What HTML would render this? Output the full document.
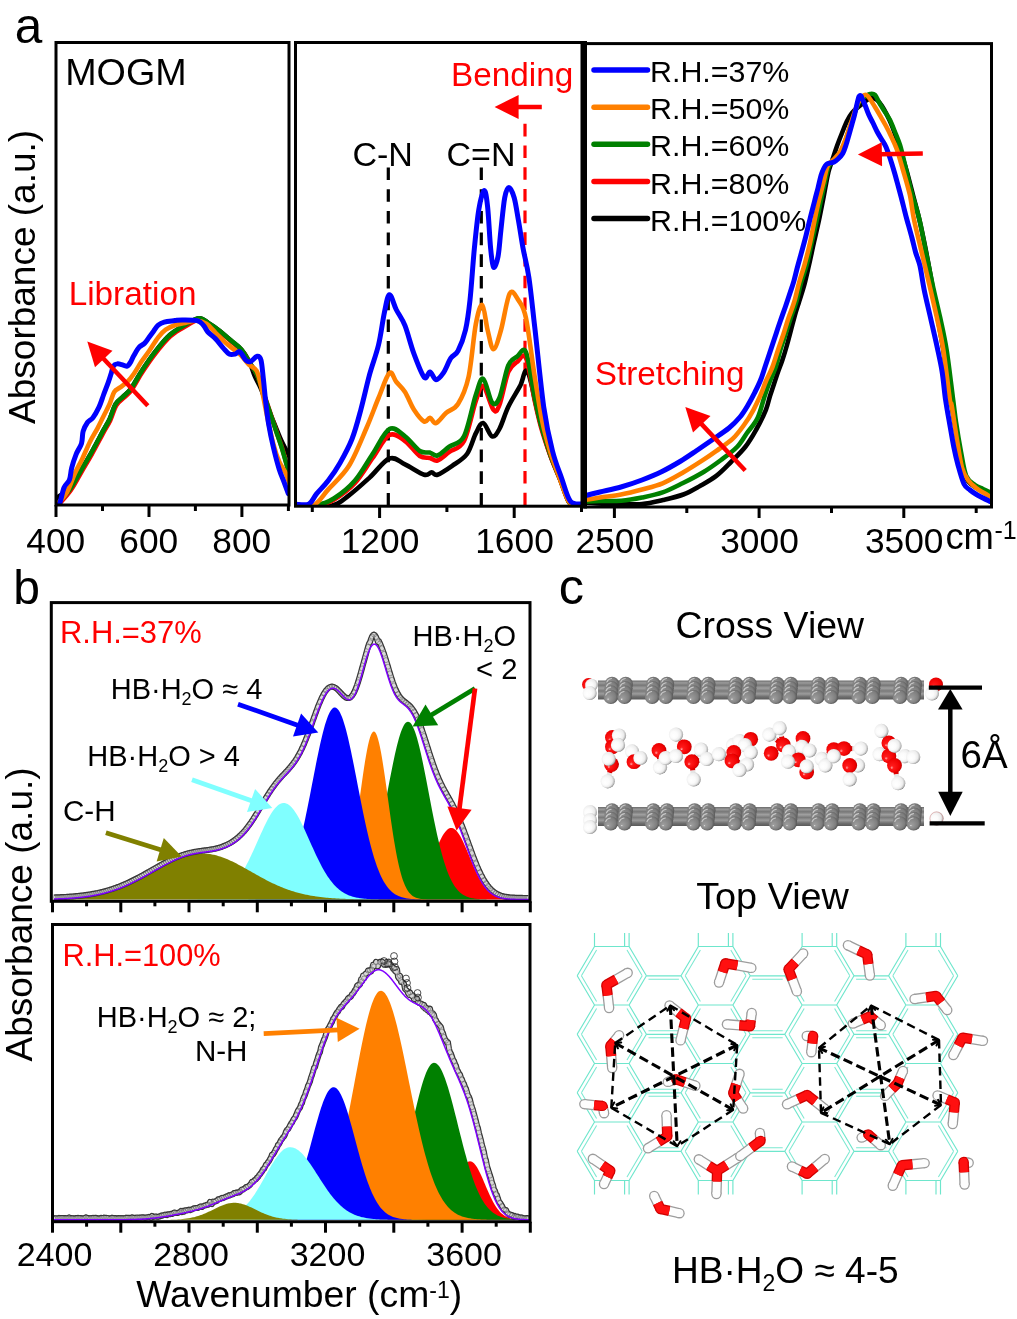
<!DOCTYPE html>
<html><head><meta charset="utf-8"><style>
html,body{margin:0;padding:0;background:#fff;width:1017px;height:1319px;overflow:hidden}
svg{display:block;will-change:transform}
</style></head><body>
<svg width="1017" height="1319" viewBox="0 0 1017 1319">
<rect width="1017" height="1319" fill="#fff"/>
<defs><clipPath id="c1"><rect x="56" y="43" width="233" height="462"/></clipPath><clipPath id="c2"><rect x="295" y="43" width="287" height="462"/></clipPath><clipPath id="c3"><rect x="585" y="44" width="406" height="463"/></clipPath></defs>
<g stroke-width="3.2" fill="none" stroke-dasharray="12.6,9.1"><line x1="388.3" y1="167.5" x2="388.3" y2="505" stroke="#000"/><line x1="481.3" y1="167.5" x2="481.3" y2="505" stroke="#000"/><line x1="525" y1="123.8" x2="525" y2="505" stroke="#ff0000"/></g>
<g clip-path="url(#c1)" fill="none" stroke-width="4.6" stroke-linejoin="round" stroke-linecap="round">
<path d="M56.0,500.0 C56.3,499.5 55.6,499.0 58.0,497.0 C60.4,495.0 66.4,492.4 70.2,488.0 C74.0,483.6 77.3,476.7 80.8,470.8 C84.3,464.9 87.9,458.9 91.4,452.6 C94.9,446.3 99.0,438.5 102.0,432.9 C105.0,427.3 107.3,424.0 109.6,419.2 C111.9,414.4 113.4,407.8 115.7,404.0 C118.0,400.2 120.8,399.0 123.3,396.5 C125.8,394.0 128.1,392.7 130.9,388.9 C133.7,385.1 137.0,378.5 140.0,373.7 C143.0,368.9 146.1,364.3 149.1,360.0 C152.1,355.7 155.2,351.7 158.2,347.9 C161.2,344.1 164.5,340.1 167.3,337.3 C170.1,334.5 172.3,333.0 174.8,331.2 C177.3,329.4 178.1,328.8 182.1,326.7 C186.1,324.6 194.2,318.8 198.8,318.3 C203.4,317.8 205.9,321.6 209.4,323.7 C212.9,325.8 216.6,328.4 220.1,331.2 C223.6,334.0 227.2,337.3 230.7,340.3 C234.2,343.3 238.2,345.9 241.3,349.4 C244.4,352.8 246.7,356.4 249.0,361.0 C251.3,365.6 253.0,372.1 255.0,376.7 C257.0,381.3 258.8,383.7 261.0,388.9 C263.2,394.1 265.5,401.4 268.0,408.0 C270.5,414.6 273.9,422.6 276.2,428.3 C278.5,434.0 280.0,437.7 282.0,442.0 C284.0,446.3 287.0,451.4 288.3,454.1 C289.6,456.8 289.7,457.4 290.0,458.0" stroke="#000000"/>
<path d="M56.6,506.2 C56.9,505.9 56.2,507.3 58.6,504.6 C61.0,501.9 67.0,495.6 70.8,490.2 C74.6,484.8 77.9,478.1 81.4,472.0 C84.9,465.9 88.5,460.1 92.0,453.8 C95.5,447.5 99.6,439.7 102.6,434.1 C105.6,428.5 107.9,425.2 110.2,420.4 C112.5,415.6 114.0,409.0 116.3,405.2 C118.6,401.4 121.4,400.2 123.9,397.7 C126.4,395.2 128.7,393.9 131.5,390.1 C134.3,386.3 137.6,379.7 140.6,374.9 C143.6,370.1 146.7,365.5 149.7,361.2 C152.7,356.9 155.8,352.9 158.8,349.1 C161.8,345.3 165.1,341.3 167.9,338.5 C170.7,335.7 172.9,334.2 175.4,332.4 C177.9,330.6 178.7,330.0 182.7,327.9 C186.7,325.8 194.8,320.0 199.4,319.5 C204.0,319.0 206.4,322.8 210.0,324.9 C213.6,327.0 217.1,329.6 220.7,332.4 C224.2,335.2 227.8,338.5 231.3,341.5 C234.8,344.5 238.9,347.0 241.9,350.6 C244.9,354.1 247.0,358.8 249.5,362.8 C252.0,366.9 254.8,370.1 257.1,374.9 C259.4,379.7 261.1,385.8 263.1,391.6 C265.1,397.4 266.9,403.0 269.2,409.8 C271.5,416.6 274.5,425.8 276.8,432.6 C279.1,439.4 280.9,444.2 282.9,450.8 C284.9,457.4 287.6,467.6 288.9,472.0 C290.2,476.4 290.3,476.3 290.6,477.2" stroke="#ff0000"/>
<path d="M56.0,505.0 C56.3,504.7 55.6,506.1 58.0,503.4 C60.4,500.7 66.4,494.4 70.2,489.0 C74.0,483.6 77.3,476.9 80.8,470.8 C84.3,464.7 87.9,458.9 91.4,452.6 C94.9,446.3 99.0,438.5 102.0,432.9 C105.0,427.3 107.3,424.0 109.6,419.2 C111.9,414.4 113.4,407.8 115.7,404.0 C118.0,400.2 120.8,399.0 123.3,396.5 C125.8,394.0 128.1,392.7 130.9,388.9 C133.7,385.1 137.0,378.5 140.0,373.7 C143.0,368.9 146.1,364.3 149.1,360.0 C152.1,355.7 155.2,351.7 158.2,347.9 C161.2,344.1 164.5,340.1 167.3,337.3 C170.1,334.5 172.3,333.0 174.8,331.2 C177.3,329.4 178.1,328.8 182.1,326.7 C186.1,324.6 194.2,318.8 198.8,318.3 C203.4,317.8 205.9,321.6 209.4,323.7 C212.9,325.8 216.6,328.4 220.1,331.2 C223.6,334.0 227.2,337.3 230.7,340.3 C234.2,343.3 238.3,345.8 241.3,349.4 C244.3,352.9 246.4,357.6 248.9,361.6 C251.4,365.7 254.2,368.9 256.5,373.7 C258.8,378.5 260.5,384.6 262.5,390.4 C264.5,396.2 266.3,401.8 268.6,408.6 C270.9,415.4 273.9,424.6 276.2,431.4 C278.5,438.2 280.3,443.0 282.3,449.6 C284.3,456.2 287.0,466.4 288.3,470.8 C289.6,475.2 289.7,475.1 290.0,476.0" stroke="#008000"/>
<path d="M56.5,505.0 C56.8,504.7 56.2,505.6 58.0,503.4 C59.8,501.2 64.3,496.9 67.1,492.0 C69.9,487.1 72.2,479.4 74.7,473.8 C77.2,468.2 79.8,464.0 82.3,458.7 C84.8,453.4 87.4,447.1 89.9,442.0 C92.4,436.9 95.2,432.6 97.5,428.3 C99.8,424.0 101.5,420.2 103.5,416.2 C105.5,412.1 107.8,408.1 109.6,404.0 C111.4,399.9 112.4,394.7 114.2,391.9 C116.0,389.1 117.9,389.2 120.2,387.4 C122.5,385.6 125.5,383.6 127.8,381.3 C130.1,379.0 131.6,377.0 133.9,373.7 C136.2,370.4 139.0,365.4 141.5,361.6 C144.0,357.8 146.3,355.1 149.1,351.0 C151.9,346.9 155.4,340.9 158.2,337.3 C161.0,333.8 162.9,331.7 165.7,329.7 C168.5,327.7 171.6,326.3 174.8,325.2 C178.0,324.1 181.5,323.8 185.0,323.0 C188.5,322.2 192.2,320.5 195.8,320.6 C199.4,320.7 203.1,321.7 206.4,323.7 C209.7,325.7 212.5,329.8 215.5,332.8 C218.5,335.8 221.6,339.1 224.6,341.9 C227.6,344.7 230.9,347.1 233.7,349.4 C236.5,351.7 238.8,353.0 241.3,355.5 C243.8,358.0 246.4,362.1 248.9,364.6 C251.4,367.1 254.5,367.2 256.5,370.7 C258.5,374.2 259.2,378.2 261.0,385.8 C262.8,393.4 265.1,406.6 267.1,416.2 C269.1,425.8 271.2,435.9 273.2,443.5 C275.2,451.1 277.2,456.9 279.2,461.7 C281.2,466.5 283.5,468.5 285.3,472.3 C287.1,476.1 289.1,482.5 289.8,484.5" stroke="#ff8000"/>
<path d="M56.5,505.0 C57.0,504.7 58.3,506.3 59.6,503.4 C60.9,500.5 62.5,491.4 64.1,487.5 C65.7,483.6 68.1,483.2 69.4,479.9 C70.7,476.6 70.6,472.1 71.7,467.8 C72.8,463.5 74.6,458.2 76.2,454.1 C77.8,450.1 80.3,447.3 81.5,443.5 C82.7,439.7 82.1,434.9 83.1,431.4 C84.1,427.9 86.0,424.6 87.6,422.3 C89.2,420.0 91.0,420.2 92.9,417.7 C94.8,415.2 97.2,410.9 99.0,407.1 C100.8,403.3 102.0,399.1 103.5,395.0 C105.0,390.9 106.8,386.4 108.1,382.8 C109.4,379.2 110.2,376.5 111.1,373.7 C112.0,370.9 112.4,367.7 113.4,366.1 C114.4,364.5 115.8,364.1 117.2,363.9 C118.6,363.6 120.1,364.2 121.7,364.6 C123.3,365.0 125.6,366.6 127.1,366.1 C128.6,365.6 129.8,363.4 130.9,361.6 C132.0,359.8 132.5,357.9 133.9,355.5 C135.3,353.1 137.4,349.2 139.2,347.2 C141.0,345.2 142.8,345.0 144.5,343.4 C146.2,341.8 147.6,339.3 149.1,337.3 C150.6,335.3 152.1,333.2 153.6,331.2 C155.1,329.2 156.4,326.7 158.2,325.2 C160.0,323.7 161.4,322.9 164.2,322.1 C167.0,321.3 171.8,321.0 174.8,320.6 C177.8,320.2 178.3,319.9 182.1,319.9 C185.8,319.9 193.8,319.7 197.3,320.6 C200.9,321.5 201.6,323.3 203.4,325.2 C205.2,327.1 205.9,329.7 207.9,332.0 C209.9,334.3 213.0,336.2 215.5,338.8 C218.0,341.4 220.8,345.4 223.1,347.9 C225.4,350.4 227.2,353.0 229.2,354.0 C231.2,355.0 233.4,354.4 235.2,354.0 C237.0,353.6 238.0,350.7 239.8,351.7 C241.6,352.7 244.0,358.5 245.8,360.1 C247.6,361.8 248.5,362.2 250.4,361.6 C252.3,361.0 255.4,356.6 257.2,356.3 C259.0,356.1 260.0,356.4 261.0,360.1 C262.0,363.8 262.5,371.5 263.3,378.3 C264.1,385.1 264.7,393.4 265.6,401.0 C266.5,408.6 267.3,416.2 268.6,423.8 C269.9,431.4 271.4,438.9 273.2,446.5 C275.0,454.1 277.4,463.5 279.2,469.3 C281.0,475.1 282.3,477.3 283.8,481.4 C285.3,485.4 287.6,491.6 288.3,493.6" stroke="#0000ff" stroke-width="5.0"/>
</g>
<g clip-path="url(#c2)" fill="none" stroke-width="4.6" stroke-linejoin="round" stroke-linecap="round">
<path d="M295.9,505.0 C301.8,505.1 322.4,507.3 331.3,505.7 C340.2,504.1 342.6,500.0 349.0,495.3 C355.4,490.6 362.9,483.7 369.6,477.6 C376.3,471.5 383.5,460.7 389.4,458.5 C395.3,456.3 399.2,461.7 405.0,464.4 C410.8,467.1 419.8,473.4 424.2,474.7 C428.6,476.0 429.4,472.3 431.6,472.3 C433.8,472.3 434.1,475.8 437.5,474.7 C440.9,473.6 447.3,469.2 452.2,465.8 C457.1,462.4 463.1,459.4 467.0,454.0 C470.9,448.6 473.1,438.6 475.8,433.4 C478.5,428.2 480.5,422.5 483.2,423.0 C485.9,423.5 489.3,435.3 492.0,436.3 C494.7,437.3 496.7,433.9 499.4,429.0 C502.1,424.1 504.9,413.9 508.3,406.8 C511.7,399.7 516.8,392.1 520.0,386.2 C523.2,380.3 524.5,367.0 527.5,371.4 C530.5,375.8 535.0,402.1 537.8,412.7 C540.5,423.3 541.8,427.6 544.0,435.0 C546.2,442.4 548.3,449.7 551.0,457.0 C553.7,464.3 557.0,471.6 560.0,479.0 C563.0,486.4 566.3,497.2 568.8,501.5 C571.3,505.8 572.8,503.9 575.0,504.5 C577.2,505.1 580.8,504.9 582.0,505.0" stroke="#000000"/>
<path d="M295.9,505.0 C299.6,505.0 311.6,506.1 318.0,505.2 C324.4,504.3 328.0,503.2 334.2,499.5 C340.4,495.8 348.6,489.9 355.0,483.0 C361.4,476.1 366.9,466.0 372.6,458.0 C378.3,450.0 384.0,437.8 389.4,435.0 C394.8,432.2 399.9,437.5 405.0,441.0 C410.1,444.5 415.6,453.2 419.8,456.0 C424.0,458.8 427.1,457.2 430.0,458.0 C432.9,458.8 434.3,461.5 437.5,460.5 C440.7,459.5 444.9,455.2 449.3,452.0 C453.7,448.8 459.6,449.5 464.0,441.0 C468.4,432.5 472.6,410.2 475.8,401.0 C479.0,391.8 480.2,384.5 483.2,386.0 C486.1,387.5 490.8,406.6 493.5,409.8 C496.2,413.0 496.9,411.3 499.4,405.0 C501.9,398.7 505.4,379.2 508.3,372.0 C511.2,364.8 514.0,364.3 517.0,362.0 C520.0,359.7 523.0,351.5 526.0,358.0 C529.0,364.5 532.3,389.5 534.8,401.0 C537.3,412.5 538.4,417.8 541.0,427.0 C543.6,436.2 547.4,447.3 550.5,456.0 C553.6,464.7 556.8,471.4 559.8,479.0 C562.8,486.6 566.1,497.2 568.6,501.5 C571.1,505.8 572.8,503.9 575.0,504.5 C577.2,505.1 580.8,504.9 582.0,505.0" stroke="#ff0000"/>
<path d="M295.9,505.0 C299.3,505.0 310.1,506.3 316.5,505.2 C322.9,504.1 327.8,502.4 334.2,498.3 C340.6,494.2 348.6,488.0 355.0,480.6 C361.4,473.2 366.9,462.6 372.6,454.0 C378.3,445.4 384.0,431.9 389.4,429.0 C394.8,426.1 399.9,432.6 405.0,436.3 C410.1,440.0 415.6,448.3 419.8,451.0 C424.0,453.7 427.1,451.9 430.0,452.6 C432.9,453.4 434.3,456.5 437.5,455.5 C440.7,454.5 444.9,449.9 449.3,446.7 C453.7,443.5 459.6,444.9 464.0,436.3 C468.4,427.7 472.6,404.6 475.8,395.0 C479.0,385.4 480.5,377.6 483.2,378.8 C485.9,380.0 489.3,399.2 492.0,402.4 C494.7,405.6 496.7,404.1 499.4,398.0 C502.1,391.9 505.4,372.4 508.3,365.5 C511.2,358.6 514.0,358.9 517.0,356.7 C520.0,354.5 523.0,345.4 526.0,352.3 C529.0,359.2 532.3,385.9 534.8,398.0 C537.3,410.1 538.4,415.5 541.0,425.0 C543.6,434.5 547.4,446.1 550.5,455.0 C553.6,463.9 556.8,470.8 559.8,478.5 C562.8,486.2 566.1,497.2 568.6,501.5 C571.1,505.8 572.8,503.9 575.0,504.5 C577.2,505.1 580.8,504.9 582.0,505.0" stroke="#008000"/>
<path d="M295.9,505.0 C298.8,505.0 308.2,507.8 313.6,505.2 C319.0,502.6 322.4,496.0 328.3,489.4 C334.2,482.8 342.6,476.1 349.0,465.8 C355.4,455.5 361.8,438.8 366.7,427.5 C371.6,416.2 374.7,407.1 378.5,398.0 C382.3,388.9 386.4,375.7 389.4,373.0 C392.3,370.3 393.6,378.6 396.2,381.8 C398.8,385.0 402.0,387.3 405.0,392.0 C408.0,396.7 410.8,404.9 414.0,409.8 C417.2,414.7 421.5,420.3 424.2,421.6 C426.9,422.9 428.0,417.6 430.0,417.8 C432.0,418.0 433.3,423.9 436.0,423.0 C438.7,422.1 442.6,415.9 446.3,412.7 C450.0,409.5 454.3,409.9 458.0,404.0 C461.7,398.1 465.5,390.6 468.5,377.3 C471.5,364.0 473.5,336.2 475.8,324.2 C478.1,312.1 480.3,304.0 482.3,305.0 C484.3,306.0 485.7,322.6 487.6,330.0 C489.5,337.4 491.3,349.3 493.5,349.3 C495.7,349.3 498.3,339.3 501.0,330.0 C503.7,320.7 506.9,298.2 509.8,293.3 C512.7,288.4 515.9,296.4 518.6,300.6 C521.3,304.8 523.3,305.5 526.0,318.3 C528.7,331.1 532.1,360.4 534.8,377.3 C537.5,394.2 539.5,407.7 542.0,420.0 C544.5,432.3 547.1,441.4 550.0,451.0 C552.9,460.6 556.4,469.3 559.5,477.6 C562.6,485.9 565.9,496.5 568.5,501.0 C571.1,505.5 572.8,503.8 575.0,504.5 C577.2,505.2 580.8,504.9 582.0,505.0" stroke="#ff8000"/>
<path d="M295.9,504.2 C298.1,504.2 305.6,505.7 309.0,504.0 C312.4,502.3 313.3,497.8 316.5,493.9 C319.7,490.0 324.4,485.8 328.3,480.6 C332.2,475.5 336.1,469.9 340.0,463.0 C343.9,456.1 348.5,447.9 352.0,439.0 C355.5,430.1 357.9,420.6 360.8,409.8 C363.7,399.0 366.7,385.2 369.6,374.4 C372.6,363.6 376.0,355.3 378.5,345.0 C381.0,334.7 382.6,320.8 384.4,312.4 C386.2,304.0 387.4,295.2 389.4,294.7 C391.4,294.2 393.6,304.3 396.2,309.5 C398.8,314.7 402.1,318.3 405.0,325.7 C407.9,333.1 410.7,345.1 413.9,353.7 C417.1,362.3 421.5,374.2 424.2,377.3 C426.9,380.4 428.0,371.6 430.0,372.0 C432.0,372.4 433.8,379.6 436.0,379.7 C438.2,379.8 440.9,376.5 443.4,372.9 C445.9,369.3 448.4,361.9 450.8,358.2 C453.2,354.5 455.6,355.5 458.0,350.8 C460.4,346.1 463.5,338.5 465.5,330.0 C467.5,321.5 468.5,313.7 470.0,300.0 C471.5,286.3 472.9,263.1 474.4,248.0 C475.9,232.9 477.2,219.2 478.8,209.6 C480.4,200.0 482.6,191.0 484.1,190.5 C485.6,190.0 486.5,197.1 487.6,206.7 C488.7,216.3 489.6,237.9 490.6,248.0 C491.6,258.1 492.3,265.7 493.5,267.2 C494.7,268.7 496.8,262.9 498.0,256.8 C499.2,250.7 499.8,240.1 500.9,230.3 C502.0,220.5 503.4,204.9 504.7,197.8 C506.0,190.7 507.3,187.5 508.9,187.5 C510.5,187.5 512.6,192.2 514.2,197.8 C515.8,203.5 517.1,213.0 518.6,221.4 C520.1,229.8 521.3,238.7 523.0,248.0 C524.7,257.4 526.9,264.2 528.9,277.5 C530.9,290.8 532.3,306.1 534.8,327.6 C537.3,349.2 540.8,386.2 543.7,406.8 C546.7,427.4 549.5,439.2 552.5,451.0 C555.5,462.8 558.4,469.3 561.4,477.6 C564.4,485.9 566.8,496.6 570.2,501.0 C573.6,505.4 580.0,503.5 582.0,504.0" stroke="#0000ff" stroke-width="5.0"/>
</g>
<g clip-path="url(#c3)" fill="none" stroke-width="4.6" stroke-linejoin="round" stroke-linecap="round">
<path d="M586.0,502.7 C590.0,502.9 600.7,503.8 610.0,504.0 C619.3,504.2 633.2,504.7 642.0,504.0 C650.8,503.3 656.1,501.6 663.0,500.0 C669.9,498.4 677.1,496.8 683.3,494.5 C689.5,492.2 694.5,489.1 700.0,486.0 C705.5,482.9 711.1,479.9 716.3,475.9 C721.5,471.9 726.2,466.8 731.0,462.0 C735.8,457.2 741.0,452.3 745.2,447.0 C749.4,441.7 752.5,436.2 756.0,430.0 C759.5,423.8 763.6,415.5 765.9,409.8 C768.2,404.1 768.6,400.3 770.0,396.0 C771.4,391.7 772.7,388.0 774.0,384.0 C775.3,380.0 776.6,376.0 778.0,372.0 C779.4,368.0 780.9,364.5 782.4,360.0 C783.9,355.5 785.6,350.0 787.0,345.0 C788.4,340.0 789.7,335.0 791.0,330.0 C792.3,325.0 793.7,319.7 795.0,315.0 C796.3,310.3 797.5,306.8 799.0,302.0 C800.5,297.2 802.3,292.2 804.0,286.0 C805.7,279.8 807.3,272.3 809.0,265.0 C810.7,257.7 812.3,249.5 814.0,242.0 C815.7,234.5 817.5,227.0 819.0,220.0 C820.5,213.0 821.8,206.0 823.0,200.0 C824.2,194.0 825.0,189.0 826.0,184.0 C827.0,179.0 827.8,174.3 829.0,170.0 C830.2,165.7 831.7,162.0 833.0,158.0 C834.3,154.0 835.5,150.2 837.0,146.0 C838.5,141.8 840.3,137.2 842.0,133.0 C843.7,128.8 845.3,124.3 847.0,121.0 C848.7,117.7 850.3,115.2 852.0,113.0 C853.7,110.8 855.3,109.5 857.0,108.0 C858.7,106.5 860.3,105.3 862.0,104.0 C863.7,102.7 865.3,101.0 867.0,100.0 C868.7,99.0 870.3,98.0 872.0,98.0 C873.7,98.0 875.3,98.7 877.0,100.0 C878.7,101.3 880.3,103.5 882.0,106.0 C883.7,108.5 885.3,111.7 887.0,115.0 C888.7,118.3 890.3,121.8 892.0,126.0 C893.7,130.2 895.3,135.0 897.0,140.0 C898.7,145.0 900.3,150.7 902.0,156.0 C903.7,161.3 905.2,165.5 907.0,172.0 C908.8,178.5 911.0,187.3 913.0,195.0 C915.0,202.7 917.0,209.5 919.0,218.0 C921.0,226.5 923.0,236.0 925.0,246.0 C927.0,256.0 929.0,266.7 931.0,278.0 C933.0,289.3 935.0,302.3 937.0,314.0 C939.0,325.7 940.8,334.5 943.0,348.0 C945.2,361.5 948.0,382.2 950.0,395.0 C952.0,407.8 953.3,415.0 955.0,425.0 C956.7,435.0 958.2,446.2 960.0,455.0 C961.8,463.8 963.5,472.7 966.0,478.0 C968.5,483.3 972.2,484.8 975.0,487.0 C977.8,489.2 980.5,489.8 983.0,491.0 C985.5,492.2 988.8,493.5 990.0,494.0" stroke="#000000"/>
<path d="M586.0,501.5 C588.3,501.4 594.1,501.1 600.0,501.0 C605.9,500.9 614.3,501.3 621.3,500.7 C628.3,500.1 635.1,498.9 642.0,497.5 C648.9,496.1 655.8,494.8 662.6,492.4 C669.4,490.0 676.1,486.4 683.0,483.0 C689.9,479.6 697.7,475.5 704.0,471.7 C710.3,467.9 715.5,464.1 721.0,460.0 C726.5,455.9 732.7,451.5 737.0,447.0 C741.3,442.5 743.6,437.8 747.0,433.0 C750.4,428.2 754.6,424.3 757.6,418.0 C760.6,411.7 762.8,401.4 764.9,395.2 C767.0,389.0 768.2,385.7 770.0,381.0 C771.8,376.3 774.0,372.1 775.7,367.1 C777.4,362.1 778.4,356.4 780.0,351.0 C781.6,345.6 783.6,340.1 785.4,334.6 C787.2,329.1 788.9,323.4 790.7,318.0 C792.5,312.6 794.5,308.0 796.2,302.2 C797.9,296.4 799.2,289.5 801.0,283.0 C802.8,276.5 805.3,270.3 807.1,263.3 C808.9,256.3 810.4,248.2 812.0,241.0 C813.6,233.8 815.3,226.8 816.8,220.0 C818.3,213.2 819.6,206.3 821.0,200.0 C822.4,193.7 823.7,187.7 825.0,182.0 C826.3,176.3 827.3,169.7 829.0,166.0 C830.7,162.3 832.8,162.7 835.0,160.0 C837.2,157.3 839.8,154.5 842.0,150.0 C844.2,145.5 846.0,138.8 848.0,133.0 C850.0,127.2 852.0,120.5 854.0,115.0 C856.0,109.5 858.0,103.2 860.0,100.0 C862.0,96.8 864.3,97.0 866.0,96.0 C867.7,95.0 868.5,94.2 870.0,94.0 C871.5,93.8 873.3,93.3 875.0,95.0 C876.7,96.7 878.3,101.2 880.0,104.0 C881.7,106.8 883.3,109.3 885.0,112.0 C886.7,114.7 888.3,116.7 890.0,120.0 C891.7,123.3 893.3,127.8 895.0,132.0 C896.7,136.2 898.3,139.5 900.0,145.0 C901.7,150.5 903.2,157.5 905.0,165.0 C906.8,172.5 908.6,180.8 911.0,190.0 C913.4,199.2 917.0,209.6 919.5,220.0 C922.0,230.4 923.6,240.9 926.0,252.4 C928.4,263.9 931.2,278.4 933.6,289.2 C936.0,300.0 937.9,307.2 940.1,317.3 C942.3,327.4 944.4,336.1 946.6,349.8 C948.8,363.5 951.5,387.4 953.1,399.5 C954.7,411.6 954.7,413.4 956.0,422.2 C957.3,430.9 959.3,443.1 961.0,452.0 C962.7,460.9 963.9,470.4 966.2,475.9 C968.5,481.4 972.2,482.8 975.0,485.0 C977.8,487.2 980.5,487.8 983.0,489.0 C985.5,490.2 988.8,491.8 990.0,492.4" stroke="#008000"/>
<path d="M586.0,499.8 C588.3,499.4 594.2,498.4 600.0,497.5 C605.8,496.6 614.0,495.8 621.0,494.5 C628.0,493.2 635.1,491.4 642.0,489.5 C648.9,487.6 655.8,486.1 662.6,483.3 C669.4,480.5 676.1,476.5 683.0,472.5 C689.9,468.5 698.0,463.3 704.0,459.4 C710.0,455.5 714.2,452.4 719.0,449.0 C723.8,445.6 728.6,442.7 732.8,438.7 C737.0,434.7 740.5,429.8 744.0,425.0 C747.5,420.2 750.8,414.8 753.5,409.8 C756.2,404.8 758.4,400.0 760.5,395.2 C762.6,390.4 764.0,385.7 766.0,381.0 C768.0,376.3 770.4,372.3 772.4,367.1 C774.4,361.9 776.2,355.4 778.0,350.0 C779.8,344.6 781.5,339.9 783.3,334.6 C785.0,329.3 786.7,323.4 788.5,318.0 C790.3,312.6 792.4,308.0 794.1,302.2 C795.9,296.4 797.2,289.5 799.0,283.0 C800.8,276.5 803.1,270.0 804.9,263.3 C806.7,256.6 808.4,250.2 810.0,243.0 C811.6,235.8 813.1,227.2 814.6,220.0 C816.1,212.8 817.5,206.3 819.0,200.0 C820.5,193.7 822.1,187.7 823.5,182.0 C824.9,176.3 826.0,169.7 827.6,166.0 C829.2,162.3 830.9,162.3 833.0,160.0 C835.1,157.7 837.8,155.7 840.0,152.0 C842.2,148.3 844.0,143.3 846.0,138.0 C848.0,132.7 850.0,125.8 852.0,120.0 C854.0,114.2 856.2,107.0 858.0,103.0 C859.8,99.0 861.6,97.3 863.0,96.0 C864.4,94.7 865.3,94.5 866.5,95.0 C867.7,95.5 868.6,97.0 870.0,99.0 C871.4,101.0 873.4,104.4 875.0,107.0 C876.6,109.6 877.7,111.4 879.5,114.6 C881.3,117.8 884.1,122.4 886.0,126.0 C887.9,129.6 889.2,132.1 891.0,136.0 C892.8,139.9 894.8,143.5 896.8,149.2 C898.8,154.9 900.8,162.4 903.0,170.0 C905.2,177.6 907.9,186.3 909.8,194.6 C911.6,202.9 912.1,210.4 914.1,220.0 C916.1,229.6 919.0,240.9 921.7,252.4 C924.4,263.9 927.9,278.4 930.4,289.2 C932.9,300.0 934.6,307.2 936.8,317.3 C938.9,327.4 941.1,336.1 943.3,349.8 C945.5,363.5 948.4,390.2 949.8,399.5 C951.2,408.8 950.5,398.9 951.7,405.7 C952.9,412.4 955.3,429.7 957.0,440.0 C958.7,450.3 960.2,460.9 962.0,467.6 C963.8,474.3 965.6,476.6 968.0,480.0 C970.4,483.4 973.8,486.1 976.5,488.3 C979.2,490.5 981.8,491.6 984.0,493.0 C986.2,494.4 989.0,495.9 990.0,496.5" stroke="#ff8000"/>
<path d="M586.0,495.5 C588.3,494.9 594.2,493.4 600.0,492.0 C605.8,490.6 614.0,489.0 621.0,487.0 C628.0,485.0 635.2,482.6 642.0,480.0 C648.8,477.4 655.7,474.6 662.0,471.5 C668.3,468.4 674.3,464.9 680.0,461.5 C685.7,458.1 690.7,454.6 696.0,451.0 C701.3,447.4 706.5,443.8 712.0,440.0 C717.5,436.2 724.3,431.8 729.0,428.0 C733.7,424.2 736.8,420.8 740.0,417.0 C743.2,413.2 745.5,409.2 748.0,405.0 C750.5,400.8 752.8,396.3 755.0,392.0 C757.2,387.7 759.2,383.7 761.0,379.0 C762.8,374.3 764.3,369.0 766.0,364.0 C767.7,359.0 769.5,353.5 771.0,349.0 C772.5,344.5 773.5,341.5 775.0,337.0 C776.5,332.5 778.2,327.1 780.0,322.0 C781.8,316.9 783.8,311.3 785.5,306.5 C787.2,301.7 788.6,297.3 790.0,293.0 C791.4,288.7 792.7,285.3 794.0,280.6 C795.3,275.9 796.5,270.4 798.0,265.0 C799.5,259.6 801.4,252.9 802.7,248.0 C804.0,243.1 804.8,240.5 806.0,235.7 C807.2,230.9 808.6,224.8 810.0,219.0 C811.4,213.2 813.3,206.2 814.6,201.0 C815.9,195.8 816.9,192.3 818.0,188.0 C819.1,183.7 820.1,178.5 821.1,175.2 C822.1,171.9 823.1,169.8 824.0,168.0 C824.9,166.2 825.5,165.2 826.5,164.4 C827.5,163.6 828.8,163.4 830.0,163.0 C831.2,162.6 832.7,162.7 834.0,162.0 C835.3,161.3 836.5,160.4 838.0,159.0 C839.5,157.6 841.4,155.8 842.7,153.5 C844.0,151.2 844.9,148.2 846.0,145.0 C847.1,141.8 848.2,137.5 849.2,134.0 C850.2,130.5 851.1,127.2 852.0,124.0 C852.9,120.8 853.8,117.9 854.6,114.6 C855.4,111.3 856.3,107.0 857.0,104.0 C857.7,101.0 858.3,97.8 859.0,96.5 C859.7,95.2 860.4,95.5 861.0,96.0 C861.6,96.5 861.8,98.0 862.5,99.5 C863.2,101.0 864.0,102.5 865.0,105.0 C866.0,107.5 867.4,111.6 868.7,114.6 C870.0,117.6 871.6,120.1 873.0,123.0 C874.4,125.9 875.8,129.2 877.3,132.0 C878.8,134.8 880.5,137.5 882.0,140.0 C883.5,142.5 884.7,144.0 886.0,147.0 C887.3,150.0 888.6,153.7 890.0,158.0 C891.4,162.3 893.1,167.8 894.6,173.0 C896.1,178.2 897.5,183.6 899.0,189.0 C900.5,194.4 902.0,200.3 903.3,205.5 C904.6,210.7 905.5,214.6 907.0,220.0 C908.5,225.4 910.6,232.7 912.0,238.0 C913.4,243.3 914.2,247.3 915.5,252.0 C916.8,256.7 918.6,259.8 920.0,266.0 C921.4,272.2 922.3,280.4 924.0,289.0 C925.7,297.6 928.3,307.9 930.4,317.3 C932.5,326.7 934.9,336.6 936.8,345.5 C938.7,354.4 940.5,362.0 942.0,371.0 C943.5,380.0 944.3,391.3 945.5,399.5 C946.7,407.7 947.6,412.1 949.0,420.0 C950.4,427.9 952.3,439.5 953.8,447.0 C955.3,454.5 956.3,458.8 958.0,465.0 C959.7,471.2 962.0,479.8 964.0,484.0 C966.0,488.2 967.9,488.2 970.0,490.0 C972.1,491.8 974.3,493.2 976.5,494.5 C978.7,495.8 980.8,496.8 983.0,498.0 C985.2,499.2 988.8,500.9 990.0,501.5" stroke="#0000ff" stroke-width="5.0"/>
</g>
<g fill="none" stroke="#000" stroke-width="3"><rect x="56" y="42.5" width="233" height="462.5"/><rect x="295.5" y="42.5" width="286.5" height="463.7"/><rect x="585" y="43.6" width="406.5" height="463.4"/></g><rect x="581" y="41" width="6" height="467.5" fill="#000"/>
<g stroke="#000" stroke-width="3">
<line x1="56.0" y1="505" x2="56.0" y2="517"/>
<line x1="102.5" y1="505" x2="102.5" y2="511"/>
<line x1="149.0" y1="505" x2="149.0" y2="517"/>
<line x1="195.4" y1="505" x2="195.4" y2="511"/>
<line x1="241.9" y1="505" x2="241.9" y2="517"/>
<line x1="288.4" y1="505" x2="288.4" y2="511"/>
<line x1="312.3" y1="506" x2="312.3" y2="512"/>
<line x1="379.6" y1="506" x2="379.6" y2="518"/>
<line x1="446.9" y1="506" x2="446.9" y2="512"/>
<line x1="514.2" y1="506" x2="514.2" y2="518"/>
<line x1="581.5" y1="506" x2="581.5" y2="512"/>
<line x1="614.4" y1="507" x2="614.4" y2="518"/>
<line x1="686.8" y1="507" x2="686.8" y2="513"/>
<line x1="759.1" y1="507" x2="759.1" y2="518"/>
<line x1="831.5" y1="507" x2="831.5" y2="513"/>
<line x1="903.8" y1="507" x2="903.8" y2="518"/>
<line x1="976.2" y1="507" x2="976.2" y2="513"/>
</g>
<g font-family='"Liberation Sans", sans-serif' font-size="35.3" text-anchor="middle" fill="#000">
<text x="55.8" y="553.3">400</text>
<text x="148.8" y="553.3">600</text>
<text x="241.8" y="553.3">800</text>
<text x="380" y="553.3">1200</text>
<text x="514.5" y="553.3">1600</text>
<text x="614.8" y="553.3">2500</text>
<text x="759.5" y="553.3">3000</text>
<text x="904.2" y="553.3">3500</text>
</g>
<text x="945.4" y="549" font-family='"Liberation Sans", sans-serif' font-size="36.4">cm<tspan font-size="25" dx="0.5" dy="-9.8">-1</tspan></text>
<text transform="translate(35.1,276.9) rotate(-90)" text-anchor="middle" font-family='"Liberation Sans", sans-serif' font-size="37">Absorbance (a.u.)</text>
<text x="14.8" y="43" font-family='"Liberation Sans", sans-serif' font-size="49.5">a</text>
<text x="65.2" y="84.8" font-family='"Liberation Sans", sans-serif' font-size="37.7">MOGM</text>
<text x="352.4" y="165.6" font-family='"Liberation Sans", sans-serif' font-size="34">C-N</text>
<text x="446.5" y="165.6" font-family='"Liberation Sans", sans-serif' font-size="34">C=N</text>
<text x="451" y="85.8" font-family='"Liberation Sans", sans-serif' font-size="33.3" fill="#ff0000">Bending</text>
<text x="68.7" y="304.9" font-family='"Liberation Sans", sans-serif' font-size="33.3" fill="#ff0000">Libration</text>
<text x="594.7" y="384.6" font-family='"Liberation Sans", sans-serif' font-size="33.3" fill="#ff0000">Stretching</text>
<line x1="541.8" y1="107.0" x2="516.6" y2="107.0" stroke="#ff0000" stroke-width="4.5"/><polygon points="494.6,107.0 518.6,95.0 518.6,119.0" fill="#ff0000"/>
<line x1="147.8" y1="405.7" x2="102.4" y2="357.5" stroke="#ff0000" stroke-width="4.5"/><polygon points="87.3,341.5 112.5,350.7 95.0,367.2" fill="#ff0000"/>
<line x1="922.8" y1="153.5" x2="879.9" y2="154.2" stroke="#ff0000" stroke-width="4.5"/><polygon points="857.9,154.6 881.7,142.2 882.1,166.2" fill="#ff0000"/>
<line x1="745.2" y1="470.5" x2="700.4" y2="422.9" stroke="#ff0000" stroke-width="4.5"/><polygon points="685.3,406.9 710.5,416.1 693.0,432.6" fill="#ff0000"/>
<line x1="594" y1="70.1" x2="647.5" y2="70.1" stroke="#0000ff" stroke-width="5.5" stroke-linecap="round"/>
<text x="650" y="82.2" font-family='"Liberation Sans", sans-serif' font-size="30.4">R.H.=37%</text>
<line x1="594" y1="107.2" x2="647.5" y2="107.2" stroke="#ff8000" stroke-width="5.5" stroke-linecap="round"/>
<text x="650" y="119.3" font-family='"Liberation Sans", sans-serif' font-size="30.4">R.H.=50%</text>
<line x1="594" y1="144.3" x2="647.5" y2="144.3" stroke="#008000" stroke-width="5.5" stroke-linecap="round"/>
<text x="650" y="156.4" font-family='"Liberation Sans", sans-serif' font-size="30.4">R.H.=60%</text>
<line x1="594" y1="181.4" x2="647.5" y2="181.4" stroke="#ff0000" stroke-width="5.5" stroke-linecap="round"/>
<text x="650" y="193.5" font-family='"Liberation Sans", sans-serif' font-size="30.4">R.H.=80%</text>
<line x1="594" y1="218.5" x2="647.5" y2="218.5" stroke="#000000" stroke-width="5.5" stroke-linecap="round"/>
<text x="650" y="230.6" font-family='"Liberation Sans", sans-serif' font-size="30.4">R.H.=100%</text>
<defs><clipPath id="cb1"><rect x="53" y="604" width="476" height="297"/></clipPath><clipPath id="cb2"><rect x="53" y="925" width="476" height="296.5"/></clipPath></defs>
<g clip-path="url(#cb1)">
<path d="M54,899.5 L54.0,899.50 L55.0,899.50 L56.0,899.50 L57.0,899.50 L58.0,899.50 L59.0,899.50 L60.0,899.50 L61.0,899.50 L62.0,899.50 L63.0,899.50 L64.0,899.50 L65.0,899.50 L66.0,899.50 L67.0,899.50 L68.0,899.50 L69.0,899.50 L70.0,899.50 L71.0,899.50 L72.0,899.50 L73.0,899.50 L74.0,899.50 L75.0,899.50 L76.0,899.50 L77.0,899.50 L78.0,899.50 L79.0,899.50 L80.0,899.50 L81.0,899.50 L82.0,899.50 L83.0,899.50 L84.0,899.50 L85.0,899.50 L86.0,899.50 L87.0,899.50 L88.0,899.50 L89.0,899.50 L90.0,899.50 L91.0,899.50 L92.0,899.50 L93.0,899.50 L94.0,899.50 L95.0,899.50 L96.0,899.50 L97.0,899.50 L98.0,899.50 L99.0,899.50 L100.0,899.50 L101.0,899.50 L102.0,899.50 L103.0,899.50 L104.0,899.50 L105.0,899.50 L106.0,899.50 L107.0,899.50 L108.0,899.50 L109.0,899.50 L110.0,899.50 L111.0,899.50 L112.0,899.50 L113.0,899.50 L114.0,899.50 L115.0,899.50 L116.0,899.50 L117.0,899.50 L118.0,899.50 L119.0,899.50 L120.0,899.50 L121.0,899.50 L122.0,899.50 L123.0,899.50 L124.0,899.50 L125.0,899.50 L126.0,899.50 L127.0,899.50 L128.0,899.50 L129.0,899.50 L130.0,899.50 L131.0,899.50 L132.0,899.50 L133.0,899.50 L134.0,899.50 L135.0,899.50 L136.0,899.50 L137.0,899.50 L138.0,899.50 L139.0,899.50 L140.0,899.50 L141.0,899.50 L142.0,899.50 L143.0,899.50 L144.0,899.50 L145.0,899.50 L146.0,899.50 L147.0,899.50 L148.0,899.50 L149.0,899.50 L150.0,899.50 L151.0,899.50 L152.0,899.50 L153.0,899.50 L154.0,899.50 L155.0,899.50 L156.0,899.50 L157.0,899.50 L158.0,899.50 L159.0,899.50 L160.0,899.50 L161.0,899.50 L162.0,899.50 L163.0,899.50 L164.0,899.50 L165.0,899.50 L166.0,899.50 L167.0,899.50 L168.0,899.50 L169.0,899.50 L170.0,899.50 L171.0,899.50 L172.0,899.50 L173.0,899.50 L174.0,899.50 L175.0,899.50 L176.0,899.50 L177.0,899.50 L178.0,899.50 L179.0,899.50 L180.0,899.50 L181.0,899.50 L182.0,899.50 L183.0,899.50 L184.0,899.50 L185.0,899.50 L186.0,899.50 L187.0,899.50 L188.0,899.50 L189.0,899.50 L190.0,899.50 L191.0,899.50 L192.0,899.50 L193.0,899.50 L194.0,899.50 L195.0,899.50 L196.0,899.50 L197.0,899.50 L198.0,899.50 L199.0,899.50 L200.0,899.50 L201.0,899.50 L202.0,899.50 L203.0,899.50 L204.0,899.50 L205.0,899.50 L206.0,899.50 L207.0,899.50 L208.0,899.50 L209.0,899.50 L210.0,899.50 L211.0,899.50 L212.0,899.50 L213.0,899.50 L214.0,899.50 L215.0,899.50 L216.0,899.50 L217.0,899.50 L218.0,899.50 L219.0,899.50 L220.0,899.50 L221.0,899.50 L222.0,899.50 L223.0,899.50 L224.0,899.50 L225.0,899.50 L226.0,899.50 L227.0,899.50 L228.0,899.50 L229.0,899.50 L230.0,899.50 L231.0,899.50 L232.0,899.50 L233.0,899.50 L234.0,899.50 L235.0,899.50 L236.0,899.50 L237.0,899.50 L238.0,899.50 L239.0,899.50 L240.0,899.50 L241.0,899.50 L242.0,899.50 L243.0,899.50 L244.0,899.50 L245.0,899.50 L246.0,899.50 L247.0,899.50 L248.0,899.50 L249.0,899.50 L250.0,899.50 L251.0,899.50 L252.0,899.50 L253.0,899.50 L254.0,899.50 L255.0,899.50 L256.0,899.50 L257.0,899.50 L258.0,899.50 L259.0,899.50 L260.0,899.50 L261.0,899.50 L262.0,899.50 L263.0,899.50 L264.0,899.50 L265.0,899.50 L266.0,899.50 L267.0,899.50 L268.0,899.50 L269.0,899.50 L270.0,899.50 L271.0,899.50 L272.0,899.50 L273.0,899.50 L274.0,899.50 L275.0,899.50 L276.0,899.50 L277.0,899.50 L278.0,899.50 L279.0,899.50 L280.0,899.50 L281.0,899.50 L282.0,899.50 L283.0,899.50 L284.0,899.50 L285.0,899.50 L286.0,899.50 L287.0,899.50 L288.0,899.50 L289.0,899.50 L290.0,899.50 L291.0,899.50 L292.0,899.50 L293.0,899.50 L294.0,899.50 L295.0,899.50 L296.0,899.50 L297.0,899.50 L298.0,899.50 L299.0,899.50 L300.0,899.50 L301.0,899.50 L302.0,899.50 L303.0,899.50 L304.0,899.50 L305.0,899.50 L306.0,899.50 L307.0,899.50 L308.0,899.50 L309.0,899.50 L310.0,899.50 L311.0,899.50 L312.0,899.50 L313.0,899.50 L314.0,899.50 L315.0,899.50 L316.0,899.50 L317.0,899.50 L318.0,899.50 L319.0,899.50 L320.0,899.50 L321.0,899.50 L322.0,899.50 L323.0,899.50 L324.0,899.50 L325.0,899.50 L326.0,899.50 L327.0,899.50 L328.0,899.50 L329.0,899.50 L330.0,899.50 L331.0,899.50 L332.0,899.50 L333.0,899.50 L334.0,899.50 L335.0,899.50 L336.0,899.50 L337.0,899.50 L338.0,899.50 L339.0,899.50 L340.0,899.50 L341.0,899.50 L342.0,899.50 L343.0,899.50 L344.0,899.50 L345.0,899.50 L346.0,899.50 L347.0,899.50 L348.0,899.50 L349.0,899.50 L350.0,899.50 L351.0,899.50 L352.0,899.50 L353.0,899.50 L354.0,899.50 L355.0,899.50 L356.0,899.50 L357.0,899.50 L358.0,899.50 L359.0,899.50 L360.0,899.50 L361.0,899.50 L362.0,899.50 L363.0,899.50 L364.0,899.50 L365.0,899.50 L366.0,899.50 L367.0,899.50 L368.0,899.50 L369.0,899.50 L370.0,899.50 L371.0,899.50 L372.0,899.50 L373.0,899.49 L374.0,899.49 L375.0,899.49 L376.0,899.49 L377.0,899.49 L378.0,899.48 L379.0,899.48 L380.0,899.47 L381.0,899.47 L382.0,899.46 L383.0,899.45 L384.0,899.43 L385.0,899.42 L386.0,899.40 L387.0,899.38 L388.0,899.35 L389.0,899.32 L390.0,899.28 L391.0,899.24 L392.0,899.19 L393.0,899.12 L394.0,899.05 L395.0,898.96 L396.0,898.86 L397.0,898.74 L398.0,898.61 L399.0,898.45 L400.0,898.27 L401.0,898.06 L402.0,897.82 L403.0,897.54 L404.0,897.23 L405.0,896.88 L406.0,896.48 L407.0,896.04 L408.0,895.53 L409.0,894.97 L410.0,894.35 L411.0,893.66 L412.0,892.90 L413.0,892.06 L414.0,891.14 L415.0,890.13 L416.0,889.03 L417.0,887.85 L418.0,886.57 L419.0,885.19 L420.0,883.71 L421.0,882.14 L422.0,880.47 L423.0,878.70 L424.0,876.83 L425.0,874.88 L426.0,872.84 L427.0,870.72 L428.0,868.52 L429.0,866.26 L430.0,863.95 L431.0,861.59 L432.0,859.20 L433.0,856.80 L434.0,854.38 L435.0,851.98 L436.0,849.61 L437.0,847.28 L438.0,845.00 L439.0,842.81 L440.0,840.71 L441.0,838.71 L442.0,836.85 L443.0,835.12 L444.0,833.55 L445.0,832.15 L446.0,830.94 L447.0,829.91 L448.0,829.09 L449.0,828.48 L450.0,828.09 L451.0,827.91 L452.0,827.95 L453.0,828.22 L454.0,828.70 L455.0,829.40 L456.0,830.30 L457.0,831.40 L458.0,832.69 L459.0,834.16 L460.0,835.79 L461.0,837.58 L462.0,839.50 L463.0,841.53 L464.0,843.68 L465.0,845.91 L466.0,848.20 L467.0,850.55 L468.0,852.94 L469.0,855.35 L470.0,857.76 L471.0,860.16 L472.0,862.54 L473.0,864.88 L474.0,867.17 L475.0,869.41 L476.0,871.57 L477.0,873.66 L478.0,875.67 L479.0,877.59 L480.0,879.42 L481.0,881.15 L482.0,882.78 L483.0,884.31 L484.0,885.75 L485.0,887.09 L486.0,888.33 L487.0,889.48 L488.0,890.54 L489.0,891.51 L490.0,892.40 L491.0,893.21 L492.0,893.94 L493.0,894.61 L494.0,895.21 L495.0,895.74 L496.0,896.22 L497.0,896.65 L498.0,897.03 L499.0,897.36 L500.0,897.66 L501.0,897.92 L502.0,898.14 L503.0,898.34 L504.0,898.51 L505.0,898.66 L506.0,898.79 L507.0,898.90 L508.0,899.00 L509.0,899.08 L510.0,899.15 L511.0,899.21 L512.0,899.26 L513.0,899.30 L514.0,899.33 L515.0,899.36 L516.0,899.39 L517.0,899.41 L518.0,899.43 L519.0,899.44 L520.0,899.45 L521.0,899.46 L522.0,899.47 L523.0,899.47 L524.0,899.48 L525.0,899.48 L526.0,899.49 L527.0,899.49 L528.0,899.49 L529.0,899.49 L529,899.5 Z" fill="#ff0000"/>
<path d="M54,899.5 L54.0,899.50 L55.0,899.50 L56.0,899.50 L57.0,899.50 L58.0,899.50 L59.0,899.50 L60.0,899.50 L61.0,899.50 L62.0,899.50 L63.0,899.50 L64.0,899.50 L65.0,899.50 L66.0,899.50 L67.0,899.50 L68.0,899.50 L69.0,899.50 L70.0,899.50 L71.0,899.50 L72.0,899.50 L73.0,899.50 L74.0,899.50 L75.0,899.50 L76.0,899.50 L77.0,899.50 L78.0,899.50 L79.0,899.50 L80.0,899.50 L81.0,899.50 L82.0,899.50 L83.0,899.50 L84.0,899.50 L85.0,899.50 L86.0,899.50 L87.0,899.50 L88.0,899.50 L89.0,899.50 L90.0,899.50 L91.0,899.50 L92.0,899.50 L93.0,899.50 L94.0,899.50 L95.0,899.50 L96.0,899.50 L97.0,899.50 L98.0,899.50 L99.0,899.50 L100.0,899.50 L101.0,899.50 L102.0,899.50 L103.0,899.50 L104.0,899.50 L105.0,899.50 L106.0,899.50 L107.0,899.50 L108.0,899.50 L109.0,899.50 L110.0,899.50 L111.0,899.50 L112.0,899.50 L113.0,899.50 L114.0,899.50 L115.0,899.50 L116.0,899.50 L117.0,899.50 L118.0,899.50 L119.0,899.50 L120.0,899.50 L121.0,899.50 L122.0,899.50 L123.0,899.50 L124.0,899.50 L125.0,899.50 L126.0,899.50 L127.0,899.50 L128.0,899.50 L129.0,899.50 L130.0,899.50 L131.0,899.50 L132.0,899.50 L133.0,899.50 L134.0,899.50 L135.0,899.50 L136.0,899.50 L137.0,899.50 L138.0,899.50 L139.0,899.50 L140.0,899.50 L141.0,899.50 L142.0,899.50 L143.0,899.50 L144.0,899.50 L145.0,899.50 L146.0,899.50 L147.0,899.50 L148.0,899.50 L149.0,899.50 L150.0,899.50 L151.0,899.50 L152.0,899.50 L153.0,899.50 L154.0,899.50 L155.0,899.50 L156.0,899.50 L157.0,899.50 L158.0,899.50 L159.0,899.50 L160.0,899.50 L161.0,899.50 L162.0,899.50 L163.0,899.50 L164.0,899.50 L165.0,899.50 L166.0,899.50 L167.0,899.50 L168.0,899.50 L169.0,899.50 L170.0,899.50 L171.0,899.50 L172.0,899.50 L173.0,899.50 L174.0,899.50 L175.0,899.50 L176.0,899.50 L177.0,899.50 L178.0,899.50 L179.0,899.50 L180.0,899.50 L181.0,899.50 L182.0,899.50 L183.0,899.50 L184.0,899.50 L185.0,899.50 L186.0,899.50 L187.0,899.50 L188.0,899.50 L189.0,899.50 L190.0,899.50 L191.0,899.50 L192.0,899.50 L193.0,899.50 L194.0,899.50 L195.0,899.50 L196.0,899.50 L197.0,899.50 L198.0,899.50 L199.0,899.50 L200.0,899.50 L201.0,899.50 L202.0,899.50 L203.0,899.50 L204.0,899.50 L205.0,899.50 L206.0,899.50 L207.0,899.50 L208.0,899.50 L209.0,899.50 L210.0,899.50 L211.0,899.50 L212.0,899.50 L213.0,899.50 L214.0,899.50 L215.0,899.50 L216.0,899.50 L217.0,899.50 L218.0,899.50 L219.0,899.50 L220.0,899.50 L221.0,899.50 L222.0,899.50 L223.0,899.50 L224.0,899.50 L225.0,899.50 L226.0,899.50 L227.0,899.50 L228.0,899.50 L229.0,899.50 L230.0,899.50 L231.0,899.50 L232.0,899.50 L233.0,899.50 L234.0,899.50 L235.0,899.50 L236.0,899.50 L237.0,899.50 L238.0,899.50 L239.0,899.50 L240.0,899.50 L241.0,899.50 L242.0,899.50 L243.0,899.50 L244.0,899.50 L245.0,899.50 L246.0,899.50 L247.0,899.50 L248.0,899.50 L249.0,899.50 L250.0,899.50 L251.0,899.50 L252.0,899.50 L253.0,899.50 L254.0,899.50 L255.0,899.50 L256.0,899.50 L257.0,899.50 L258.0,899.50 L259.0,899.50 L260.0,899.50 L261.0,899.50 L262.0,899.50 L263.0,899.50 L264.0,899.50 L265.0,899.50 L266.0,899.50 L267.0,899.50 L268.0,899.50 L269.0,899.50 L270.0,899.50 L271.0,899.50 L272.0,899.50 L273.0,899.50 L274.0,899.50 L275.0,899.50 L276.0,899.50 L277.0,899.50 L278.0,899.50 L279.0,899.50 L280.0,899.50 L281.0,899.50 L282.0,899.50 L283.0,899.50 L284.0,899.50 L285.0,899.50 L286.0,899.50 L287.0,899.50 L288.0,899.50 L289.0,899.50 L290.0,899.50 L291.0,899.50 L292.0,899.50 L293.0,899.50 L294.0,899.50 L295.0,899.50 L296.0,899.50 L297.0,899.50 L298.0,899.50 L299.0,899.50 L300.0,899.50 L301.0,899.50 L302.0,899.50 L303.0,899.50 L304.0,899.50 L305.0,899.50 L306.0,899.50 L307.0,899.50 L308.0,899.50 L309.0,899.50 L310.0,899.50 L311.0,899.50 L312.0,899.50 L313.0,899.50 L314.0,899.50 L315.0,899.49 L316.0,899.49 L317.0,899.49 L318.0,899.49 L319.0,899.49 L320.0,899.48 L321.0,899.48 L322.0,899.47 L323.0,899.47 L324.0,899.46 L325.0,899.45 L326.0,899.44 L327.0,899.43 L328.0,899.41 L329.0,899.39 L330.0,899.37 L331.0,899.35 L332.0,899.32 L333.0,899.28 L334.0,899.24 L335.0,899.19 L336.0,899.13 L337.0,899.06 L338.0,898.98 L339.0,898.88 L340.0,898.77 L341.0,898.65 L342.0,898.50 L343.0,898.33 L344.0,898.14 L345.0,897.92 L346.0,897.66 L347.0,897.38 L348.0,897.05 L349.0,896.67 L350.0,896.25 L351.0,895.77 L352.0,895.24 L353.0,894.64 L354.0,893.96 L355.0,893.21 L356.0,892.38 L357.0,891.45 L358.0,890.42 L359.0,889.28 L360.0,888.03 L361.0,886.66 L362.0,885.16 L363.0,883.52 L364.0,881.73 L365.0,879.80 L366.0,877.70 L367.0,875.44 L368.0,873.00 L369.0,870.39 L370.0,867.60 L371.0,864.62 L372.0,861.46 L373.0,858.10 L374.0,854.56 L375.0,850.83 L376.0,846.92 L377.0,842.83 L378.0,838.56 L379.0,834.13 L380.0,829.54 L381.0,824.81 L382.0,819.95 L383.0,814.97 L384.0,809.90 L385.0,804.75 L386.0,799.54 L387.0,794.29 L388.0,789.03 L389.0,783.78 L390.0,778.57 L391.0,773.43 L392.0,768.38 L393.0,763.46 L394.0,758.68 L395.0,754.09 L396.0,749.70 L397.0,745.54 L398.0,741.64 L399.0,738.04 L400.0,734.74 L401.0,731.77 L402.0,729.15 L403.0,726.91 L404.0,725.05 L405.0,723.59 L406.0,722.54 L407.0,721.91 L408.0,721.70 L409.0,721.91 L410.0,722.54 L411.0,723.59 L412.0,725.05 L413.0,726.91 L414.0,729.15 L415.0,731.77 L416.0,734.74 L417.0,738.04 L418.0,741.64 L419.0,745.54 L420.0,749.70 L421.0,754.09 L422.0,758.68 L423.0,763.46 L424.0,768.38 L425.0,773.43 L426.0,778.57 L427.0,783.78 L428.0,789.03 L429.0,794.29 L430.0,799.54 L431.0,804.75 L432.0,809.90 L433.0,814.97 L434.0,819.95 L435.0,824.81 L436.0,829.54 L437.0,834.13 L438.0,838.56 L439.0,842.83 L440.0,846.92 L441.0,850.83 L442.0,854.56 L443.0,858.10 L444.0,861.46 L445.0,864.62 L446.0,867.60 L447.0,870.39 L448.0,873.00 L449.0,875.44 L450.0,877.70 L451.0,879.80 L452.0,881.73 L453.0,883.52 L454.0,885.16 L455.0,886.66 L456.0,888.03 L457.0,889.28 L458.0,890.42 L459.0,891.45 L460.0,892.38 L461.0,893.21 L462.0,893.96 L463.0,894.64 L464.0,895.24 L465.0,895.77 L466.0,896.25 L467.0,896.67 L468.0,897.05 L469.0,897.38 L470.0,897.66 L471.0,897.92 L472.0,898.14 L473.0,898.33 L474.0,898.50 L475.0,898.65 L476.0,898.77 L477.0,898.88 L478.0,898.98 L479.0,899.06 L480.0,899.13 L481.0,899.19 L482.0,899.24 L483.0,899.28 L484.0,899.32 L485.0,899.35 L486.0,899.37 L487.0,899.39 L488.0,899.41 L489.0,899.43 L490.0,899.44 L491.0,899.45 L492.0,899.46 L493.0,899.47 L494.0,899.47 L495.0,899.48 L496.0,899.48 L497.0,899.49 L498.0,899.49 L499.0,899.49 L500.0,899.49 L501.0,899.49 L502.0,899.50 L503.0,899.50 L504.0,899.50 L505.0,899.50 L506.0,899.50 L507.0,899.50 L508.0,899.50 L509.0,899.50 L510.0,899.50 L511.0,899.50 L512.0,899.50 L513.0,899.50 L514.0,899.50 L515.0,899.50 L516.0,899.50 L517.0,899.50 L518.0,899.50 L519.0,899.50 L520.0,899.50 L521.0,899.50 L522.0,899.50 L523.0,899.50 L524.0,899.50 L525.0,899.50 L526.0,899.50 L527.0,899.50 L528.0,899.50 L529.0,899.50 L529,899.5 Z" fill="#008000"/>
<path d="M54,899.5 L54.0,899.50 L55.0,899.50 L56.0,899.50 L57.0,899.50 L58.0,899.50 L59.0,899.50 L60.0,899.50 L61.0,899.50 L62.0,899.50 L63.0,899.50 L64.0,899.50 L65.0,899.50 L66.0,899.50 L67.0,899.50 L68.0,899.50 L69.0,899.50 L70.0,899.50 L71.0,899.50 L72.0,899.50 L73.0,899.50 L74.0,899.50 L75.0,899.50 L76.0,899.50 L77.0,899.50 L78.0,899.50 L79.0,899.50 L80.0,899.50 L81.0,899.50 L82.0,899.50 L83.0,899.50 L84.0,899.50 L85.0,899.50 L86.0,899.50 L87.0,899.50 L88.0,899.50 L89.0,899.50 L90.0,899.50 L91.0,899.50 L92.0,899.50 L93.0,899.50 L94.0,899.50 L95.0,899.50 L96.0,899.50 L97.0,899.50 L98.0,899.50 L99.0,899.50 L100.0,899.50 L101.0,899.50 L102.0,899.50 L103.0,899.50 L104.0,899.50 L105.0,899.50 L106.0,899.50 L107.0,899.50 L108.0,899.50 L109.0,899.50 L110.0,899.50 L111.0,899.50 L112.0,899.50 L113.0,899.50 L114.0,899.50 L115.0,899.50 L116.0,899.50 L117.0,899.50 L118.0,899.50 L119.0,899.50 L120.0,899.50 L121.0,899.50 L122.0,899.50 L123.0,899.50 L124.0,899.50 L125.0,899.50 L126.0,899.50 L127.0,899.50 L128.0,899.50 L129.0,899.50 L130.0,899.50 L131.0,899.50 L132.0,899.50 L133.0,899.50 L134.0,899.50 L135.0,899.50 L136.0,899.50 L137.0,899.50 L138.0,899.50 L139.0,899.50 L140.0,899.50 L141.0,899.50 L142.0,899.50 L143.0,899.50 L144.0,899.50 L145.0,899.50 L146.0,899.50 L147.0,899.50 L148.0,899.50 L149.0,899.50 L150.0,899.50 L151.0,899.50 L152.0,899.50 L153.0,899.50 L154.0,899.50 L155.0,899.50 L156.0,899.50 L157.0,899.50 L158.0,899.50 L159.0,899.50 L160.0,899.50 L161.0,899.50 L162.0,899.50 L163.0,899.50 L164.0,899.50 L165.0,899.50 L166.0,899.50 L167.0,899.50 L168.0,899.50 L169.0,899.50 L170.0,899.50 L171.0,899.50 L172.0,899.50 L173.0,899.50 L174.0,899.50 L175.0,899.50 L176.0,899.50 L177.0,899.50 L178.0,899.50 L179.0,899.50 L180.0,899.50 L181.0,899.50 L182.0,899.50 L183.0,899.50 L184.0,899.50 L185.0,899.50 L186.0,899.50 L187.0,899.50 L188.0,899.50 L189.0,899.50 L190.0,899.50 L191.0,899.50 L192.0,899.50 L193.0,899.50 L194.0,899.50 L195.0,899.50 L196.0,899.50 L197.0,899.50 L198.0,899.50 L199.0,899.50 L200.0,899.50 L201.0,899.50 L202.0,899.50 L203.0,899.50 L204.0,899.50 L205.0,899.50 L206.0,899.50 L207.0,899.50 L208.0,899.50 L209.0,899.50 L210.0,899.50 L211.0,899.50 L212.0,899.50 L213.0,899.50 L214.0,899.50 L215.0,899.50 L216.0,899.50 L217.0,899.50 L218.0,899.50 L219.0,899.50 L220.0,899.50 L221.0,899.50 L222.0,899.50 L223.0,899.50 L224.0,899.50 L225.0,899.50 L226.0,899.50 L227.0,899.50 L228.0,899.50 L229.0,899.50 L230.0,899.50 L231.0,899.50 L232.0,899.50 L233.0,899.50 L234.0,899.50 L235.0,899.50 L236.0,899.50 L237.0,899.50 L238.0,899.50 L239.0,899.50 L240.0,899.50 L241.0,899.50 L242.0,899.50 L243.0,899.50 L244.0,899.50 L245.0,899.50 L246.0,899.50 L247.0,899.50 L248.0,899.50 L249.0,899.50 L250.0,899.50 L251.0,899.50 L252.0,899.50 L253.0,899.50 L254.0,899.50 L255.0,899.50 L256.0,899.50 L257.0,899.50 L258.0,899.50 L259.0,899.50 L260.0,899.50 L261.0,899.50 L262.0,899.50 L263.0,899.50 L264.0,899.50 L265.0,899.50 L266.0,899.50 L267.0,899.50 L268.0,899.50 L269.0,899.50 L270.0,899.50 L271.0,899.50 L272.0,899.50 L273.0,899.50 L274.0,899.50 L275.0,899.50 L276.0,899.50 L277.0,899.50 L278.0,899.50 L279.0,899.50 L280.0,899.50 L281.0,899.50 L282.0,899.50 L283.0,899.50 L284.0,899.50 L285.0,899.50 L286.0,899.50 L287.0,899.50 L288.0,899.50 L289.0,899.50 L290.0,899.50 L291.0,899.50 L292.0,899.50 L293.0,899.50 L294.0,899.50 L295.0,899.50 L296.0,899.50 L297.0,899.50 L298.0,899.50 L299.0,899.50 L300.0,899.50 L301.0,899.50 L302.0,899.50 L303.0,899.50 L304.0,899.50 L305.0,899.50 L306.0,899.50 L307.0,899.50 L308.0,899.50 L309.0,899.50 L310.0,899.49 L311.0,899.49 L312.0,899.49 L313.0,899.49 L314.0,899.48 L315.0,899.48 L316.0,899.47 L317.0,899.46 L318.0,899.44 L319.0,899.42 L320.0,899.40 L321.0,899.36 L322.0,899.32 L323.0,899.27 L324.0,899.20 L325.0,899.11 L326.0,899.01 L327.0,898.87 L328.0,898.70 L329.0,898.50 L330.0,898.24 L331.0,897.93 L332.0,897.55 L333.0,897.10 L334.0,896.55 L335.0,895.89 L336.0,895.11 L337.0,894.19 L338.0,893.11 L339.0,891.85 L340.0,890.39 L341.0,888.70 L342.0,886.77 L343.0,884.56 L344.0,882.06 L345.0,879.25 L346.0,876.11 L347.0,872.61 L348.0,868.75 L349.0,864.51 L350.0,859.89 L351.0,854.90 L352.0,849.52 L353.0,843.78 L354.0,837.70 L355.0,831.31 L356.0,824.63 L357.0,817.73 L358.0,810.63 L359.0,803.42 L360.0,796.15 L361.0,788.89 L362.0,781.73 L363.0,774.74 L364.0,768.01 L365.0,761.62 L366.0,755.65 L367.0,750.19 L368.0,745.32 L369.0,741.09 L370.0,737.58 L371.0,734.83 L372.0,732.88 L373.0,731.77 L374.0,731.52 L375.0,732.12 L376.0,733.56 L377.0,735.83 L378.0,738.89 L379.0,742.70 L380.0,747.19 L381.0,752.31 L382.0,757.98 L383.0,764.13 L384.0,770.66 L385.0,777.51 L386.0,784.58 L387.0,791.79 L388.0,799.06 L389.0,806.32 L390.0,813.49 L391.0,820.51 L392.0,827.33 L393.0,833.90 L394.0,840.17 L395.0,846.12 L396.0,851.71 L397.0,856.94 L398.0,861.79 L399.0,866.25 L400.0,870.34 L401.0,874.05 L402.0,877.41 L403.0,880.42 L404.0,883.10 L405.0,885.48 L406.0,887.57 L407.0,889.40 L408.0,891.00 L409.0,892.38 L410.0,893.56 L411.0,894.58 L412.0,895.44 L413.0,896.17 L414.0,896.78 L415.0,897.29 L416.0,897.71 L417.0,898.06 L418.0,898.35 L419.0,898.58 L420.0,898.77 L421.0,898.93 L422.0,899.05 L423.0,899.15 L424.0,899.23 L425.0,899.29 L426.0,899.34 L427.0,899.38 L428.0,899.41 L429.0,899.43 L430.0,899.45 L431.0,899.46 L432.0,899.47 L433.0,899.48 L434.0,899.48 L435.0,899.49 L436.0,899.49 L437.0,899.49 L438.0,899.50 L439.0,899.50 L440.0,899.50 L441.0,899.50 L442.0,899.50 L443.0,899.50 L444.0,899.50 L445.0,899.50 L446.0,899.50 L447.0,899.50 L448.0,899.50 L449.0,899.50 L450.0,899.50 L451.0,899.50 L452.0,899.50 L453.0,899.50 L454.0,899.50 L455.0,899.50 L456.0,899.50 L457.0,899.50 L458.0,899.50 L459.0,899.50 L460.0,899.50 L461.0,899.50 L462.0,899.50 L463.0,899.50 L464.0,899.50 L465.0,899.50 L466.0,899.50 L467.0,899.50 L468.0,899.50 L469.0,899.50 L470.0,899.50 L471.0,899.50 L472.0,899.50 L473.0,899.50 L474.0,899.50 L475.0,899.50 L476.0,899.50 L477.0,899.50 L478.0,899.50 L479.0,899.50 L480.0,899.50 L481.0,899.50 L482.0,899.50 L483.0,899.50 L484.0,899.50 L485.0,899.50 L486.0,899.50 L487.0,899.50 L488.0,899.50 L489.0,899.50 L490.0,899.50 L491.0,899.50 L492.0,899.50 L493.0,899.50 L494.0,899.50 L495.0,899.50 L496.0,899.50 L497.0,899.50 L498.0,899.50 L499.0,899.50 L500.0,899.50 L501.0,899.50 L502.0,899.50 L503.0,899.50 L504.0,899.50 L505.0,899.50 L506.0,899.50 L507.0,899.50 L508.0,899.50 L509.0,899.50 L510.0,899.50 L511.0,899.50 L512.0,899.50 L513.0,899.50 L514.0,899.50 L515.0,899.50 L516.0,899.50 L517.0,899.50 L518.0,899.50 L519.0,899.50 L520.0,899.50 L521.0,899.50 L522.0,899.50 L523.0,899.50 L524.0,899.50 L525.0,899.50 L526.0,899.50 L527.0,899.50 L528.0,899.50 L529.0,899.50 L529,899.5 Z" fill="#ff8000"/>
<path d="M54,899.5 L54.0,899.50 L55.0,899.50 L56.0,899.50 L57.0,899.50 L58.0,899.50 L59.0,899.50 L60.0,899.50 L61.0,899.50 L62.0,899.50 L63.0,899.50 L64.0,899.50 L65.0,899.50 L66.0,899.50 L67.0,899.50 L68.0,899.50 L69.0,899.50 L70.0,899.50 L71.0,899.50 L72.0,899.50 L73.0,899.50 L74.0,899.50 L75.0,899.50 L76.0,899.50 L77.0,899.50 L78.0,899.50 L79.0,899.50 L80.0,899.50 L81.0,899.50 L82.0,899.50 L83.0,899.50 L84.0,899.50 L85.0,899.50 L86.0,899.50 L87.0,899.50 L88.0,899.50 L89.0,899.50 L90.0,899.50 L91.0,899.50 L92.0,899.50 L93.0,899.50 L94.0,899.50 L95.0,899.50 L96.0,899.50 L97.0,899.50 L98.0,899.50 L99.0,899.50 L100.0,899.50 L101.0,899.50 L102.0,899.50 L103.0,899.50 L104.0,899.50 L105.0,899.50 L106.0,899.50 L107.0,899.50 L108.0,899.50 L109.0,899.50 L110.0,899.50 L111.0,899.50 L112.0,899.50 L113.0,899.50 L114.0,899.50 L115.0,899.50 L116.0,899.50 L117.0,899.50 L118.0,899.50 L119.0,899.50 L120.0,899.50 L121.0,899.50 L122.0,899.50 L123.0,899.50 L124.0,899.50 L125.0,899.50 L126.0,899.50 L127.0,899.50 L128.0,899.50 L129.0,899.50 L130.0,899.50 L131.0,899.50 L132.0,899.50 L133.0,899.50 L134.0,899.50 L135.0,899.50 L136.0,899.50 L137.0,899.50 L138.0,899.50 L139.0,899.50 L140.0,899.50 L141.0,899.50 L142.0,899.50 L143.0,899.50 L144.0,899.50 L145.0,899.50 L146.0,899.50 L147.0,899.50 L148.0,899.50 L149.0,899.50 L150.0,899.50 L151.0,899.50 L152.0,899.50 L153.0,899.50 L154.0,899.50 L155.0,899.50 L156.0,899.50 L157.0,899.50 L158.0,899.50 L159.0,899.50 L160.0,899.50 L161.0,899.50 L162.0,899.50 L163.0,899.50 L164.0,899.50 L165.0,899.50 L166.0,899.50 L167.0,899.50 L168.0,899.50 L169.0,899.50 L170.0,899.50 L171.0,899.50 L172.0,899.50 L173.0,899.50 L174.0,899.50 L175.0,899.50 L176.0,899.50 L177.0,899.50 L178.0,899.50 L179.0,899.50 L180.0,899.50 L181.0,899.50 L182.0,899.50 L183.0,899.50 L184.0,899.50 L185.0,899.50 L186.0,899.50 L187.0,899.50 L188.0,899.50 L189.0,899.50 L190.0,899.50 L191.0,899.50 L192.0,899.50 L193.0,899.50 L194.0,899.50 L195.0,899.50 L196.0,899.50 L197.0,899.50 L198.0,899.50 L199.0,899.50 L200.0,899.50 L201.0,899.50 L202.0,899.50 L203.0,899.50 L204.0,899.50 L205.0,899.50 L206.0,899.50 L207.0,899.50 L208.0,899.50 L209.0,899.50 L210.0,899.50 L211.0,899.50 L212.0,899.50 L213.0,899.50 L214.0,899.50 L215.0,899.50 L216.0,899.50 L217.0,899.50 L218.0,899.50 L219.0,899.50 L220.0,899.50 L221.0,899.50 L222.0,899.50 L223.0,899.50 L224.0,899.50 L225.0,899.50 L226.0,899.50 L227.0,899.50 L228.0,899.50 L229.0,899.50 L230.0,899.50 L231.0,899.50 L232.0,899.49 L233.0,899.49 L234.0,899.49 L235.0,899.49 L236.0,899.49 L237.0,899.48 L238.0,899.48 L239.0,899.48 L240.0,899.47 L241.0,899.47 L242.0,899.46 L243.0,899.45 L244.0,899.44 L245.0,899.43 L246.0,899.42 L247.0,899.41 L248.0,899.39 L249.0,899.37 L250.0,899.34 L251.0,899.31 L252.0,899.28 L253.0,899.24 L254.0,899.20 L255.0,899.14 L256.0,899.08 L257.0,899.01 L258.0,898.93 L259.0,898.84 L260.0,898.74 L261.0,898.61 L262.0,898.48 L263.0,898.32 L264.0,898.14 L265.0,897.94 L266.0,897.71 L267.0,897.45 L268.0,897.16 L269.0,896.83 L270.0,896.46 L271.0,896.05 L272.0,895.59 L273.0,895.08 L274.0,894.51 L275.0,893.88 L276.0,893.19 L277.0,892.42 L278.0,891.57 L279.0,890.63 L280.0,889.61 L281.0,888.49 L282.0,887.27 L283.0,885.94 L284.0,884.49 L285.0,882.92 L286.0,881.23 L287.0,879.40 L288.0,877.43 L289.0,875.31 L290.0,873.05 L291.0,870.63 L292.0,868.05 L293.0,865.31 L294.0,862.41 L295.0,859.33 L296.0,856.09 L297.0,852.68 L298.0,849.10 L299.0,845.35 L300.0,841.44 L301.0,837.37 L302.0,833.15 L303.0,828.78 L304.0,824.27 L305.0,819.63 L306.0,814.87 L307.0,810.00 L308.0,805.05 L309.0,800.01 L310.0,794.91 L311.0,789.77 L312.0,784.60 L313.0,779.42 L314.0,774.26 L315.0,769.14 L316.0,764.07 L317.0,759.09 L318.0,754.21 L319.0,749.45 L320.0,744.85 L321.0,740.42 L322.0,736.19 L323.0,732.17 L324.0,728.39 L325.0,724.87 L326.0,721.64 L327.0,718.70 L328.0,716.07 L329.0,713.77 L330.0,711.82 L331.0,710.22 L332.0,708.98 L333.0,708.11 L334.0,707.62 L335.0,707.51 L336.0,707.77 L337.0,708.42 L338.0,709.43 L339.0,710.82 L340.0,712.56 L341.0,714.65 L342.0,717.08 L343.0,719.84 L344.0,722.90 L345.0,726.25 L346.0,729.87 L347.0,733.75 L348.0,737.85 L349.0,742.17 L350.0,746.67 L351.0,751.34 L352.0,756.15 L353.0,761.07 L354.0,766.09 L355.0,771.18 L356.0,776.33 L357.0,781.49 L358.0,786.67 L359.0,791.83 L360.0,796.96 L361.0,802.03 L362.0,807.04 L363.0,811.96 L364.0,816.79 L365.0,821.50 L366.0,826.09 L367.0,830.54 L368.0,834.86 L369.0,839.02 L370.0,843.03 L371.0,846.87 L372.0,850.55 L373.0,854.07 L374.0,857.41 L375.0,860.58 L376.0,863.59 L377.0,866.43 L378.0,869.10 L379.0,871.62 L380.0,873.97 L381.0,876.18 L382.0,878.23 L383.0,880.15 L384.0,881.92 L385.0,883.56 L386.0,885.08 L387.0,886.48 L388.0,887.77 L389.0,888.95 L390.0,890.03 L391.0,891.02 L392.0,891.92 L393.0,892.73 L394.0,893.47 L395.0,894.14 L396.0,894.75 L397.0,895.29 L398.0,895.78 L399.0,896.22 L400.0,896.62 L401.0,896.97 L402.0,897.28 L403.0,897.56 L404.0,897.80 L405.0,898.02 L406.0,898.22 L407.0,898.38 L408.0,898.53 L409.0,898.66 L410.0,898.78 L411.0,898.88 L412.0,898.97 L413.0,899.04 L414.0,899.11 L415.0,899.17 L416.0,899.21 L417.0,899.26 L418.0,899.29 L419.0,899.33 L420.0,899.35 L421.0,899.38 L422.0,899.39 L423.0,899.41 L424.0,899.43 L425.0,899.44 L426.0,899.45 L427.0,899.46 L428.0,899.46 L429.0,899.47 L430.0,899.48 L431.0,899.48 L432.0,899.48 L433.0,899.49 L434.0,899.49 L435.0,899.49 L436.0,899.49 L437.0,899.49 L438.0,899.49 L439.0,899.50 L440.0,899.50 L441.0,899.50 L442.0,899.50 L443.0,899.50 L444.0,899.50 L445.0,899.50 L446.0,899.50 L447.0,899.50 L448.0,899.50 L449.0,899.50 L450.0,899.50 L451.0,899.50 L452.0,899.50 L453.0,899.50 L454.0,899.50 L455.0,899.50 L456.0,899.50 L457.0,899.50 L458.0,899.50 L459.0,899.50 L460.0,899.50 L461.0,899.50 L462.0,899.50 L463.0,899.50 L464.0,899.50 L465.0,899.50 L466.0,899.50 L467.0,899.50 L468.0,899.50 L469.0,899.50 L470.0,899.50 L471.0,899.50 L472.0,899.50 L473.0,899.50 L474.0,899.50 L475.0,899.50 L476.0,899.50 L477.0,899.50 L478.0,899.50 L479.0,899.50 L480.0,899.50 L481.0,899.50 L482.0,899.50 L483.0,899.50 L484.0,899.50 L485.0,899.50 L486.0,899.50 L487.0,899.50 L488.0,899.50 L489.0,899.50 L490.0,899.50 L491.0,899.50 L492.0,899.50 L493.0,899.50 L494.0,899.50 L495.0,899.50 L496.0,899.50 L497.0,899.50 L498.0,899.50 L499.0,899.50 L500.0,899.50 L501.0,899.50 L502.0,899.50 L503.0,899.50 L504.0,899.50 L505.0,899.50 L506.0,899.50 L507.0,899.50 L508.0,899.50 L509.0,899.50 L510.0,899.50 L511.0,899.50 L512.0,899.50 L513.0,899.50 L514.0,899.50 L515.0,899.50 L516.0,899.50 L517.0,899.50 L518.0,899.50 L519.0,899.50 L520.0,899.50 L521.0,899.50 L522.0,899.50 L523.0,899.50 L524.0,899.50 L525.0,899.50 L526.0,899.50 L527.0,899.50 L528.0,899.50 L529.0,899.50 L529,899.5 Z" fill="#0000ff"/>
<path d="M54,899.5 L54.0,899.50 L55.0,899.50 L56.0,899.50 L57.0,899.50 L58.0,899.50 L59.0,899.50 L60.0,899.50 L61.0,899.50 L62.0,899.50 L63.0,899.50 L64.0,899.50 L65.0,899.50 L66.0,899.50 L67.0,899.50 L68.0,899.50 L69.0,899.50 L70.0,899.50 L71.0,899.50 L72.0,899.50 L73.0,899.50 L74.0,899.50 L75.0,899.50 L76.0,899.50 L77.0,899.50 L78.0,899.50 L79.0,899.50 L80.0,899.50 L81.0,899.50 L82.0,899.50 L83.0,899.50 L84.0,899.50 L85.0,899.50 L86.0,899.50 L87.0,899.50 L88.0,899.50 L89.0,899.50 L90.0,899.50 L91.0,899.50 L92.0,899.50 L93.0,899.50 L94.0,899.50 L95.0,899.50 L96.0,899.50 L97.0,899.50 L98.0,899.50 L99.0,899.50 L100.0,899.50 L101.0,899.50 L102.0,899.50 L103.0,899.50 L104.0,899.50 L105.0,899.50 L106.0,899.50 L107.0,899.50 L108.0,899.50 L109.0,899.50 L110.0,899.50 L111.0,899.50 L112.0,899.50 L113.0,899.50 L114.0,899.50 L115.0,899.50 L116.0,899.50 L117.0,899.50 L118.0,899.50 L119.0,899.50 L120.0,899.50 L121.0,899.50 L122.0,899.50 L123.0,899.50 L124.0,899.50 L125.0,899.50 L126.0,899.50 L127.0,899.50 L128.0,899.50 L129.0,899.50 L130.0,899.50 L131.0,899.50 L132.0,899.50 L133.0,899.50 L134.0,899.50 L135.0,899.50 L136.0,899.50 L137.0,899.50 L138.0,899.50 L139.0,899.50 L140.0,899.50 L141.0,899.50 L142.0,899.50 L143.0,899.50 L144.0,899.50 L145.0,899.50 L146.0,899.50 L147.0,899.50 L148.0,899.50 L149.0,899.50 L150.0,899.50 L151.0,899.50 L152.0,899.50 L153.0,899.50 L154.0,899.50 L155.0,899.50 L156.0,899.50 L157.0,899.50 L158.0,899.50 L159.0,899.50 L160.0,899.50 L161.0,899.50 L162.0,899.50 L163.0,899.50 L164.0,899.50 L165.0,899.50 L166.0,899.50 L167.0,899.50 L168.0,899.50 L169.0,899.49 L170.0,899.49 L171.0,899.49 L172.0,899.49 L173.0,899.49 L174.0,899.49 L175.0,899.48 L176.0,899.48 L177.0,899.48 L178.0,899.48 L179.0,899.47 L180.0,899.47 L181.0,899.46 L182.0,899.45 L183.0,899.45 L184.0,899.44 L185.0,899.43 L186.0,899.42 L187.0,899.40 L188.0,899.39 L189.0,899.37 L190.0,899.35 L191.0,899.33 L192.0,899.31 L193.0,899.28 L194.0,899.25 L195.0,899.21 L196.0,899.17 L197.0,899.13 L198.0,899.08 L199.0,899.02 L200.0,898.96 L201.0,898.89 L202.0,898.81 L203.0,898.72 L204.0,898.62 L205.0,898.51 L206.0,898.39 L207.0,898.26 L208.0,898.11 L209.0,897.94 L210.0,897.76 L211.0,897.56 L212.0,897.35 L213.0,897.11 L214.0,896.85 L215.0,896.56 L216.0,896.25 L217.0,895.91 L218.0,895.54 L219.0,895.14 L220.0,894.70 L221.0,894.23 L222.0,893.72 L223.0,893.18 L224.0,892.59 L225.0,891.95 L226.0,891.28 L227.0,890.55 L228.0,889.77 L229.0,888.95 L230.0,888.07 L231.0,887.13 L232.0,886.14 L233.0,885.08 L234.0,883.97 L235.0,882.80 L236.0,881.57 L237.0,880.27 L238.0,878.91 L239.0,877.49 L240.0,876.00 L241.0,874.45 L242.0,872.83 L243.0,871.16 L244.0,869.42 L245.0,867.63 L246.0,865.77 L247.0,863.87 L248.0,861.90 L249.0,859.90 L250.0,857.84 L251.0,855.74 L252.0,853.61 L253.0,851.44 L254.0,849.25 L255.0,847.03 L256.0,844.79 L257.0,842.55 L258.0,840.29 L259.0,838.05 L260.0,835.81 L261.0,833.58 L262.0,831.38 L263.0,829.21 L264.0,827.08 L265.0,824.99 L266.0,822.96 L267.0,820.99 L268.0,819.08 L269.0,817.25 L270.0,815.51 L271.0,813.85 L272.0,812.29 L273.0,810.84 L274.0,809.49 L275.0,808.25 L276.0,807.14 L277.0,806.15 L278.0,805.29 L279.0,804.56 L280.0,803.97 L281.0,803.52 L282.0,803.21 L283.0,803.03 L284.0,803.01 L285.0,803.12 L286.0,803.38 L287.0,803.77 L288.0,804.31 L289.0,804.98 L290.0,805.79 L291.0,806.73 L292.0,807.79 L293.0,808.98 L294.0,810.28 L295.0,811.70 L296.0,813.22 L297.0,814.83 L298.0,816.55 L299.0,818.34 L300.0,820.22 L301.0,822.16 L302.0,824.17 L303.0,826.24 L304.0,828.35 L305.0,830.51 L306.0,832.70 L307.0,834.91 L308.0,837.15 L309.0,839.39 L310.0,841.65 L311.0,843.89 L312.0,846.13 L313.0,848.36 L314.0,850.57 L315.0,852.75 L316.0,854.89 L317.0,857.01 L318.0,859.08 L319.0,861.11 L320.0,863.09 L321.0,865.02 L322.0,866.89 L323.0,868.71 L324.0,870.47 L325.0,872.17 L326.0,873.81 L327.0,875.39 L328.0,876.90 L329.0,878.35 L330.0,879.73 L331.0,881.06 L332.0,882.32 L333.0,883.51 L334.0,884.65 L335.0,885.72 L336.0,886.74 L337.0,887.70 L338.0,888.60 L339.0,889.45 L340.0,890.25 L341.0,890.99 L342.0,891.69 L343.0,892.34 L344.0,892.95 L345.0,893.51 L346.0,894.03 L347.0,894.52 L348.0,894.97 L349.0,895.38 L350.0,895.76 L351.0,896.11 L352.0,896.44 L353.0,896.73 L354.0,897.01 L355.0,897.25 L356.0,897.48 L357.0,897.69 L358.0,897.87 L359.0,898.04 L360.0,898.20 L361.0,898.34 L362.0,898.46 L363.0,898.58 L364.0,898.68 L365.0,898.77 L366.0,898.86 L367.0,898.93 L368.0,899.00 L369.0,899.06 L370.0,899.11 L371.0,899.16 L372.0,899.20 L373.0,899.24 L374.0,899.27 L375.0,899.30 L376.0,899.32 L377.0,899.35 L378.0,899.37 L379.0,899.38 L380.0,899.40 L381.0,899.41 L382.0,899.42 L383.0,899.43 L384.0,899.44 L385.0,899.45 L386.0,899.46 L387.0,899.46 L388.0,899.47 L389.0,899.47 L390.0,899.48 L391.0,899.48 L392.0,899.48 L393.0,899.49 L394.0,899.49 L395.0,899.49 L396.0,899.49 L397.0,899.49 L398.0,899.49 L399.0,899.49 L400.0,899.50 L401.0,899.50 L402.0,899.50 L403.0,899.50 L404.0,899.50 L405.0,899.50 L406.0,899.50 L407.0,899.50 L408.0,899.50 L409.0,899.50 L410.0,899.50 L411.0,899.50 L412.0,899.50 L413.0,899.50 L414.0,899.50 L415.0,899.50 L416.0,899.50 L417.0,899.50 L418.0,899.50 L419.0,899.50 L420.0,899.50 L421.0,899.50 L422.0,899.50 L423.0,899.50 L424.0,899.50 L425.0,899.50 L426.0,899.50 L427.0,899.50 L428.0,899.50 L429.0,899.50 L430.0,899.50 L431.0,899.50 L432.0,899.50 L433.0,899.50 L434.0,899.50 L435.0,899.50 L436.0,899.50 L437.0,899.50 L438.0,899.50 L439.0,899.50 L440.0,899.50 L441.0,899.50 L442.0,899.50 L443.0,899.50 L444.0,899.50 L445.0,899.50 L446.0,899.50 L447.0,899.50 L448.0,899.50 L449.0,899.50 L450.0,899.50 L451.0,899.50 L452.0,899.50 L453.0,899.50 L454.0,899.50 L455.0,899.50 L456.0,899.50 L457.0,899.50 L458.0,899.50 L459.0,899.50 L460.0,899.50 L461.0,899.50 L462.0,899.50 L463.0,899.50 L464.0,899.50 L465.0,899.50 L466.0,899.50 L467.0,899.50 L468.0,899.50 L469.0,899.50 L470.0,899.50 L471.0,899.50 L472.0,899.50 L473.0,899.50 L474.0,899.50 L475.0,899.50 L476.0,899.50 L477.0,899.50 L478.0,899.50 L479.0,899.50 L480.0,899.50 L481.0,899.50 L482.0,899.50 L483.0,899.50 L484.0,899.50 L485.0,899.50 L486.0,899.50 L487.0,899.50 L488.0,899.50 L489.0,899.50 L490.0,899.50 L491.0,899.50 L492.0,899.50 L493.0,899.50 L494.0,899.50 L495.0,899.50 L496.0,899.50 L497.0,899.50 L498.0,899.50 L499.0,899.50 L500.0,899.50 L501.0,899.50 L502.0,899.50 L503.0,899.50 L504.0,899.50 L505.0,899.50 L506.0,899.50 L507.0,899.50 L508.0,899.50 L509.0,899.50 L510.0,899.50 L511.0,899.50 L512.0,899.50 L513.0,899.50 L514.0,899.50 L515.0,899.50 L516.0,899.50 L517.0,899.50 L518.0,899.50 L519.0,899.50 L520.0,899.50 L521.0,899.50 L522.0,899.50 L523.0,899.50 L524.0,899.50 L525.0,899.50 L526.0,899.50 L527.0,899.50 L528.0,899.50 L529.0,899.50 L529,899.5 Z" fill="#80ffff"/>
<path d="M54,899.5 L54.0,899.02 L55.0,898.99 L56.0,898.96 L57.0,898.92 L58.0,898.89 L59.0,898.85 L60.0,898.81 L61.0,898.77 L62.0,898.72 L63.0,898.68 L64.0,898.63 L65.0,898.58 L66.0,898.52 L67.0,898.47 L68.0,898.41 L69.0,898.34 L70.0,898.28 L71.0,898.21 L72.0,898.14 L73.0,898.06 L74.0,897.98 L75.0,897.90 L76.0,897.81 L77.0,897.72 L78.0,897.63 L79.0,897.53 L80.0,897.43 L81.0,897.32 L82.0,897.21 L83.0,897.09 L84.0,896.97 L85.0,896.84 L86.0,896.71 L87.0,896.57 L88.0,896.43 L89.0,896.28 L90.0,896.12 L91.0,895.96 L92.0,895.80 L93.0,895.63 L94.0,895.45 L95.0,895.26 L96.0,895.07 L97.0,894.87 L98.0,894.66 L99.0,894.45 L100.0,894.23 L101.0,894.00 L102.0,893.77 L103.0,893.52 L104.0,893.27 L105.0,893.02 L106.0,892.75 L107.0,892.48 L108.0,892.19 L109.0,891.90 L110.0,891.61 L111.0,891.30 L112.0,890.98 L113.0,890.66 L114.0,890.33 L115.0,889.99 L116.0,889.64 L117.0,889.28 L118.0,888.92 L119.0,888.54 L120.0,888.16 L121.0,887.77 L122.0,887.37 L123.0,886.96 L124.0,886.54 L125.0,886.12 L126.0,885.68 L127.0,885.24 L128.0,884.79 L129.0,884.34 L130.0,883.87 L131.0,883.40 L132.0,882.92 L133.0,882.43 L134.0,881.94 L135.0,881.44 L136.0,880.93 L137.0,880.42 L138.0,879.90 L139.0,879.37 L140.0,878.84 L141.0,878.31 L142.0,877.76 L143.0,877.22 L144.0,876.67 L145.0,876.12 L146.0,875.56 L147.0,875.00 L148.0,874.44 L149.0,873.87 L150.0,873.31 L151.0,872.74 L152.0,872.17 L153.0,871.60 L154.0,871.03 L155.0,870.46 L156.0,869.89 L157.0,869.33 L158.0,868.76 L159.0,868.20 L160.0,867.64 L161.0,867.09 L162.0,866.53 L163.0,865.99 L164.0,865.45 L165.0,864.91 L166.0,864.38 L167.0,863.86 L168.0,863.34 L169.0,862.83 L170.0,862.33 L171.0,861.84 L172.0,861.36 L173.0,860.89 L174.0,860.43 L175.0,859.98 L176.0,859.54 L177.0,859.11 L178.0,858.70 L179.0,858.30 L180.0,857.91 L181.0,857.54 L182.0,857.18 L183.0,856.83 L184.0,856.50 L185.0,856.19 L186.0,855.89 L187.0,855.61 L188.0,855.34 L189.0,855.09 L190.0,854.86 L191.0,854.64 L192.0,854.45 L193.0,854.27 L194.0,854.11 L195.0,853.97 L196.0,853.84 L197.0,853.74 L198.0,853.65 L199.0,853.59 L200.0,853.54 L201.0,853.51 L202.0,853.50 L203.0,853.51 L204.0,853.54 L205.0,853.59 L206.0,853.65 L207.0,853.74 L208.0,853.84 L209.0,853.97 L210.0,854.11 L211.0,854.27 L212.0,854.45 L213.0,854.64 L214.0,854.86 L215.0,855.09 L216.0,855.34 L217.0,855.61 L218.0,855.89 L219.0,856.19 L220.0,856.50 L221.0,856.83 L222.0,857.18 L223.0,857.54 L224.0,857.91 L225.0,858.30 L226.0,858.70 L227.0,859.11 L228.0,859.54 L229.0,859.98 L230.0,860.43 L231.0,860.89 L232.0,861.36 L233.0,861.84 L234.0,862.33 L235.0,862.83 L236.0,863.34 L237.0,863.86 L238.0,864.38 L239.0,864.91 L240.0,865.45 L241.0,865.99 L242.0,866.53 L243.0,867.09 L244.0,867.64 L245.0,868.20 L246.0,868.76 L247.0,869.33 L248.0,869.89 L249.0,870.46 L250.0,871.03 L251.0,871.60 L252.0,872.17 L253.0,872.74 L254.0,873.31 L255.0,873.87 L256.0,874.44 L257.0,875.00 L258.0,875.56 L259.0,876.12 L260.0,876.67 L261.0,877.22 L262.0,877.76 L263.0,878.31 L264.0,878.84 L265.0,879.37 L266.0,879.90 L267.0,880.42 L268.0,880.93 L269.0,881.44 L270.0,881.94 L271.0,882.43 L272.0,882.92 L273.0,883.40 L274.0,883.87 L275.0,884.34 L276.0,884.79 L277.0,885.24 L278.0,885.68 L279.0,886.12 L280.0,886.54 L281.0,886.96 L282.0,887.37 L283.0,887.77 L284.0,888.16 L285.0,888.54 L286.0,888.92 L287.0,889.28 L288.0,889.64 L289.0,889.99 L290.0,890.33 L291.0,890.66 L292.0,890.98 L293.0,891.30 L294.0,891.61 L295.0,891.90 L296.0,892.19 L297.0,892.48 L298.0,892.75 L299.0,893.02 L300.0,893.27 L301.0,893.52 L302.0,893.77 L303.0,894.00 L304.0,894.23 L305.0,894.45 L306.0,894.66 L307.0,894.87 L308.0,895.07 L309.0,895.26 L310.0,895.45 L311.0,895.63 L312.0,895.80 L313.0,895.96 L314.0,896.12 L315.0,896.28 L316.0,896.43 L317.0,896.57 L318.0,896.71 L319.0,896.84 L320.0,896.97 L321.0,897.09 L322.0,897.21 L323.0,897.32 L324.0,897.43 L325.0,897.53 L326.0,897.63 L327.0,897.72 L328.0,897.81 L329.0,897.90 L330.0,897.98 L331.0,898.06 L332.0,898.14 L333.0,898.21 L334.0,898.28 L335.0,898.34 L336.0,898.41 L337.0,898.47 L338.0,898.52 L339.0,898.58 L340.0,898.63 L341.0,898.68 L342.0,898.72 L343.0,898.77 L344.0,898.81 L345.0,898.85 L346.0,898.89 L347.0,898.92 L348.0,898.96 L349.0,898.99 L350.0,899.02 L351.0,899.05 L352.0,899.08 L353.0,899.10 L354.0,899.13 L355.0,899.15 L356.0,899.17 L357.0,899.19 L358.0,899.21 L359.0,899.23 L360.0,899.25 L361.0,899.26 L362.0,899.28 L363.0,899.29 L364.0,899.31 L365.0,899.32 L366.0,899.33 L367.0,899.34 L368.0,899.35 L369.0,899.36 L370.0,899.37 L371.0,899.38 L372.0,899.39 L373.0,899.40 L374.0,899.40 L375.0,899.41 L376.0,899.42 L377.0,899.42 L378.0,899.43 L379.0,899.43 L380.0,899.44 L381.0,899.44 L382.0,899.45 L383.0,899.45 L384.0,899.45 L385.0,899.46 L386.0,899.46 L387.0,899.46 L388.0,899.47 L389.0,899.47 L390.0,899.47 L391.0,899.47 L392.0,899.48 L393.0,899.48 L394.0,899.48 L395.0,899.48 L396.0,899.48 L397.0,899.48 L398.0,899.48 L399.0,899.49 L400.0,899.49 L401.0,899.49 L402.0,899.49 L403.0,899.49 L404.0,899.49 L405.0,899.49 L406.0,899.49 L407.0,899.49 L408.0,899.49 L409.0,899.49 L410.0,899.49 L411.0,899.49 L412.0,899.50 L413.0,899.50 L414.0,899.50 L415.0,899.50 L416.0,899.50 L417.0,899.50 L418.0,899.50 L419.0,899.50 L420.0,899.50 L421.0,899.50 L422.0,899.50 L423.0,899.50 L424.0,899.50 L425.0,899.50 L426.0,899.50 L427.0,899.50 L428.0,899.50 L429.0,899.50 L430.0,899.50 L431.0,899.50 L432.0,899.50 L433.0,899.50 L434.0,899.50 L435.0,899.50 L436.0,899.50 L437.0,899.50 L438.0,899.50 L439.0,899.50 L440.0,899.50 L441.0,899.50 L442.0,899.50 L443.0,899.50 L444.0,899.50 L445.0,899.50 L446.0,899.50 L447.0,899.50 L448.0,899.50 L449.0,899.50 L450.0,899.50 L451.0,899.50 L452.0,899.50 L453.0,899.50 L454.0,899.50 L455.0,899.50 L456.0,899.50 L457.0,899.50 L458.0,899.50 L459.0,899.50 L460.0,899.50 L461.0,899.50 L462.0,899.50 L463.0,899.50 L464.0,899.50 L465.0,899.50 L466.0,899.50 L467.0,899.50 L468.0,899.50 L469.0,899.50 L470.0,899.50 L471.0,899.50 L472.0,899.50 L473.0,899.50 L474.0,899.50 L475.0,899.50 L476.0,899.50 L477.0,899.50 L478.0,899.50 L479.0,899.50 L480.0,899.50 L481.0,899.50 L482.0,899.50 L483.0,899.50 L484.0,899.50 L485.0,899.50 L486.0,899.50 L487.0,899.50 L488.0,899.50 L489.0,899.50 L490.0,899.50 L491.0,899.50 L492.0,899.50 L493.0,899.50 L494.0,899.50 L495.0,899.50 L496.0,899.50 L497.0,899.50 L498.0,899.50 L499.0,899.50 L500.0,899.50 L501.0,899.50 L502.0,899.50 L503.0,899.50 L504.0,899.50 L505.0,899.50 L506.0,899.50 L507.0,899.50 L508.0,899.50 L509.0,899.50 L510.0,899.50 L511.0,899.50 L512.0,899.50 L513.0,899.50 L514.0,899.50 L515.0,899.50 L516.0,899.50 L517.0,899.50 L518.0,899.50 L519.0,899.50 L520.0,899.50 L521.0,899.50 L522.0,899.50 L523.0,899.50 L524.0,899.50 L525.0,899.50 L526.0,899.50 L527.0,899.50 L528.0,899.50 L529.0,899.50 L529,899.5 Z" fill="#808000"/>
<polyline points="54.0,897.4 55.0,897.4 56.0,897.3 57.0,897.3 58.0,897.2 59.0,897.2 60.0,897.2 61.0,897.1 62.0,897.1 63.0,897.0 64.0,897.0 65.0,896.9 66.0,896.9 67.0,896.8 68.0,896.7 69.0,896.7 70.0,896.6 71.0,896.5 72.0,896.5 73.0,896.4 74.0,896.3 75.0,896.2 76.0,896.1 77.0,896.0 78.0,895.9 79.0,895.8 80.0,895.7 81.0,895.6 82.0,895.5 83.0,895.4 84.0,895.2 85.0,895.1 86.0,895.0 87.0,894.8 88.0,894.7 89.0,894.5 90.0,894.4 91.0,894.2 92.0,894.0 93.0,893.8 94.0,893.7 95.0,893.5 96.0,893.3 97.0,893.1 98.0,892.9 99.0,892.6 100.0,892.4 101.0,892.2 102.0,891.9 103.0,891.7 104.0,891.4 105.0,891.2 106.0,890.9 107.0,890.6 108.0,890.3 109.0,890.0 110.0,889.7 111.0,889.4 112.0,889.1 113.0,888.7 114.0,888.4 115.0,888.0 116.0,887.7 117.0,887.3 118.0,886.9 119.0,886.6 120.0,886.2 121.0,885.8 122.0,885.4 123.0,884.9 124.0,884.5 125.0,884.1 126.0,883.6 127.0,883.2 128.0,882.7 129.0,882.3 130.0,881.8 131.0,881.3 132.0,880.8 133.0,880.3 134.0,879.8 135.0,879.3 136.0,878.8 137.0,878.3 138.0,877.8 139.0,877.2 140.0,876.7 141.0,876.2 142.0,875.6 143.0,875.1 144.0,874.5 145.0,874.0 146.0,873.4 147.0,872.8 148.0,872.3 149.0,871.7 150.0,871.1 151.0,870.6 152.0,870.0 153.0,869.4 154.0,868.9 155.0,868.3 156.0,867.7 157.0,867.2 158.0,866.6 159.0,866.0 160.0,865.5 161.0,864.9 162.0,864.4 163.0,863.8 164.0,863.3 165.0,862.8 166.0,862.3 167.0,861.7 168.0,861.2 169.0,860.7 170.0,860.2 171.0,859.8 172.0,859.3 173.0,858.8 174.0,858.4 175.0,857.9 176.0,857.5 177.0,857.1 178.0,856.7 179.0,856.3 180.0,855.9 181.0,855.5 182.0,855.2 183.0,854.8 184.0,854.5 185.0,854.2 186.0,853.9 187.0,853.6 188.0,853.3 189.0,853.1 190.0,852.8 191.0,852.6 192.0,852.4 193.0,852.2 194.0,852.0 195.0,851.8 196.0,851.6 197.0,851.4 198.0,851.3 199.0,851.1 200.0,851.0 201.0,850.9 202.0,850.7 203.0,850.6 204.0,850.5 205.0,850.3 206.0,850.2 207.0,850.1 208.0,849.9 209.0,849.8 210.0,849.6 211.0,849.5 212.0,849.3 213.0,849.1 214.0,848.9 215.0,848.7 216.0,848.5 217.0,848.2 218.0,848.0 219.0,847.7 220.0,847.4 221.0,847.1 222.0,846.7 223.0,846.3 224.0,845.9 225.0,845.5 226.0,845.1 227.0,844.6 228.0,844.1 229.0,843.6 230.0,843.1 231.0,842.5 232.0,841.9 233.0,841.2 234.0,840.5 235.0,839.8 236.0,839.0 237.0,838.3 238.0,837.4 239.0,836.5 240.0,835.6 241.0,834.6 242.0,833.6 243.0,832.6 244.0,831.5 245.0,830.3 246.0,829.1 247.0,827.8 248.0,826.5 249.0,825.2 250.0,823.8 251.0,822.4 252.0,820.9 253.0,819.4 254.0,817.8 255.0,816.2 256.0,814.6 257.0,813.0 258.0,811.3 259.0,809.6 260.0,807.9 261.0,806.2 262.0,804.5 263.0,802.8 264.0,801.2 265.0,799.5 266.0,797.8 267.0,796.2 268.0,794.6 269.0,793.0 270.0,791.5 271.0,790.0 272.0,788.6 273.0,787.1 274.0,785.8 275.0,784.4 276.0,783.1 277.0,781.9 278.0,780.7 279.0,779.5 280.0,778.3 281.0,777.2 282.0,776.1 283.0,775.0 284.0,774.0 285.0,772.9 286.0,771.8 287.0,770.8 288.0,769.7 289.0,768.6 290.0,767.4 291.0,766.2 292.0,765.0 293.0,763.7 294.0,762.3 295.0,760.9 296.0,759.4 297.0,757.8 298.0,756.1 299.0,754.3 300.0,752.5 301.0,750.5 302.0,748.4 303.0,746.3 304.0,744.0 305.0,741.6 306.0,739.2 307.0,736.7 308.0,734.1 309.0,731.4 310.0,728.7 311.0,725.9 312.0,723.1 313.0,720.3 314.0,717.5 315.0,714.8 316.0,712.0 317.0,709.3 318.0,706.7 319.0,704.2 320.0,701.8 321.0,699.5 322.0,697.3 323.0,695.3 324.0,693.5 325.0,691.9 326.0,690.5 327.0,689.3 328.0,688.3 329.0,687.6 330.0,687.0 331.0,686.7 332.0,686.6 333.0,686.7 334.0,687.1 335.0,687.6 336.0,688.2 337.0,689.0 338.0,690.0 339.0,691.0 340.0,692.1 341.0,693.2 342.0,694.2 343.0,695.3 344.0,696.2 345.0,697.0 346.0,697.6 347.0,698.0 348.0,698.1 349.0,698.0 350.0,697.6 351.0,696.8 352.0,695.7 353.0,694.3 354.0,692.5 355.0,690.4 356.0,687.9 357.0,685.2 358.0,682.2 359.0,679.0 360.0,675.6 361.0,672.1 362.0,668.4 363.0,664.8 364.0,661.2 365.0,657.6 366.0,654.0 367.0,650.4 368.0,646.9 369.0,643.5 370.0,642.2 371.0,639.0 372.0,636.6 373.0,635.0 374.0,634.6 375.0,635.3 376.0,637.0 377.0,639.3 378.0,642.2 379.0,641.3 380.0,643.5 381.0,645.8 382.0,648.3 383.0,651.0 384.0,653.8 385.0,656.9 386.0,660.1 387.0,663.4 388.0,666.7 389.0,670.1 390.0,673.4 391.0,676.6 392.0,679.7 393.0,682.7 394.0,685.4 395.0,687.9 396.0,690.2 397.0,692.2 398.0,694.1 399.0,695.7 400.0,697.1 401.0,698.3 402.0,699.4 403.0,700.3 404.0,701.1 405.0,701.9 406.0,702.7 407.0,703.5 408.0,704.3 409.0,705.2 410.0,706.1 411.0,707.2 412.0,708.5 413.0,709.8 414.0,711.4 415.0,713.1 416.0,715.0 417.0,717.1 418.0,719.4 419.0,721.8 420.0,724.4 421.0,727.1 422.0,730.0 423.0,732.9 424.0,736.0 425.0,739.0 426.0,742.2 427.0,745.4 428.0,748.5 429.0,751.7 430.0,754.8 431.0,757.8 432.0,760.8 433.0,763.8 434.0,766.6 435.0,769.3 436.0,771.9 437.0,774.5 438.0,776.9 439.0,779.2 440.0,781.4 441.0,783.5 442.0,785.5 443.0,787.5 444.0,789.4 445.0,791.2 446.0,793.0 447.0,794.8 448.0,796.6 449.0,798.3 450.0,800.1 451.0,801.9 452.0,803.7 453.0,805.6 454.0,807.6 455.0,809.6 456.0,811.7 457.0,813.8 458.0,816.1 459.0,818.4 460.0,820.8 461.0,823.3 462.0,825.8 463.0,828.4 464.0,831.0 465.0,833.7 466.0,836.4 467.0,839.2 468.0,842.0 469.0,844.7 470.0,847.5 471.0,850.3 472.0,853.0 473.0,855.7 474.0,858.3 475.0,860.9 476.0,863.4 477.0,865.8 478.0,868.1 479.0,870.4 480.0,872.5 481.0,874.6 482.0,876.5 483.0,878.4 484.0,880.1 485.0,881.7 486.0,883.2 487.0,884.7 488.0,886.0 489.0,887.2 490.0,888.3 491.0,889.4 492.0,890.3 493.0,891.2 494.0,891.9 495.0,892.6 496.0,893.3 497.0,893.9 498.0,894.4 499.0,894.8 500.0,895.2 501.0,895.6 502.0,895.9 503.0,896.2 504.0,896.4 505.0,896.6 506.0,896.8 507.0,897.0 508.0,897.1 509.0,897.2 510.0,897.4 511.0,897.4 512.0,897.5 513.0,897.6 514.0,897.6 515.0,897.7 516.0,897.7 517.0,897.7 518.0,897.8 519.0,897.8 520.0,897.8 521.0,897.8 522.0,897.8 523.0,897.9 524.0,897.9 525.0,897.9 526.0,897.9 527.0,897.9 528.0,897.9" fill="none" stroke="#3c3c3c" stroke-width="6.0" stroke-linejoin="round"/>
<polyline points="54.0,897.4 55.0,897.4 56.0,897.3 57.0,897.3 58.0,897.2 59.0,897.2 60.0,897.2 61.0,897.1 62.0,897.1 63.0,897.0 64.0,897.0 65.0,896.9 66.0,896.9 67.0,896.8 68.0,896.7 69.0,896.7 70.0,896.6 71.0,896.5 72.0,896.5 73.0,896.4 74.0,896.3 75.0,896.2 76.0,896.1 77.0,896.0 78.0,895.9 79.0,895.8 80.0,895.7 81.0,895.6 82.0,895.5 83.0,895.4 84.0,895.2 85.0,895.1 86.0,895.0 87.0,894.8 88.0,894.7 89.0,894.5 90.0,894.4 91.0,894.2 92.0,894.0 93.0,893.8 94.0,893.7 95.0,893.5 96.0,893.3 97.0,893.1 98.0,892.9 99.0,892.6 100.0,892.4 101.0,892.2 102.0,891.9 103.0,891.7 104.0,891.4 105.0,891.2 106.0,890.9 107.0,890.6 108.0,890.3 109.0,890.0 110.0,889.7 111.0,889.4 112.0,889.1 113.0,888.7 114.0,888.4 115.0,888.0 116.0,887.7 117.0,887.3 118.0,886.9 119.0,886.6 120.0,886.2 121.0,885.8 122.0,885.4 123.0,884.9 124.0,884.5 125.0,884.1 126.0,883.6 127.0,883.2 128.0,882.7 129.0,882.3 130.0,881.8 131.0,881.3 132.0,880.8 133.0,880.3 134.0,879.8 135.0,879.3 136.0,878.8 137.0,878.3 138.0,877.8 139.0,877.2 140.0,876.7 141.0,876.2 142.0,875.6 143.0,875.1 144.0,874.5 145.0,874.0 146.0,873.4 147.0,872.8 148.0,872.3 149.0,871.7 150.0,871.1 151.0,870.6 152.0,870.0 153.0,869.4 154.0,868.9 155.0,868.3 156.0,867.7 157.0,867.2 158.0,866.6 159.0,866.0 160.0,865.5 161.0,864.9 162.0,864.4 163.0,863.8 164.0,863.3 165.0,862.8 166.0,862.3 167.0,861.7 168.0,861.2 169.0,860.7 170.0,860.2 171.0,859.8 172.0,859.3 173.0,858.8 174.0,858.4 175.0,857.9 176.0,857.5 177.0,857.1 178.0,856.7 179.0,856.3 180.0,855.9 181.0,855.5 182.0,855.2 183.0,854.8 184.0,854.5 185.0,854.2 186.0,853.9 187.0,853.6 188.0,853.3 189.0,853.1 190.0,852.8 191.0,852.6 192.0,852.4 193.0,852.2 194.0,852.0 195.0,851.8 196.0,851.6 197.0,851.4 198.0,851.3 199.0,851.1 200.0,851.0 201.0,850.9 202.0,850.7 203.0,850.6 204.0,850.5 205.0,850.3 206.0,850.2 207.0,850.1 208.0,849.9 209.0,849.8 210.0,849.6 211.0,849.5 212.0,849.3 213.0,849.1 214.0,848.9 215.0,848.7 216.0,848.5 217.0,848.2 218.0,848.0 219.0,847.7 220.0,847.4 221.0,847.1 222.0,846.7 223.0,846.3 224.0,845.9 225.0,845.5 226.0,845.1 227.0,844.6 228.0,844.1 229.0,843.6 230.0,843.1 231.0,842.5 232.0,841.9 233.0,841.2 234.0,840.5 235.0,839.8 236.0,839.0 237.0,838.3 238.0,837.4 239.0,836.5 240.0,835.6 241.0,834.6 242.0,833.6 243.0,832.6 244.0,831.5 245.0,830.3 246.0,829.1 247.0,827.8 248.0,826.5 249.0,825.2 250.0,823.8 251.0,822.4 252.0,820.9 253.0,819.4 254.0,817.8 255.0,816.2 256.0,814.6 257.0,813.0 258.0,811.3 259.0,809.6 260.0,807.9 261.0,806.2 262.0,804.5 263.0,802.8 264.0,801.2 265.0,799.5 266.0,797.8 267.0,796.2 268.0,794.6 269.0,793.0 270.0,791.5 271.0,790.0 272.0,788.6 273.0,787.1 274.0,785.8 275.0,784.4 276.0,783.1 277.0,781.9 278.0,780.7 279.0,779.5 280.0,778.3 281.0,777.2 282.0,776.1 283.0,775.0 284.0,774.0 285.0,772.9 286.0,771.8 287.0,770.8 288.0,769.7 289.0,768.6 290.0,767.4 291.0,766.2 292.0,765.0 293.0,763.7 294.0,762.3 295.0,760.9 296.0,759.4 297.0,757.8 298.0,756.1 299.0,754.3 300.0,752.5 301.0,750.5 302.0,748.4 303.0,746.3 304.0,744.0 305.0,741.6 306.0,739.2 307.0,736.7 308.0,734.1 309.0,731.4 310.0,728.7 311.0,725.9 312.0,723.1 313.0,720.3 314.0,717.5 315.0,714.8 316.0,712.0 317.0,709.3 318.0,706.7 319.0,704.2 320.0,701.8 321.0,699.5 322.0,697.3 323.0,695.3 324.0,693.5 325.0,691.9 326.0,690.5 327.0,689.3 328.0,688.3 329.0,687.6 330.0,687.0 331.0,686.7 332.0,686.6 333.0,686.7 334.0,687.1 335.0,687.6 336.0,688.2 337.0,689.0 338.0,690.0 339.0,691.0 340.0,692.1 341.0,693.2 342.0,694.2 343.0,695.3 344.0,696.2 345.0,697.0 346.0,697.6 347.0,698.0 348.0,698.1 349.0,698.0 350.0,697.6 351.0,696.8 352.0,695.7 353.0,694.3 354.0,692.5 355.0,690.4 356.0,687.9 357.0,685.2 358.0,682.2 359.0,679.0 360.0,675.6 361.0,672.1 362.0,668.4 363.0,664.8 364.0,661.2 365.0,657.6 366.0,654.0 367.0,650.4 368.0,646.9 369.0,643.5 370.0,642.2 371.0,639.0 372.0,636.6 373.0,635.0 374.0,634.6 375.0,635.3 376.0,637.0 377.0,639.3 378.0,642.2 379.0,641.3 380.0,643.5 381.0,645.8 382.0,648.3 383.0,651.0 384.0,653.8 385.0,656.9 386.0,660.1 387.0,663.4 388.0,666.7 389.0,670.1 390.0,673.4 391.0,676.6 392.0,679.7 393.0,682.7 394.0,685.4 395.0,687.9 396.0,690.2 397.0,692.2 398.0,694.1 399.0,695.7 400.0,697.1 401.0,698.3 402.0,699.4 403.0,700.3 404.0,701.1 405.0,701.9 406.0,702.7 407.0,703.5 408.0,704.3 409.0,705.2 410.0,706.1 411.0,707.2 412.0,708.5 413.0,709.8 414.0,711.4 415.0,713.1 416.0,715.0 417.0,717.1 418.0,719.4 419.0,721.8 420.0,724.4 421.0,727.1 422.0,730.0 423.0,732.9 424.0,736.0 425.0,739.0 426.0,742.2 427.0,745.4 428.0,748.5 429.0,751.7 430.0,754.8 431.0,757.8 432.0,760.8 433.0,763.8 434.0,766.6 435.0,769.3 436.0,771.9 437.0,774.5 438.0,776.9 439.0,779.2 440.0,781.4 441.0,783.5 442.0,785.5 443.0,787.5 444.0,789.4 445.0,791.2 446.0,793.0 447.0,794.8 448.0,796.6 449.0,798.3 450.0,800.1 451.0,801.9 452.0,803.7 453.0,805.6 454.0,807.6 455.0,809.6 456.0,811.7 457.0,813.8 458.0,816.1 459.0,818.4 460.0,820.8 461.0,823.3 462.0,825.8 463.0,828.4 464.0,831.0 465.0,833.7 466.0,836.4 467.0,839.2 468.0,842.0 469.0,844.7 470.0,847.5 471.0,850.3 472.0,853.0 473.0,855.7 474.0,858.3 475.0,860.9 476.0,863.4 477.0,865.8 478.0,868.1 479.0,870.4 480.0,872.5 481.0,874.6 482.0,876.5 483.0,878.4 484.0,880.1 485.0,881.7 486.0,883.2 487.0,884.7 488.0,886.0 489.0,887.2 490.0,888.3 491.0,889.4 492.0,890.3 493.0,891.2 494.0,891.9 495.0,892.6 496.0,893.3 497.0,893.9 498.0,894.4 499.0,894.8 500.0,895.2 501.0,895.6 502.0,895.9 503.0,896.2 504.0,896.4 505.0,896.6 506.0,896.8 507.0,897.0 508.0,897.1 509.0,897.2 510.0,897.4 511.0,897.4 512.0,897.5 513.0,897.6 514.0,897.6 515.0,897.7 516.0,897.7 517.0,897.7 518.0,897.8 519.0,897.8 520.0,897.8 521.0,897.8 522.0,897.8 523.0,897.9 524.0,897.9 525.0,897.9 526.0,897.9 527.0,897.9 528.0,897.9" fill="none" stroke="#d8d8d8" stroke-width="3.6" stroke-linejoin="round"/>
<g fill="none" stroke="#303030" stroke-width="0.55" opacity="0.75"><circle cx="54.0" cy="897.4" r="2.5"/><circle cx="56.0" cy="897.3" r="2.5"/><circle cx="58.0" cy="897.2" r="2.5"/><circle cx="60.0" cy="897.2" r="2.5"/><circle cx="62.0" cy="897.1" r="2.5"/><circle cx="64.0" cy="897.0" r="2.5"/><circle cx="66.0" cy="896.9" r="2.5"/><circle cx="68.0" cy="896.7" r="2.5"/><circle cx="70.0" cy="896.6" r="2.5"/><circle cx="72.0" cy="896.5" r="2.5"/><circle cx="74.0" cy="896.3" r="2.5"/><circle cx="76.0" cy="896.1" r="2.5"/><circle cx="78.0" cy="895.9" r="2.5"/><circle cx="80.0" cy="895.7" r="2.5"/><circle cx="82.0" cy="895.5" r="2.5"/><circle cx="84.0" cy="895.2" r="2.5"/><circle cx="86.0" cy="895.0" r="2.5"/><circle cx="88.0" cy="894.7" r="2.5"/><circle cx="90.0" cy="894.4" r="2.5"/><circle cx="92.0" cy="894.0" r="2.5"/><circle cx="94.0" cy="893.7" r="2.5"/><circle cx="96.0" cy="893.3" r="2.5"/><circle cx="98.0" cy="892.9" r="2.5"/><circle cx="100.0" cy="892.4" r="2.5"/><circle cx="102.0" cy="891.9" r="2.5"/><circle cx="104.0" cy="891.4" r="2.5"/><circle cx="106.0" cy="890.9" r="2.5"/><circle cx="108.0" cy="890.3" r="2.5"/><circle cx="110.0" cy="889.7" r="2.5"/><circle cx="112.0" cy="889.1" r="2.5"/><circle cx="114.0" cy="888.4" r="2.5"/><circle cx="116.0" cy="887.7" r="2.5"/><circle cx="118.0" cy="886.9" r="2.5"/><circle cx="120.0" cy="886.2" r="2.5"/><circle cx="122.0" cy="885.4" r="2.5"/><circle cx="124.0" cy="884.5" r="2.5"/><circle cx="126.0" cy="883.6" r="2.5"/><circle cx="128.0" cy="882.7" r="2.5"/><circle cx="130.0" cy="881.8" r="2.5"/><circle cx="132.0" cy="880.8" r="2.5"/><circle cx="134.0" cy="879.8" r="2.5"/><circle cx="136.0" cy="878.8" r="2.5"/><circle cx="138.0" cy="877.8" r="2.5"/><circle cx="140.0" cy="876.7" r="2.5"/><circle cx="142.0" cy="875.6" r="2.5"/><circle cx="144.0" cy="874.5" r="2.5"/><circle cx="146.0" cy="873.4" r="2.5"/><circle cx="148.0" cy="872.3" r="2.5"/><circle cx="150.0" cy="871.1" r="2.5"/><circle cx="152.0" cy="870.0" r="2.5"/><circle cx="154.0" cy="868.9" r="2.5"/><circle cx="156.0" cy="867.7" r="2.5"/><circle cx="158.0" cy="866.6" r="2.5"/><circle cx="160.0" cy="865.5" r="2.5"/><circle cx="162.0" cy="864.4" r="2.5"/><circle cx="164.0" cy="863.3" r="2.5"/><circle cx="166.0" cy="862.3" r="2.5"/><circle cx="168.0" cy="861.2" r="2.5"/><circle cx="170.0" cy="860.2" r="2.5"/><circle cx="172.0" cy="859.3" r="2.5"/><circle cx="174.0" cy="858.4" r="2.5"/><circle cx="176.0" cy="857.5" r="2.5"/><circle cx="178.0" cy="856.7" r="2.5"/><circle cx="180.0" cy="855.9" r="2.5"/><circle cx="182.0" cy="855.2" r="2.5"/><circle cx="184.0" cy="854.5" r="2.5"/><circle cx="186.0" cy="853.9" r="2.5"/><circle cx="188.0" cy="853.3" r="2.5"/><circle cx="190.0" cy="852.8" r="2.5"/><circle cx="192.0" cy="852.4" r="2.5"/><circle cx="194.0" cy="852.0" r="2.5"/><circle cx="196.0" cy="851.6" r="2.5"/><circle cx="198.0" cy="851.3" r="2.5"/><circle cx="200.0" cy="851.0" r="2.5"/><circle cx="202.0" cy="850.7" r="2.5"/><circle cx="204.0" cy="850.5" r="2.5"/><circle cx="206.0" cy="850.2" r="2.5"/><circle cx="208.0" cy="849.9" r="2.5"/><circle cx="210.0" cy="849.6" r="2.5"/><circle cx="212.0" cy="849.3" r="2.5"/><circle cx="214.0" cy="848.9" r="2.5"/><circle cx="216.0" cy="848.5" r="2.5"/><circle cx="218.0" cy="848.0" r="2.5"/><circle cx="220.0" cy="847.4" r="2.5"/><circle cx="222.0" cy="846.7" r="2.5"/><circle cx="224.0" cy="845.9" r="2.5"/><circle cx="226.0" cy="845.1" r="2.5"/><circle cx="228.0" cy="844.1" r="2.5"/><circle cx="230.0" cy="843.1" r="2.5"/><circle cx="232.0" cy="841.9" r="2.5"/><circle cx="234.0" cy="840.5" r="2.5"/><circle cx="236.0" cy="839.0" r="2.5"/><circle cx="238.0" cy="837.4" r="2.5"/><circle cx="240.0" cy="835.6" r="2.5"/><circle cx="242.0" cy="833.6" r="2.5"/><circle cx="244.0" cy="831.5" r="2.5"/><circle cx="246.0" cy="829.1" r="2.5"/><circle cx="248.0" cy="826.5" r="2.5"/><circle cx="250.0" cy="823.8" r="2.5"/><circle cx="252.0" cy="820.9" r="2.5"/><circle cx="254.0" cy="817.8" r="2.5"/><circle cx="256.0" cy="814.6" r="2.5"/><circle cx="258.0" cy="811.3" r="2.5"/><circle cx="260.0" cy="807.9" r="2.5"/><circle cx="262.0" cy="804.5" r="2.5"/><circle cx="264.0" cy="801.2" r="2.5"/><circle cx="266.0" cy="797.8" r="2.5"/><circle cx="268.0" cy="794.6" r="2.5"/><circle cx="270.0" cy="791.5" r="2.5"/><circle cx="272.0" cy="788.6" r="2.5"/><circle cx="274.0" cy="785.8" r="2.5"/><circle cx="276.0" cy="783.1" r="2.5"/><circle cx="278.0" cy="780.7" r="2.5"/><circle cx="280.0" cy="778.3" r="2.5"/><circle cx="282.0" cy="776.1" r="2.5"/><circle cx="284.0" cy="774.0" r="2.5"/><circle cx="286.0" cy="771.8" r="2.5"/><circle cx="288.0" cy="769.7" r="2.5"/><circle cx="290.0" cy="767.4" r="2.5"/><circle cx="292.0" cy="765.0" r="2.5"/><circle cx="294.0" cy="762.3" r="2.5"/><circle cx="296.0" cy="759.4" r="2.5"/><circle cx="298.0" cy="756.1" r="2.5"/><circle cx="300.0" cy="752.5" r="2.5"/><circle cx="302.0" cy="748.4" r="2.5"/><circle cx="304.0" cy="744.0" r="2.5"/><circle cx="306.0" cy="739.2" r="2.5"/><circle cx="308.0" cy="734.1" r="2.5"/><circle cx="310.0" cy="728.7" r="2.5"/><circle cx="312.0" cy="723.1" r="2.5"/><circle cx="314.0" cy="717.5" r="2.5"/><circle cx="316.0" cy="712.0" r="2.5"/><circle cx="318.0" cy="706.7" r="2.5"/><circle cx="320.0" cy="701.8" r="2.5"/><circle cx="322.0" cy="697.3" r="2.5"/><circle cx="324.0" cy="693.5" r="2.5"/><circle cx="326.0" cy="690.5" r="2.5"/><circle cx="328.0" cy="688.3" r="2.5"/><circle cx="330.0" cy="687.0" r="2.5"/><circle cx="332.0" cy="686.6" r="2.5"/><circle cx="334.0" cy="687.1" r="2.5"/><circle cx="336.0" cy="688.2" r="2.5"/><circle cx="338.0" cy="690.0" r="2.5"/><circle cx="340.0" cy="692.1" r="2.5"/><circle cx="342.0" cy="694.2" r="2.5"/><circle cx="344.0" cy="696.2" r="2.5"/><circle cx="346.0" cy="697.6" r="2.5"/><circle cx="348.0" cy="698.1" r="2.5"/><circle cx="350.0" cy="697.6" r="2.5"/><circle cx="352.0" cy="695.7" r="2.5"/><circle cx="354.0" cy="692.5" r="2.5"/><circle cx="356.0" cy="687.9" r="2.5"/><circle cx="358.0" cy="682.2" r="2.5"/><circle cx="360.0" cy="675.6" r="2.5"/><circle cx="362.0" cy="668.4" r="2.5"/><circle cx="364.0" cy="661.2" r="2.5"/><circle cx="366.0" cy="654.0" r="2.5"/><circle cx="368.0" cy="646.9" r="2.5"/><circle cx="370.0" cy="642.2" r="2.5"/><circle cx="372.0" cy="636.6" r="2.5"/><circle cx="374.0" cy="634.6" r="2.5"/><circle cx="376.0" cy="637.0" r="2.5"/><circle cx="378.0" cy="642.2" r="2.5"/><circle cx="380.0" cy="643.5" r="2.5"/><circle cx="382.0" cy="648.3" r="2.5"/><circle cx="384.0" cy="653.8" r="2.5"/><circle cx="386.0" cy="660.1" r="2.5"/><circle cx="388.0" cy="666.7" r="2.5"/><circle cx="390.0" cy="673.4" r="2.5"/><circle cx="392.0" cy="679.7" r="2.5"/><circle cx="394.0" cy="685.4" r="2.5"/><circle cx="396.0" cy="690.2" r="2.5"/><circle cx="398.0" cy="694.1" r="2.5"/><circle cx="400.0" cy="697.1" r="2.5"/><circle cx="402.0" cy="699.4" r="2.5"/><circle cx="404.0" cy="701.1" r="2.5"/><circle cx="406.0" cy="702.7" r="2.5"/><circle cx="408.0" cy="704.3" r="2.5"/><circle cx="410.0" cy="706.1" r="2.5"/><circle cx="412.0" cy="708.5" r="2.5"/><circle cx="414.0" cy="711.4" r="2.5"/><circle cx="416.0" cy="715.0" r="2.5"/><circle cx="418.0" cy="719.4" r="2.5"/><circle cx="420.0" cy="724.4" r="2.5"/><circle cx="422.0" cy="730.0" r="2.5"/><circle cx="424.0" cy="736.0" r="2.5"/><circle cx="426.0" cy="742.2" r="2.5"/><circle cx="428.0" cy="748.5" r="2.5"/><circle cx="430.0" cy="754.8" r="2.5"/><circle cx="432.0" cy="760.8" r="2.5"/><circle cx="434.0" cy="766.6" r="2.5"/><circle cx="436.0" cy="771.9" r="2.5"/><circle cx="438.0" cy="776.9" r="2.5"/><circle cx="440.0" cy="781.4" r="2.5"/><circle cx="442.0" cy="785.5" r="2.5"/><circle cx="444.0" cy="789.4" r="2.5"/><circle cx="446.0" cy="793.0" r="2.5"/><circle cx="448.0" cy="796.6" r="2.5"/><circle cx="450.0" cy="800.1" r="2.5"/><circle cx="452.0" cy="803.7" r="2.5"/><circle cx="454.0" cy="807.6" r="2.5"/><circle cx="456.0" cy="811.7" r="2.5"/><circle cx="458.0" cy="816.1" r="2.5"/><circle cx="460.0" cy="820.8" r="2.5"/><circle cx="462.0" cy="825.8" r="2.5"/><circle cx="464.0" cy="831.0" r="2.5"/><circle cx="466.0" cy="836.4" r="2.5"/><circle cx="468.0" cy="842.0" r="2.5"/><circle cx="470.0" cy="847.5" r="2.5"/><circle cx="472.0" cy="853.0" r="2.5"/><circle cx="474.0" cy="858.3" r="2.5"/><circle cx="476.0" cy="863.4" r="2.5"/><circle cx="478.0" cy="868.1" r="2.5"/><circle cx="480.0" cy="872.5" r="2.5"/><circle cx="482.0" cy="876.5" r="2.5"/><circle cx="484.0" cy="880.1" r="2.5"/><circle cx="486.0" cy="883.2" r="2.5"/><circle cx="488.0" cy="886.0" r="2.5"/><circle cx="490.0" cy="888.3" r="2.5"/><circle cx="492.0" cy="890.3" r="2.5"/><circle cx="494.0" cy="891.9" r="2.5"/><circle cx="496.0" cy="893.3" r="2.5"/><circle cx="498.0" cy="894.4" r="2.5"/><circle cx="500.0" cy="895.2" r="2.5"/><circle cx="502.0" cy="895.9" r="2.5"/><circle cx="504.0" cy="896.4" r="2.5"/><circle cx="506.0" cy="896.8" r="2.5"/><circle cx="508.0" cy="897.1" r="2.5"/><circle cx="510.0" cy="897.4" r="2.5"/><circle cx="512.0" cy="897.5" r="2.5"/><circle cx="514.0" cy="897.6" r="2.5"/><circle cx="516.0" cy="897.7" r="2.5"/><circle cx="518.0" cy="897.8" r="2.5"/><circle cx="520.0" cy="897.8" r="2.5"/><circle cx="522.0" cy="897.8" r="2.5"/><circle cx="524.0" cy="897.9" r="2.5"/><circle cx="526.0" cy="897.9" r="2.5"/><circle cx="528.0" cy="897.9" r="2.5"/></g>
<polyline points="54.0,899.02 54.5,899.00 55.0,898.99 55.5,898.97 56.0,898.96 56.5,898.94 57.0,898.92 57.5,898.91 58.0,898.89 58.5,898.87 59.0,898.85 59.5,898.83 60.0,898.81 60.5,898.79 61.0,898.77 61.5,898.75 62.0,898.72 62.5,898.70 63.0,898.68 63.5,898.65 64.0,898.63 64.5,898.60 65.0,898.58 65.5,898.55 66.0,898.52 66.5,898.49 67.0,898.47 67.5,898.44 68.0,898.41 68.5,898.38 69.0,898.34 69.5,898.31 70.0,898.28 70.5,898.24 71.0,898.21 71.5,898.17 72.0,898.14 72.5,898.10 73.0,898.06 73.5,898.02 74.0,897.98 74.5,897.94 75.0,897.90 75.5,897.86 76.0,897.81 76.5,897.77 77.0,897.72 77.5,897.68 78.0,897.63 78.5,897.58 79.0,897.53 79.5,897.48 80.0,897.43 80.5,897.37 81.0,897.32 81.5,897.26 82.0,897.21 82.5,897.15 83.0,897.09 83.5,897.03 84.0,896.97 84.5,896.91 85.0,896.84 85.5,896.78 86.0,896.71 86.5,896.64 87.0,896.57 87.5,896.50 88.0,896.43 88.5,896.35 89.0,896.28 89.5,896.20 90.0,896.12 90.5,896.05 91.0,895.96 91.5,895.88 92.0,895.80 92.5,895.71 93.0,895.63 93.5,895.54 94.0,895.45 94.5,895.35 95.0,895.26 95.5,895.17 96.0,895.07 96.5,894.97 97.0,894.87 97.5,894.77 98.0,894.66 98.5,894.56 99.0,894.45 99.5,894.34 100.0,894.23 100.5,894.12 101.0,894.00 101.5,893.89 102.0,893.77 102.5,893.65 103.0,893.52 103.5,893.40 104.0,893.27 104.5,893.15 105.0,893.02 105.5,892.88 106.0,892.75 106.5,892.61 107.0,892.48 107.5,892.34 108.0,892.19 108.5,892.05 109.0,891.90 109.5,891.76 110.0,891.61 110.5,891.45 111.0,891.30 111.5,891.14 112.0,890.98 112.5,890.82 113.0,890.66 113.5,890.50 114.0,890.33 114.5,890.16 115.0,889.99 115.5,889.82 116.0,889.64 116.5,889.46 117.0,889.28 117.5,889.10 118.0,888.92 118.5,888.73 119.0,888.54 119.5,888.35 120.0,888.16 120.5,887.96 121.0,887.77 121.5,887.57 122.0,887.37 122.5,887.16 123.0,886.96 123.5,886.75 124.0,886.54 124.5,886.33 125.0,886.12 125.5,885.90 126.0,885.68 126.5,885.46 127.0,885.24 127.5,885.02 128.0,884.79 128.5,884.57 129.0,884.34 129.5,884.10 130.0,883.87 130.5,883.64 131.0,883.40 131.5,883.16 132.0,882.92 132.5,882.68 133.0,882.43 133.5,882.19 134.0,881.94 134.5,881.69 135.0,881.44 135.5,881.18 136.0,880.93 136.5,880.67 137.0,880.42 137.5,880.16 138.0,879.90 138.5,879.64 139.0,879.37 139.5,879.11 140.0,878.84 140.5,878.57 141.0,878.31 141.5,878.04 142.0,877.76 142.5,877.49 143.0,877.22 143.5,876.94 144.0,876.67 144.5,876.39 145.0,876.12 145.5,875.84 146.0,875.56 146.5,875.28 147.0,875.00 147.5,874.72 148.0,874.44 148.5,874.15 149.0,873.87 149.5,873.59 150.0,873.31 150.5,873.02 151.0,872.74 151.5,872.45 152.0,872.17 152.5,871.88 153.0,871.60 153.5,871.31 154.0,871.03 154.5,870.75 155.0,870.46 155.5,870.18 156.0,869.89 156.5,869.61 157.0,869.33 157.5,869.04 158.0,868.76 158.5,868.48 159.0,868.20 159.5,867.92 160.0,867.64 160.5,867.36 161.0,867.08 161.5,866.81 162.0,866.53 162.5,866.26 163.0,865.99 163.5,865.71 164.0,865.44 164.5,865.18 165.0,864.91 165.5,864.64 166.0,864.38 166.5,864.11 167.0,863.85 167.5,863.59 168.0,863.34 168.5,863.08 169.0,862.83 169.5,862.58 170.0,862.33 170.5,862.08 171.0,861.83 171.5,861.59 172.0,861.35 172.5,861.11 173.0,860.88 173.5,860.65 174.0,860.41 174.5,860.19 175.0,859.96 175.5,859.74 176.0,859.52 176.5,859.30 177.0,859.09 177.5,858.88 178.0,858.67 178.5,858.47 179.0,858.27 179.5,858.07 180.0,857.87 180.5,857.68 181.0,857.49 181.5,857.31 182.0,857.12 182.5,856.94 183.0,856.77 183.5,856.60 184.0,856.43 184.5,856.26 185.0,856.10 185.5,855.94 186.0,855.79 186.5,855.63 187.0,855.49 187.5,855.34 188.0,855.20 188.5,855.06 189.0,854.93 189.5,854.80 190.0,854.67 190.5,854.54 191.0,854.42 191.5,854.30 192.0,854.19 192.5,854.08 193.0,853.97 193.5,853.86 194.0,853.76 194.5,853.66 195.0,853.57 195.5,853.47 196.0,853.38 196.5,853.29 197.0,853.21 197.5,853.12 198.0,853.04 198.5,852.96 199.0,852.88 199.5,852.81 200.0,852.73 200.5,852.66 201.0,852.59 201.5,852.52 202.0,852.45 202.5,852.38 203.0,852.32 203.5,852.25 204.0,852.19 204.5,852.12 205.0,852.06 205.5,851.99 206.0,851.93 206.5,851.86 207.0,851.79 207.5,851.73 208.0,851.66 208.5,851.59 209.0,851.52 209.5,851.45 210.0,851.37 210.5,851.30 211.0,851.22 211.5,851.14 212.0,851.06 212.5,850.98 213.0,850.89 213.5,850.80 214.0,850.70 214.5,850.61 215.0,850.51 215.5,850.40 216.0,850.29 216.5,850.18 217.0,850.07 217.5,849.95 218.0,849.82 218.5,849.69 219.0,849.56 219.5,849.42 220.0,849.28 220.5,849.13 221.0,848.97 221.5,848.82 222.0,848.65 222.5,848.48 223.0,848.31 223.5,848.13 224.0,847.94 224.5,847.75 225.0,847.55 225.5,847.34 226.0,847.13 226.5,846.92 227.0,846.69 227.5,846.46 228.0,846.22 228.5,845.98 229.0,845.73 229.5,845.47 230.0,845.21 230.5,844.93 231.0,844.65 231.5,844.37 232.0,844.07 232.5,843.77 233.0,843.46 233.5,843.14 234.0,842.81 234.5,842.47 235.0,842.12 235.5,841.77 236.0,841.41 236.5,841.03 237.0,840.65 237.5,840.25 238.0,839.85 238.5,839.44 239.0,839.01 239.5,838.58 240.0,838.13 240.5,837.68 241.0,837.21 241.5,836.73 242.0,836.24 242.5,835.74 243.0,835.23 243.5,834.70 244.0,834.17 244.5,833.62 245.0,833.06 245.5,832.48 246.0,831.90 246.5,831.30 247.0,830.69 247.5,830.07 248.0,829.44 248.5,828.79 249.0,828.14 249.5,827.47 250.0,826.79 250.5,826.09 251.0,825.39 251.5,824.68 252.0,823.95 252.5,823.22 253.0,822.47 253.5,821.72 254.0,820.95 254.5,820.18 255.0,819.40 255.5,818.61 256.0,817.81 256.5,817.01 257.0,816.19 257.5,815.38 258.0,814.55 258.5,813.72 259.0,812.89 259.5,812.05 260.0,811.21 260.5,810.37 261.0,809.53 261.5,808.68 262.0,807.83 262.5,806.98 263.0,806.14 263.5,805.29 264.0,804.44 264.5,803.60 265.0,802.76 265.5,801.93 266.0,801.09 266.5,800.27 267.0,799.44 267.5,798.63 268.0,797.82 268.5,797.01 269.0,796.22 269.5,795.43 270.0,794.65 270.5,793.88 271.0,793.11 271.5,792.36 272.0,791.62 272.5,790.88 273.0,790.16 273.5,789.44 274.0,788.74 274.5,788.04 275.0,787.36 275.5,786.69 276.0,786.02 276.5,785.37 277.0,784.73 277.5,784.10 278.0,783.48 278.5,782.86 279.0,782.26 279.5,781.67 280.0,781.08 280.5,780.50 281.0,779.93 281.5,779.37 282.0,778.81 282.5,778.26 283.0,777.72 283.5,777.17 284.0,776.64 284.5,776.10 285.0,775.57 285.5,775.04 286.0,774.51 286.5,773.98 287.0,773.44 287.5,772.91 288.0,772.37 288.5,771.83 289.0,771.28 289.5,770.73 290.0,770.17 290.5,769.60 291.0,769.02 291.5,768.43 292.0,767.83 292.5,767.22 293.0,766.59 293.5,765.95 294.0,765.30 294.5,764.62 295.0,763.93 295.5,763.23 296.0,762.50 296.5,761.76 297.0,760.99 297.5,760.20 298.0,759.40 298.5,758.57 299.0,757.71 299.5,756.84 300.0,755.93 300.5,755.01 301.0,754.06 301.5,753.09 302.0,752.09 302.5,751.07 303.0,750.02 303.5,748.95 304.0,747.85 304.5,746.73 305.0,745.59 305.5,744.42 306.0,743.23 306.5,742.02 307.0,740.78 307.5,739.53 308.0,738.26 308.5,736.97 309.0,735.66 309.5,734.33 310.0,732.99 310.5,731.64 311.0,730.28 311.5,728.90 312.0,727.52 312.5,726.13 313.0,724.73 313.5,723.33 314.0,721.93 314.5,720.53 315.0,719.13 315.5,717.74 316.0,716.36 316.5,714.98 317.0,713.61 317.5,712.26 318.0,710.92 318.5,709.61 319.0,708.31 319.5,707.03 320.0,705.78 320.5,704.56 321.0,703.37 321.5,702.21 322.0,701.08 322.5,699.99 323.0,698.93 323.5,697.92 324.0,696.95 324.5,696.02 325.0,695.14 325.5,694.31 326.0,693.52 326.5,692.79 327.0,692.11 327.5,691.48 328.0,690.90 328.5,690.38 329.0,689.91 329.5,689.50 330.0,689.15 330.5,688.85 331.0,688.61 331.5,688.43 332.0,688.30 332.5,688.23 333.0,688.21 333.5,688.24 334.0,688.33 334.5,688.47 335.0,688.65 335.5,688.88 336.0,689.16 336.5,689.47 337.0,689.83 337.5,690.22 338.0,690.64 338.5,691.10 339.0,691.58 339.5,692.08 340.0,692.60 340.5,693.13 341.0,693.67 341.5,694.22 342.0,694.76 342.5,695.31 343.0,695.84 343.5,696.36 344.0,696.86 344.5,697.33 345.0,697.78 345.5,698.19 346.0,698.56 346.5,698.89 347.0,699.18 347.5,699.40 348.0,699.57 348.5,699.68 349.0,699.73 349.5,699.70 350.0,699.60 350.5,699.43 351.0,699.17 351.5,698.84 352.0,698.42 352.5,697.92 353.0,697.33 353.5,696.65 354.0,695.89 354.5,695.04 355.0,694.11 355.5,693.09 356.0,691.99 356.5,690.80 357.0,689.54 357.5,688.21 358.0,686.80 358.5,685.33 359.0,683.80 359.5,682.22 360.0,680.58 360.5,678.90 361.0,677.18 361.5,675.44 362.0,673.67 362.5,671.88 363.0,670.09 363.5,668.30 364.0,666.51 364.5,664.75 365.0,663.00 365.5,661.29 366.0,659.63 366.5,658.01 367.0,656.45 367.5,654.95 368.0,653.52 368.5,652.18 369.0,650.92 369.5,649.75 370.0,648.68 370.5,647.71 371.0,646.85 371.5,646.11 372.0,645.47 372.5,644.96 373.0,644.57 373.5,644.30 374.0,644.15 374.5,644.13 375.0,644.23 375.5,644.45 376.0,644.80 376.5,645.26 377.0,645.84 377.5,646.53 378.0,647.33 378.5,648.24 379.0,649.24 379.5,650.33 380.0,651.52 380.5,652.78 381.0,654.12 381.5,655.53 382.0,656.99 382.5,658.51 383.0,660.08 383.5,661.68 384.0,663.31 384.5,664.97 385.0,666.65 385.5,668.33 386.0,670.01 386.5,671.69 387.0,673.36 387.5,675.02 388.0,676.64 388.5,678.24 389.0,679.81 389.5,681.34 390.0,682.83 390.5,684.27 391.0,685.66 391.5,686.99 392.0,688.28 392.5,689.51 393.0,690.68 393.5,691.79 394.0,692.85 394.5,693.84 395.0,694.78 395.5,695.67 396.0,696.49 396.5,697.27 397.0,697.99 397.5,698.67 398.0,699.30 398.5,699.89 399.0,700.44 399.5,700.96 400.0,701.44 400.5,701.90 401.0,702.33 401.5,702.75 402.0,703.14 402.5,703.53 403.0,703.92 403.5,704.30 404.0,704.68 404.5,705.07 405.0,705.46 405.5,705.88 406.0,706.30 406.5,706.75 407.0,707.23 407.5,707.73 408.0,708.26 408.5,708.82 409.0,709.42 409.5,710.06 410.0,710.73 410.5,711.45 411.0,712.20 411.5,713.01 412.0,713.85 412.5,714.74 413.0,715.67 413.5,716.65 414.0,717.67 414.5,718.74 415.0,719.85 415.5,721.00 416.0,722.19 416.5,723.43 417.0,724.70 417.5,726.01 418.0,727.35 418.5,728.73 419.0,730.13 419.5,731.57 420.0,733.03 420.5,734.52 421.0,736.02 421.5,737.55 422.0,739.09 422.5,740.65 423.0,742.21 423.5,743.79 424.0,745.37 424.5,746.95 425.0,748.54 425.5,750.12 426.0,751.70 426.5,753.27 427.0,754.83 427.5,756.38 428.0,757.92 428.5,759.44 429.0,760.95 429.5,762.44 430.0,763.91 430.5,765.35 431.0,766.78 431.5,768.18 432.0,769.56 432.5,770.91 433.0,772.23 433.5,773.53 434.0,774.81 434.5,776.05 435.0,777.27 435.5,778.47 436.0,779.63 436.5,780.78 437.0,781.89 437.5,782.99 438.0,784.06 438.5,785.10 439.0,786.13 439.5,787.13 440.0,788.12 440.5,789.09 441.0,790.04 441.5,790.98 442.0,791.90 442.5,792.82 443.0,793.72 443.5,794.62 444.0,795.51 444.5,796.39 445.0,797.27 445.5,798.15 446.0,799.04 446.5,799.92 447.0,800.80 447.5,801.70 448.0,802.60 448.5,803.50 449.0,804.42 449.5,805.35 450.0,806.29 450.5,807.24 451.0,808.21 451.5,809.19 452.0,810.19 452.5,811.20 453.0,812.24 453.5,813.29 454.0,814.36 454.5,815.45 455.0,816.56 455.5,817.69 456.0,818.83 456.5,820.00 457.0,821.18 457.5,822.39 458.0,823.61 458.5,824.85 459.0,826.11 459.5,827.38 460.0,828.67 460.5,829.97 461.0,831.29 461.5,832.62 462.0,833.96 462.5,835.31 463.0,836.67 463.5,838.04 464.0,839.42 464.5,840.80 465.0,842.18 465.5,843.57 466.0,844.95 466.5,846.34 467.0,847.73 467.5,849.11 468.0,850.49 468.5,851.86 469.0,853.22 469.5,854.58 470.0,855.93 470.5,857.26 471.0,858.58 471.5,859.89 472.0,861.18 472.5,862.46 473.0,863.71 473.5,864.95 474.0,866.18 474.5,867.38 475.0,868.56 475.5,869.71 476.0,870.85 476.5,871.96 477.0,873.05 477.5,874.11 478.0,875.15 478.5,876.16 479.0,877.15 479.5,878.11 480.0,879.04 480.5,879.95 481.0,880.83 481.5,881.69 482.0,882.52 482.5,883.32 483.0,884.09 483.5,884.84 484.0,885.57 484.5,886.26 485.0,886.94 485.5,887.58 486.0,888.21 486.5,888.80 487.0,889.38 487.5,889.93 488.0,890.45 488.5,890.96 489.0,891.44 489.5,891.90 490.0,892.34 490.5,892.76 491.0,893.16 491.5,893.54 492.0,893.90 492.5,894.25 493.0,894.58 493.5,894.88 494.0,895.18 494.5,895.46 495.0,895.72 495.5,895.97 496.0,896.20 496.5,896.42 497.0,896.63 497.5,896.83 498.0,897.02 498.5,897.19 499.0,897.35 499.5,897.51 500.0,897.65 500.5,897.78 501.0,897.91 501.5,898.03 502.0,898.14 502.5,898.24 503.0,898.34 503.5,898.43 504.0,898.51 504.5,898.59 505.0,898.66 505.5,898.73 506.0,898.79 506.5,898.85 507.0,898.90 507.5,898.95 508.0,899.00 508.5,899.04 509.0,899.08 509.5,899.11 510.0,899.15 510.5,899.18 511.0,899.21 511.5,899.23 512.0,899.26 512.5,899.28 513.0,899.30 513.5,899.32 514.0,899.33 514.5,899.35 515.0,899.36 515.5,899.38 516.0,899.39 516.5,899.40 517.0,899.41 517.5,899.42 518.0,899.43 518.5,899.43 519.0,899.44 519.5,899.45 520.0,899.45 520.5,899.46 521.0,899.46 521.5,899.46 522.0,899.47 522.5,899.47 523.0,899.47 523.5,899.48 524.0,899.48 524.5,899.48 525.0,899.48 525.5,899.49 526.0,899.49 526.5,899.49 527.0,899.49 527.5,899.49 528.0,899.49 528.5,899.49 529.0,899.49" fill="none" stroke="#8000ff" stroke-width="1.5"/>
</g>
<g clip-path="url(#cb2)">
<path d="M54,1219.8 L54.0,1219.80 L55.0,1219.80 L56.0,1219.80 L57.0,1219.80 L58.0,1219.80 L59.0,1219.80 L60.0,1219.80 L61.0,1219.80 L62.0,1219.80 L63.0,1219.80 L64.0,1219.80 L65.0,1219.80 L66.0,1219.80 L67.0,1219.80 L68.0,1219.80 L69.0,1219.80 L70.0,1219.80 L71.0,1219.80 L72.0,1219.80 L73.0,1219.80 L74.0,1219.80 L75.0,1219.80 L76.0,1219.80 L77.0,1219.80 L78.0,1219.80 L79.0,1219.80 L80.0,1219.80 L81.0,1219.80 L82.0,1219.80 L83.0,1219.80 L84.0,1219.80 L85.0,1219.80 L86.0,1219.80 L87.0,1219.80 L88.0,1219.80 L89.0,1219.80 L90.0,1219.80 L91.0,1219.80 L92.0,1219.80 L93.0,1219.80 L94.0,1219.80 L95.0,1219.80 L96.0,1219.80 L97.0,1219.80 L98.0,1219.80 L99.0,1219.80 L100.0,1219.80 L101.0,1219.80 L102.0,1219.80 L103.0,1219.80 L104.0,1219.80 L105.0,1219.80 L106.0,1219.80 L107.0,1219.80 L108.0,1219.80 L109.0,1219.80 L110.0,1219.80 L111.0,1219.80 L112.0,1219.80 L113.0,1219.80 L114.0,1219.80 L115.0,1219.80 L116.0,1219.80 L117.0,1219.80 L118.0,1219.80 L119.0,1219.80 L120.0,1219.80 L121.0,1219.80 L122.0,1219.80 L123.0,1219.80 L124.0,1219.80 L125.0,1219.80 L126.0,1219.80 L127.0,1219.80 L128.0,1219.80 L129.0,1219.80 L130.0,1219.80 L131.0,1219.80 L132.0,1219.80 L133.0,1219.80 L134.0,1219.80 L135.0,1219.80 L136.0,1219.80 L137.0,1219.80 L138.0,1219.80 L139.0,1219.80 L140.0,1219.80 L141.0,1219.80 L142.0,1219.80 L143.0,1219.80 L144.0,1219.80 L145.0,1219.80 L146.0,1219.80 L147.0,1219.80 L148.0,1219.80 L149.0,1219.80 L150.0,1219.80 L151.0,1219.80 L152.0,1219.80 L153.0,1219.80 L154.0,1219.80 L155.0,1219.80 L156.0,1219.80 L157.0,1219.80 L158.0,1219.80 L159.0,1219.80 L160.0,1219.80 L161.0,1219.80 L162.0,1219.80 L163.0,1219.80 L164.0,1219.80 L165.0,1219.80 L166.0,1219.80 L167.0,1219.80 L168.0,1219.80 L169.0,1219.80 L170.0,1219.80 L171.0,1219.80 L172.0,1219.80 L173.0,1219.80 L174.0,1219.80 L175.0,1219.80 L176.0,1219.80 L177.0,1219.80 L178.0,1219.80 L179.0,1219.80 L180.0,1219.80 L181.0,1219.80 L182.0,1219.80 L183.0,1219.80 L184.0,1219.80 L185.0,1219.80 L186.0,1219.80 L187.0,1219.80 L188.0,1219.80 L189.0,1219.80 L190.0,1219.80 L191.0,1219.80 L192.0,1219.80 L193.0,1219.80 L194.0,1219.80 L195.0,1219.80 L196.0,1219.80 L197.0,1219.80 L198.0,1219.80 L199.0,1219.80 L200.0,1219.80 L201.0,1219.80 L202.0,1219.80 L203.0,1219.80 L204.0,1219.80 L205.0,1219.80 L206.0,1219.80 L207.0,1219.80 L208.0,1219.80 L209.0,1219.80 L210.0,1219.80 L211.0,1219.80 L212.0,1219.80 L213.0,1219.80 L214.0,1219.80 L215.0,1219.80 L216.0,1219.80 L217.0,1219.80 L218.0,1219.80 L219.0,1219.80 L220.0,1219.80 L221.0,1219.80 L222.0,1219.80 L223.0,1219.80 L224.0,1219.80 L225.0,1219.80 L226.0,1219.80 L227.0,1219.80 L228.0,1219.80 L229.0,1219.80 L230.0,1219.80 L231.0,1219.80 L232.0,1219.80 L233.0,1219.80 L234.0,1219.80 L235.0,1219.80 L236.0,1219.80 L237.0,1219.80 L238.0,1219.80 L239.0,1219.80 L240.0,1219.80 L241.0,1219.80 L242.0,1219.80 L243.0,1219.80 L244.0,1219.80 L245.0,1219.80 L246.0,1219.80 L247.0,1219.80 L248.0,1219.80 L249.0,1219.80 L250.0,1219.80 L251.0,1219.80 L252.0,1219.80 L253.0,1219.80 L254.0,1219.80 L255.0,1219.80 L256.0,1219.80 L257.0,1219.80 L258.0,1219.80 L259.0,1219.80 L260.0,1219.80 L261.0,1219.80 L262.0,1219.80 L263.0,1219.80 L264.0,1219.80 L265.0,1219.80 L266.0,1219.80 L267.0,1219.80 L268.0,1219.80 L269.0,1219.80 L270.0,1219.80 L271.0,1219.80 L272.0,1219.80 L273.0,1219.80 L274.0,1219.80 L275.0,1219.80 L276.0,1219.80 L277.0,1219.80 L278.0,1219.80 L279.0,1219.80 L280.0,1219.80 L281.0,1219.80 L282.0,1219.80 L283.0,1219.80 L284.0,1219.80 L285.0,1219.80 L286.0,1219.80 L287.0,1219.80 L288.0,1219.80 L289.0,1219.80 L290.0,1219.80 L291.0,1219.80 L292.0,1219.80 L293.0,1219.80 L294.0,1219.80 L295.0,1219.80 L296.0,1219.80 L297.0,1219.80 L298.0,1219.80 L299.0,1219.80 L300.0,1219.80 L301.0,1219.80 L302.0,1219.80 L303.0,1219.80 L304.0,1219.80 L305.0,1219.80 L306.0,1219.80 L307.0,1219.80 L308.0,1219.80 L309.0,1219.80 L310.0,1219.80 L311.0,1219.80 L312.0,1219.80 L313.0,1219.80 L314.0,1219.80 L315.0,1219.80 L316.0,1219.80 L317.0,1219.80 L318.0,1219.80 L319.0,1219.80 L320.0,1219.80 L321.0,1219.80 L322.0,1219.80 L323.0,1219.80 L324.0,1219.80 L325.0,1219.80 L326.0,1219.80 L327.0,1219.80 L328.0,1219.80 L329.0,1219.80 L330.0,1219.80 L331.0,1219.80 L332.0,1219.80 L333.0,1219.80 L334.0,1219.80 L335.0,1219.80 L336.0,1219.80 L337.0,1219.80 L338.0,1219.80 L339.0,1219.80 L340.0,1219.80 L341.0,1219.80 L342.0,1219.80 L343.0,1219.80 L344.0,1219.80 L345.0,1219.80 L346.0,1219.80 L347.0,1219.80 L348.0,1219.80 L349.0,1219.80 L350.0,1219.80 L351.0,1219.80 L352.0,1219.80 L353.0,1219.80 L354.0,1219.80 L355.0,1219.80 L356.0,1219.80 L357.0,1219.80 L358.0,1219.80 L359.0,1219.80 L360.0,1219.80 L361.0,1219.80 L362.0,1219.80 L363.0,1219.80 L364.0,1219.80 L365.0,1219.80 L366.0,1219.80 L367.0,1219.80 L368.0,1219.80 L369.0,1219.80 L370.0,1219.80 L371.0,1219.80 L372.0,1219.80 L373.0,1219.80 L374.0,1219.80 L375.0,1219.80 L376.0,1219.80 L377.0,1219.80 L378.0,1219.80 L379.0,1219.80 L380.0,1219.80 L381.0,1219.80 L382.0,1219.80 L383.0,1219.80 L384.0,1219.80 L385.0,1219.80 L386.0,1219.80 L387.0,1219.80 L388.0,1219.80 L389.0,1219.80 L390.0,1219.80 L391.0,1219.80 L392.0,1219.80 L393.0,1219.80 L394.0,1219.80 L395.0,1219.80 L396.0,1219.80 L397.0,1219.80 L398.0,1219.80 L399.0,1219.80 L400.0,1219.80 L401.0,1219.80 L402.0,1219.80 L403.0,1219.80 L404.0,1219.80 L405.0,1219.80 L406.0,1219.79 L407.0,1219.79 L408.0,1219.79 L409.0,1219.79 L410.0,1219.78 L411.0,1219.77 L412.0,1219.77 L413.0,1219.76 L414.0,1219.74 L415.0,1219.73 L416.0,1219.71 L417.0,1219.69 L418.0,1219.66 L419.0,1219.62 L420.0,1219.57 L421.0,1219.52 L422.0,1219.45 L423.0,1219.37 L424.0,1219.27 L425.0,1219.15 L426.0,1219.01 L427.0,1218.84 L428.0,1218.64 L429.0,1218.40 L430.0,1218.13 L431.0,1217.81 L432.0,1217.44 L433.0,1217.01 L434.0,1216.52 L435.0,1215.95 L436.0,1215.32 L437.0,1214.60 L438.0,1213.79 L439.0,1212.89 L440.0,1211.88 L441.0,1210.77 L442.0,1209.55 L443.0,1208.22 L444.0,1206.78 L445.0,1205.21 L446.0,1203.53 L447.0,1201.74 L448.0,1199.85 L449.0,1197.84 L450.0,1195.75 L451.0,1193.57 L452.0,1191.32 L453.0,1189.02 L454.0,1186.68 L455.0,1184.32 L456.0,1181.96 L457.0,1179.62 L458.0,1177.32 L459.0,1175.09 L460.0,1172.96 L461.0,1170.94 L462.0,1169.06 L463.0,1167.34 L464.0,1165.80 L465.0,1164.46 L466.0,1163.34 L467.0,1162.46 L468.0,1161.82 L469.0,1161.43 L470.0,1161.30 L471.0,1161.43 L472.0,1161.82 L473.0,1162.46 L474.0,1163.34 L475.0,1164.46 L476.0,1165.80 L477.0,1167.34 L478.0,1169.06 L479.0,1170.94 L480.0,1172.96 L481.0,1175.09 L482.0,1177.32 L483.0,1179.62 L484.0,1181.96 L485.0,1184.32 L486.0,1186.68 L487.0,1189.02 L488.0,1191.32 L489.0,1193.57 L490.0,1195.75 L491.0,1197.84 L492.0,1199.85 L493.0,1201.74 L494.0,1203.53 L495.0,1205.21 L496.0,1206.78 L497.0,1208.22 L498.0,1209.55 L499.0,1210.77 L500.0,1211.88 L501.0,1212.89 L502.0,1213.79 L503.0,1214.60 L504.0,1215.32 L505.0,1215.95 L506.0,1216.52 L507.0,1217.01 L508.0,1217.44 L509.0,1217.81 L510.0,1218.13 L511.0,1218.40 L512.0,1218.64 L513.0,1218.84 L514.0,1219.01 L515.0,1219.15 L516.0,1219.27 L517.0,1219.37 L518.0,1219.45 L519.0,1219.52 L520.0,1219.57 L521.0,1219.62 L522.0,1219.66 L523.0,1219.69 L524.0,1219.71 L525.0,1219.73 L526.0,1219.74 L527.0,1219.76 L528.0,1219.77 L529.0,1219.77 L529,1219.8 Z" fill="#ff0000"/>
<path d="M54,1219.8 L54.0,1219.80 L55.0,1219.80 L56.0,1219.80 L57.0,1219.80 L58.0,1219.80 L59.0,1219.80 L60.0,1219.80 L61.0,1219.80 L62.0,1219.80 L63.0,1219.80 L64.0,1219.80 L65.0,1219.80 L66.0,1219.80 L67.0,1219.80 L68.0,1219.80 L69.0,1219.80 L70.0,1219.80 L71.0,1219.80 L72.0,1219.80 L73.0,1219.80 L74.0,1219.80 L75.0,1219.80 L76.0,1219.80 L77.0,1219.80 L78.0,1219.80 L79.0,1219.80 L80.0,1219.80 L81.0,1219.80 L82.0,1219.80 L83.0,1219.80 L84.0,1219.80 L85.0,1219.80 L86.0,1219.80 L87.0,1219.80 L88.0,1219.80 L89.0,1219.80 L90.0,1219.80 L91.0,1219.80 L92.0,1219.80 L93.0,1219.80 L94.0,1219.80 L95.0,1219.80 L96.0,1219.80 L97.0,1219.80 L98.0,1219.80 L99.0,1219.80 L100.0,1219.80 L101.0,1219.80 L102.0,1219.80 L103.0,1219.80 L104.0,1219.80 L105.0,1219.80 L106.0,1219.80 L107.0,1219.80 L108.0,1219.80 L109.0,1219.80 L110.0,1219.80 L111.0,1219.80 L112.0,1219.80 L113.0,1219.80 L114.0,1219.80 L115.0,1219.80 L116.0,1219.80 L117.0,1219.80 L118.0,1219.80 L119.0,1219.80 L120.0,1219.80 L121.0,1219.80 L122.0,1219.80 L123.0,1219.80 L124.0,1219.80 L125.0,1219.80 L126.0,1219.80 L127.0,1219.80 L128.0,1219.80 L129.0,1219.80 L130.0,1219.80 L131.0,1219.80 L132.0,1219.80 L133.0,1219.80 L134.0,1219.80 L135.0,1219.80 L136.0,1219.80 L137.0,1219.80 L138.0,1219.80 L139.0,1219.80 L140.0,1219.80 L141.0,1219.80 L142.0,1219.80 L143.0,1219.80 L144.0,1219.80 L145.0,1219.80 L146.0,1219.80 L147.0,1219.80 L148.0,1219.80 L149.0,1219.80 L150.0,1219.80 L151.0,1219.80 L152.0,1219.80 L153.0,1219.80 L154.0,1219.80 L155.0,1219.80 L156.0,1219.80 L157.0,1219.80 L158.0,1219.80 L159.0,1219.80 L160.0,1219.80 L161.0,1219.80 L162.0,1219.80 L163.0,1219.80 L164.0,1219.80 L165.0,1219.80 L166.0,1219.80 L167.0,1219.80 L168.0,1219.80 L169.0,1219.80 L170.0,1219.80 L171.0,1219.80 L172.0,1219.80 L173.0,1219.80 L174.0,1219.80 L175.0,1219.80 L176.0,1219.80 L177.0,1219.80 L178.0,1219.80 L179.0,1219.80 L180.0,1219.80 L181.0,1219.80 L182.0,1219.80 L183.0,1219.80 L184.0,1219.80 L185.0,1219.80 L186.0,1219.80 L187.0,1219.80 L188.0,1219.80 L189.0,1219.80 L190.0,1219.80 L191.0,1219.80 L192.0,1219.80 L193.0,1219.80 L194.0,1219.80 L195.0,1219.80 L196.0,1219.80 L197.0,1219.80 L198.0,1219.80 L199.0,1219.80 L200.0,1219.80 L201.0,1219.80 L202.0,1219.80 L203.0,1219.80 L204.0,1219.80 L205.0,1219.80 L206.0,1219.80 L207.0,1219.80 L208.0,1219.80 L209.0,1219.80 L210.0,1219.80 L211.0,1219.80 L212.0,1219.80 L213.0,1219.80 L214.0,1219.80 L215.0,1219.80 L216.0,1219.80 L217.0,1219.80 L218.0,1219.80 L219.0,1219.80 L220.0,1219.80 L221.0,1219.80 L222.0,1219.80 L223.0,1219.80 L224.0,1219.80 L225.0,1219.80 L226.0,1219.80 L227.0,1219.80 L228.0,1219.80 L229.0,1219.80 L230.0,1219.80 L231.0,1219.80 L232.0,1219.80 L233.0,1219.80 L234.0,1219.80 L235.0,1219.80 L236.0,1219.80 L237.0,1219.80 L238.0,1219.80 L239.0,1219.80 L240.0,1219.80 L241.0,1219.80 L242.0,1219.80 L243.0,1219.80 L244.0,1219.80 L245.0,1219.80 L246.0,1219.80 L247.0,1219.80 L248.0,1219.80 L249.0,1219.80 L250.0,1219.80 L251.0,1219.80 L252.0,1219.80 L253.0,1219.80 L254.0,1219.80 L255.0,1219.80 L256.0,1219.80 L257.0,1219.80 L258.0,1219.80 L259.0,1219.80 L260.0,1219.80 L261.0,1219.80 L262.0,1219.80 L263.0,1219.80 L264.0,1219.80 L265.0,1219.80 L266.0,1219.80 L267.0,1219.80 L268.0,1219.80 L269.0,1219.80 L270.0,1219.80 L271.0,1219.80 L272.0,1219.80 L273.0,1219.80 L274.0,1219.80 L275.0,1219.80 L276.0,1219.80 L277.0,1219.80 L278.0,1219.80 L279.0,1219.80 L280.0,1219.80 L281.0,1219.80 L282.0,1219.80 L283.0,1219.80 L284.0,1219.80 L285.0,1219.80 L286.0,1219.80 L287.0,1219.80 L288.0,1219.80 L289.0,1219.80 L290.0,1219.80 L291.0,1219.80 L292.0,1219.80 L293.0,1219.80 L294.0,1219.80 L295.0,1219.80 L296.0,1219.80 L297.0,1219.80 L298.0,1219.80 L299.0,1219.80 L300.0,1219.80 L301.0,1219.80 L302.0,1219.80 L303.0,1219.80 L304.0,1219.80 L305.0,1219.80 L306.0,1219.80 L307.0,1219.80 L308.0,1219.80 L309.0,1219.80 L310.0,1219.80 L311.0,1219.80 L312.0,1219.80 L313.0,1219.80 L314.0,1219.80 L315.0,1219.80 L316.0,1219.80 L317.0,1219.80 L318.0,1219.80 L319.0,1219.80 L320.0,1219.80 L321.0,1219.80 L322.0,1219.80 L323.0,1219.80 L324.0,1219.80 L325.0,1219.80 L326.0,1219.80 L327.0,1219.80 L328.0,1219.80 L329.0,1219.80 L330.0,1219.80 L331.0,1219.80 L332.0,1219.80 L333.0,1219.80 L334.0,1219.79 L335.0,1219.79 L336.0,1219.79 L337.0,1219.79 L338.0,1219.79 L339.0,1219.79 L340.0,1219.78 L341.0,1219.78 L342.0,1219.78 L343.0,1219.77 L344.0,1219.76 L345.0,1219.76 L346.0,1219.75 L347.0,1219.74 L348.0,1219.73 L349.0,1219.71 L350.0,1219.69 L351.0,1219.67 L352.0,1219.65 L353.0,1219.62 L354.0,1219.59 L355.0,1219.56 L356.0,1219.51 L357.0,1219.46 L358.0,1219.40 L359.0,1219.34 L360.0,1219.26 L361.0,1219.17 L362.0,1219.07 L363.0,1218.95 L364.0,1218.82 L365.0,1218.67 L366.0,1218.50 L367.0,1218.30 L368.0,1218.08 L369.0,1217.83 L370.0,1217.55 L371.0,1217.23 L372.0,1216.88 L373.0,1216.48 L374.0,1216.04 L375.0,1215.55 L376.0,1215.00 L377.0,1214.39 L378.0,1213.72 L379.0,1212.98 L380.0,1212.17 L381.0,1211.27 L382.0,1210.29 L383.0,1209.22 L384.0,1208.06 L385.0,1206.79 L386.0,1205.42 L387.0,1203.93 L388.0,1202.32 L389.0,1200.60 L390.0,1198.74 L391.0,1196.76 L392.0,1194.64 L393.0,1192.38 L394.0,1189.98 L395.0,1187.44 L396.0,1184.75 L397.0,1181.92 L398.0,1178.95 L399.0,1175.83 L400.0,1172.57 L401.0,1169.18 L402.0,1165.65 L403.0,1162.00 L404.0,1158.22 L405.0,1154.34 L406.0,1150.36 L407.0,1146.28 L408.0,1142.13 L409.0,1137.91 L410.0,1133.64 L411.0,1129.33 L412.0,1125.01 L413.0,1120.68 L414.0,1116.37 L415.0,1112.10 L416.0,1107.88 L417.0,1103.73 L418.0,1099.68 L419.0,1095.75 L420.0,1091.95 L421.0,1088.31 L422.0,1084.84 L423.0,1081.56 L424.0,1078.50 L425.0,1075.67 L426.0,1073.09 L427.0,1070.77 L428.0,1068.72 L429.0,1066.96 L430.0,1065.50 L431.0,1064.35 L432.0,1063.51 L433.0,1063.00 L434.0,1062.80 L435.0,1062.91 L436.0,1063.30 L437.0,1063.97 L438.0,1064.91 L439.0,1066.12 L440.0,1067.59 L441.0,1069.31 L442.0,1071.28 L443.0,1073.49 L444.0,1075.92 L445.0,1078.56 L446.0,1081.39 L447.0,1084.42 L448.0,1087.61 L449.0,1090.95 L450.0,1094.44 L451.0,1098.05 L452.0,1101.76 L453.0,1105.56 L454.0,1109.44 L455.0,1113.38 L456.0,1117.36 L457.0,1121.36 L458.0,1125.38 L459.0,1129.39 L460.0,1133.39 L461.0,1137.36 L462.0,1141.28 L463.0,1145.15 L464.0,1148.96 L465.0,1152.69 L466.0,1156.34 L467.0,1159.90 L468.0,1163.36 L469.0,1166.71 L470.0,1169.95 L471.0,1173.08 L472.0,1176.09 L473.0,1178.98 L474.0,1181.74 L475.0,1184.38 L476.0,1186.90 L477.0,1189.29 L478.0,1191.56 L479.0,1193.71 L480.0,1195.73 L481.0,1197.64 L482.0,1199.43 L483.0,1201.12 L484.0,1202.69 L485.0,1204.16 L486.0,1205.53 L487.0,1206.80 L488.0,1207.98 L489.0,1209.07 L490.0,1210.08 L491.0,1211.00 L492.0,1211.86 L493.0,1212.64 L494.0,1213.36 L495.0,1214.02 L496.0,1214.62 L497.0,1215.16 L498.0,1215.66 L499.0,1216.11 L500.0,1216.51 L501.0,1216.88 L502.0,1217.21 L503.0,1217.51 L504.0,1217.77 L505.0,1218.01 L506.0,1218.22 L507.0,1218.42 L508.0,1218.58 L509.0,1218.74 L510.0,1218.87 L511.0,1218.99 L512.0,1219.09 L513.0,1219.18 L514.0,1219.27 L515.0,1219.34 L516.0,1219.40 L517.0,1219.45 L518.0,1219.50 L519.0,1219.54 L520.0,1219.58 L521.0,1219.61 L522.0,1219.64 L523.0,1219.66 L524.0,1219.68 L525.0,1219.70 L526.0,1219.71 L527.0,1219.73 L528.0,1219.74 L529.0,1219.75 L529,1219.8 Z" fill="#008000"/>
<path d="M54,1219.8 L54.0,1219.80 L55.0,1219.80 L56.0,1219.80 L57.0,1219.80 L58.0,1219.80 L59.0,1219.80 L60.0,1219.80 L61.0,1219.80 L62.0,1219.80 L63.0,1219.80 L64.0,1219.80 L65.0,1219.80 L66.0,1219.80 L67.0,1219.80 L68.0,1219.80 L69.0,1219.80 L70.0,1219.80 L71.0,1219.80 L72.0,1219.80 L73.0,1219.80 L74.0,1219.80 L75.0,1219.80 L76.0,1219.80 L77.0,1219.80 L78.0,1219.80 L79.0,1219.80 L80.0,1219.80 L81.0,1219.80 L82.0,1219.80 L83.0,1219.80 L84.0,1219.80 L85.0,1219.80 L86.0,1219.80 L87.0,1219.80 L88.0,1219.80 L89.0,1219.80 L90.0,1219.80 L91.0,1219.80 L92.0,1219.80 L93.0,1219.80 L94.0,1219.80 L95.0,1219.80 L96.0,1219.80 L97.0,1219.80 L98.0,1219.80 L99.0,1219.80 L100.0,1219.80 L101.0,1219.80 L102.0,1219.80 L103.0,1219.80 L104.0,1219.80 L105.0,1219.80 L106.0,1219.80 L107.0,1219.80 L108.0,1219.80 L109.0,1219.80 L110.0,1219.80 L111.0,1219.80 L112.0,1219.80 L113.0,1219.80 L114.0,1219.80 L115.0,1219.80 L116.0,1219.80 L117.0,1219.80 L118.0,1219.80 L119.0,1219.80 L120.0,1219.80 L121.0,1219.80 L122.0,1219.80 L123.0,1219.80 L124.0,1219.80 L125.0,1219.80 L126.0,1219.80 L127.0,1219.80 L128.0,1219.80 L129.0,1219.80 L130.0,1219.80 L131.0,1219.80 L132.0,1219.80 L133.0,1219.80 L134.0,1219.80 L135.0,1219.80 L136.0,1219.80 L137.0,1219.80 L138.0,1219.80 L139.0,1219.80 L140.0,1219.80 L141.0,1219.80 L142.0,1219.80 L143.0,1219.80 L144.0,1219.80 L145.0,1219.80 L146.0,1219.80 L147.0,1219.80 L148.0,1219.80 L149.0,1219.80 L150.0,1219.80 L151.0,1219.80 L152.0,1219.80 L153.0,1219.80 L154.0,1219.80 L155.0,1219.80 L156.0,1219.80 L157.0,1219.80 L158.0,1219.80 L159.0,1219.80 L160.0,1219.80 L161.0,1219.80 L162.0,1219.80 L163.0,1219.80 L164.0,1219.80 L165.0,1219.80 L166.0,1219.80 L167.0,1219.80 L168.0,1219.80 L169.0,1219.80 L170.0,1219.80 L171.0,1219.80 L172.0,1219.80 L173.0,1219.80 L174.0,1219.80 L175.0,1219.80 L176.0,1219.80 L177.0,1219.80 L178.0,1219.80 L179.0,1219.80 L180.0,1219.80 L181.0,1219.80 L182.0,1219.80 L183.0,1219.80 L184.0,1219.80 L185.0,1219.80 L186.0,1219.80 L187.0,1219.80 L188.0,1219.80 L189.0,1219.80 L190.0,1219.80 L191.0,1219.80 L192.0,1219.80 L193.0,1219.80 L194.0,1219.80 L195.0,1219.80 L196.0,1219.80 L197.0,1219.80 L198.0,1219.80 L199.0,1219.80 L200.0,1219.80 L201.0,1219.80 L202.0,1219.80 L203.0,1219.80 L204.0,1219.80 L205.0,1219.80 L206.0,1219.80 L207.0,1219.80 L208.0,1219.80 L209.0,1219.80 L210.0,1219.80 L211.0,1219.80 L212.0,1219.80 L213.0,1219.80 L214.0,1219.80 L215.0,1219.80 L216.0,1219.80 L217.0,1219.80 L218.0,1219.80 L219.0,1219.80 L220.0,1219.80 L221.0,1219.80 L222.0,1219.80 L223.0,1219.80 L224.0,1219.80 L225.0,1219.80 L226.0,1219.80 L227.0,1219.80 L228.0,1219.80 L229.0,1219.80 L230.0,1219.80 L231.0,1219.80 L232.0,1219.80 L233.0,1219.80 L234.0,1219.80 L235.0,1219.80 L236.0,1219.80 L237.0,1219.80 L238.0,1219.80 L239.0,1219.80 L240.0,1219.80 L241.0,1219.80 L242.0,1219.80 L243.0,1219.80 L244.0,1219.80 L245.0,1219.80 L246.0,1219.80 L247.0,1219.80 L248.0,1219.80 L249.0,1219.80 L250.0,1219.80 L251.0,1219.80 L252.0,1219.80 L253.0,1219.80 L254.0,1219.80 L255.0,1219.80 L256.0,1219.80 L257.0,1219.80 L258.0,1219.80 L259.0,1219.80 L260.0,1219.80 L261.0,1219.79 L262.0,1219.79 L263.0,1219.79 L264.0,1219.79 L265.0,1219.79 L266.0,1219.79 L267.0,1219.78 L268.0,1219.78 L269.0,1219.78 L270.0,1219.77 L271.0,1219.77 L272.0,1219.76 L273.0,1219.76 L274.0,1219.75 L275.0,1219.74 L276.0,1219.73 L277.0,1219.72 L278.0,1219.71 L279.0,1219.69 L280.0,1219.68 L281.0,1219.66 L282.0,1219.63 L283.0,1219.61 L284.0,1219.58 L285.0,1219.54 L286.0,1219.50 L287.0,1219.46 L288.0,1219.41 L289.0,1219.35 L290.0,1219.29 L291.0,1219.21 L292.0,1219.13 L293.0,1219.04 L294.0,1218.93 L295.0,1218.81 L296.0,1218.68 L297.0,1218.53 L298.0,1218.36 L299.0,1218.18 L300.0,1217.97 L301.0,1217.74 L302.0,1217.48 L303.0,1217.20 L304.0,1216.88 L305.0,1216.53 L306.0,1216.15 L307.0,1215.72 L308.0,1215.26 L309.0,1214.74 L310.0,1214.18 L311.0,1213.57 L312.0,1212.89 L313.0,1212.16 L314.0,1211.36 L315.0,1210.49 L316.0,1209.54 L317.0,1208.52 L318.0,1207.41 L319.0,1206.22 L320.0,1204.93 L321.0,1203.54 L322.0,1202.05 L323.0,1200.45 L324.0,1198.74 L325.0,1196.91 L326.0,1194.96 L327.0,1192.88 L328.0,1190.67 L329.0,1188.33 L330.0,1185.85 L331.0,1183.22 L332.0,1180.46 L333.0,1177.54 L334.0,1174.48 L335.0,1171.27 L336.0,1167.90 L337.0,1164.39 L338.0,1160.72 L339.0,1156.91 L340.0,1152.95 L341.0,1148.84 L342.0,1144.59 L343.0,1140.21 L344.0,1135.70 L345.0,1131.06 L346.0,1126.30 L347.0,1121.43 L348.0,1116.46 L349.0,1111.41 L350.0,1106.27 L351.0,1101.07 L352.0,1095.81 L353.0,1090.51 L354.0,1085.18 L355.0,1079.84 L356.0,1074.50 L357.0,1069.18 L358.0,1063.90 L359.0,1058.67 L360.0,1053.51 L361.0,1048.44 L362.0,1043.48 L363.0,1038.64 L364.0,1033.95 L365.0,1029.41 L366.0,1025.05 L367.0,1020.89 L368.0,1016.94 L369.0,1013.21 L370.0,1009.73 L371.0,1006.50 L372.0,1003.55 L373.0,1000.88 L374.0,998.50 L375.0,996.43 L376.0,994.67 L377.0,993.23 L378.0,992.12 L379.0,991.35 L380.0,990.91 L381.0,990.81 L382.0,991.01 L383.0,991.51 L384.0,992.29 L385.0,993.36 L386.0,994.72 L387.0,996.35 L388.0,998.25 L389.0,1000.41 L390.0,1002.83 L391.0,1005.50 L392.0,1008.41 L393.0,1011.54 L394.0,1014.88 L395.0,1018.43 L396.0,1022.17 L397.0,1026.09 L398.0,1030.17 L399.0,1034.41 L400.0,1038.78 L401.0,1043.27 L402.0,1047.87 L403.0,1052.56 L404.0,1057.34 L405.0,1062.17 L406.0,1067.06 L407.0,1071.99 L408.0,1076.94 L409.0,1081.90 L410.0,1086.85 L411.0,1091.80 L412.0,1096.71 L413.0,1101.59 L414.0,1106.42 L415.0,1111.19 L416.0,1115.89 L417.0,1120.52 L418.0,1125.06 L419.0,1129.50 L420.0,1133.85 L421.0,1138.10 L422.0,1142.23 L423.0,1146.25 L424.0,1150.15 L425.0,1153.92 L426.0,1157.57 L427.0,1161.10 L428.0,1164.49 L429.0,1167.76 L430.0,1170.89 L431.0,1173.90 L432.0,1176.77 L433.0,1179.52 L434.0,1182.14 L435.0,1184.63 L436.0,1187.00 L437.0,1189.25 L438.0,1191.38 L439.0,1193.40 L440.0,1195.30 L441.0,1197.10 L442.0,1198.79 L443.0,1200.38 L444.0,1201.87 L445.0,1203.27 L446.0,1204.58 L447.0,1205.80 L448.0,1206.95 L449.0,1208.01 L450.0,1209.00 L451.0,1209.92 L452.0,1210.77 L453.0,1211.56 L454.0,1212.29 L455.0,1212.96 L456.0,1213.58 L457.0,1214.16 L458.0,1214.68 L459.0,1215.16 L460.0,1215.61 L461.0,1216.01 L462.0,1216.38 L463.0,1216.72 L464.0,1217.03 L465.0,1217.31 L466.0,1217.57 L467.0,1217.80 L468.0,1218.01 L469.0,1218.20 L470.0,1218.37 L471.0,1218.52 L472.0,1218.66 L473.0,1218.79 L474.0,1218.90 L475.0,1219.00 L476.0,1219.09 L477.0,1219.17 L478.0,1219.25 L479.0,1219.31 L480.0,1219.37 L481.0,1219.42 L482.0,1219.47 L483.0,1219.51 L484.0,1219.54 L485.0,1219.57 L486.0,1219.60 L487.0,1219.63 L488.0,1219.65 L489.0,1219.67 L490.0,1219.69 L491.0,1219.70 L492.0,1219.71 L493.0,1219.73 L494.0,1219.74 L495.0,1219.74 L496.0,1219.75 L497.0,1219.76 L498.0,1219.76 L499.0,1219.77 L500.0,1219.77 L501.0,1219.78 L502.0,1219.78 L503.0,1219.78 L504.0,1219.79 L505.0,1219.79 L506.0,1219.79 L507.0,1219.79 L508.0,1219.79 L509.0,1219.79 L510.0,1219.79 L511.0,1219.80 L512.0,1219.80 L513.0,1219.80 L514.0,1219.80 L515.0,1219.80 L516.0,1219.80 L517.0,1219.80 L518.0,1219.80 L519.0,1219.80 L520.0,1219.80 L521.0,1219.80 L522.0,1219.80 L523.0,1219.80 L524.0,1219.80 L525.0,1219.80 L526.0,1219.80 L527.0,1219.80 L528.0,1219.80 L529.0,1219.80 L529,1219.8 Z" fill="#ff8000"/>
<path d="M54,1219.8 L54.0,1219.80 L55.0,1219.80 L56.0,1219.80 L57.0,1219.80 L58.0,1219.80 L59.0,1219.80 L60.0,1219.80 L61.0,1219.80 L62.0,1219.80 L63.0,1219.80 L64.0,1219.80 L65.0,1219.80 L66.0,1219.80 L67.0,1219.80 L68.0,1219.80 L69.0,1219.80 L70.0,1219.80 L71.0,1219.80 L72.0,1219.80 L73.0,1219.80 L74.0,1219.80 L75.0,1219.80 L76.0,1219.80 L77.0,1219.80 L78.0,1219.80 L79.0,1219.80 L80.0,1219.80 L81.0,1219.80 L82.0,1219.80 L83.0,1219.80 L84.0,1219.80 L85.0,1219.80 L86.0,1219.80 L87.0,1219.80 L88.0,1219.80 L89.0,1219.80 L90.0,1219.80 L91.0,1219.80 L92.0,1219.80 L93.0,1219.80 L94.0,1219.80 L95.0,1219.80 L96.0,1219.80 L97.0,1219.80 L98.0,1219.80 L99.0,1219.80 L100.0,1219.80 L101.0,1219.80 L102.0,1219.80 L103.0,1219.80 L104.0,1219.80 L105.0,1219.80 L106.0,1219.80 L107.0,1219.80 L108.0,1219.80 L109.0,1219.80 L110.0,1219.80 L111.0,1219.80 L112.0,1219.80 L113.0,1219.80 L114.0,1219.80 L115.0,1219.80 L116.0,1219.80 L117.0,1219.80 L118.0,1219.80 L119.0,1219.80 L120.0,1219.80 L121.0,1219.80 L122.0,1219.80 L123.0,1219.80 L124.0,1219.80 L125.0,1219.80 L126.0,1219.80 L127.0,1219.80 L128.0,1219.80 L129.0,1219.80 L130.0,1219.80 L131.0,1219.80 L132.0,1219.80 L133.0,1219.80 L134.0,1219.80 L135.0,1219.80 L136.0,1219.80 L137.0,1219.80 L138.0,1219.80 L139.0,1219.80 L140.0,1219.80 L141.0,1219.80 L142.0,1219.80 L143.0,1219.80 L144.0,1219.80 L145.0,1219.80 L146.0,1219.80 L147.0,1219.80 L148.0,1219.80 L149.0,1219.80 L150.0,1219.80 L151.0,1219.80 L152.0,1219.80 L153.0,1219.80 L154.0,1219.80 L155.0,1219.80 L156.0,1219.80 L157.0,1219.80 L158.0,1219.80 L159.0,1219.80 L160.0,1219.80 L161.0,1219.80 L162.0,1219.80 L163.0,1219.80 L164.0,1219.80 L165.0,1219.80 L166.0,1219.80 L167.0,1219.80 L168.0,1219.80 L169.0,1219.80 L170.0,1219.80 L171.0,1219.80 L172.0,1219.80 L173.0,1219.80 L174.0,1219.80 L175.0,1219.80 L176.0,1219.80 L177.0,1219.80 L178.0,1219.80 L179.0,1219.80 L180.0,1219.80 L181.0,1219.80 L182.0,1219.80 L183.0,1219.80 L184.0,1219.80 L185.0,1219.80 L186.0,1219.80 L187.0,1219.80 L188.0,1219.80 L189.0,1219.80 L190.0,1219.80 L191.0,1219.80 L192.0,1219.80 L193.0,1219.80 L194.0,1219.80 L195.0,1219.80 L196.0,1219.80 L197.0,1219.80 L198.0,1219.80 L199.0,1219.80 L200.0,1219.80 L201.0,1219.80 L202.0,1219.80 L203.0,1219.80 L204.0,1219.80 L205.0,1219.80 L206.0,1219.80 L207.0,1219.80 L208.0,1219.80 L209.0,1219.80 L210.0,1219.80 L211.0,1219.80 L212.0,1219.80 L213.0,1219.80 L214.0,1219.80 L215.0,1219.80 L216.0,1219.80 L217.0,1219.80 L218.0,1219.80 L219.0,1219.80 L220.0,1219.80 L221.0,1219.80 L222.0,1219.80 L223.0,1219.80 L224.0,1219.80 L225.0,1219.80 L226.0,1219.80 L227.0,1219.80 L228.0,1219.80 L229.0,1219.80 L230.0,1219.80 L231.0,1219.80 L232.0,1219.80 L233.0,1219.80 L234.0,1219.80 L235.0,1219.80 L236.0,1219.80 L237.0,1219.79 L238.0,1219.79 L239.0,1219.79 L240.0,1219.79 L241.0,1219.79 L242.0,1219.78 L243.0,1219.78 L244.0,1219.78 L245.0,1219.77 L246.0,1219.77 L247.0,1219.76 L248.0,1219.75 L249.0,1219.74 L250.0,1219.73 L251.0,1219.72 L252.0,1219.70 L253.0,1219.68 L254.0,1219.66 L255.0,1219.63 L256.0,1219.60 L257.0,1219.57 L258.0,1219.53 L259.0,1219.48 L260.0,1219.42 L261.0,1219.36 L262.0,1219.28 L263.0,1219.20 L264.0,1219.10 L265.0,1218.98 L266.0,1218.85 L267.0,1218.71 L268.0,1218.54 L269.0,1218.35 L270.0,1218.13 L271.0,1217.89 L272.0,1217.61 L273.0,1217.30 L274.0,1216.96 L275.0,1216.57 L276.0,1216.14 L277.0,1215.65 L278.0,1215.12 L279.0,1214.53 L280.0,1213.87 L281.0,1213.15 L282.0,1212.36 L283.0,1211.49 L284.0,1210.53 L285.0,1209.50 L286.0,1208.37 L287.0,1207.14 L288.0,1205.81 L289.0,1204.38 L290.0,1202.84 L291.0,1201.18 L292.0,1199.40 L293.0,1197.50 L294.0,1195.48 L295.0,1193.34 L296.0,1191.06 L297.0,1188.66 L298.0,1186.13 L299.0,1183.48 L300.0,1180.70 L301.0,1177.80 L302.0,1174.77 L303.0,1171.64 L304.0,1168.40 L305.0,1165.06 L306.0,1161.63 L307.0,1158.12 L308.0,1154.53 L309.0,1150.89 L310.0,1147.21 L311.0,1143.49 L312.0,1139.75 L313.0,1136.01 L314.0,1132.29 L315.0,1128.59 L316.0,1124.95 L317.0,1121.38 L318.0,1117.89 L319.0,1114.50 L320.0,1111.24 L321.0,1108.12 L322.0,1105.16 L323.0,1102.37 L324.0,1099.78 L325.0,1097.39 L326.0,1095.23 L327.0,1093.30 L328.0,1091.62 L329.0,1090.20 L330.0,1089.05 L331.0,1088.17 L332.0,1087.57 L333.0,1087.25 L334.0,1087.22 L335.0,1087.48 L336.0,1088.02 L337.0,1088.85 L338.0,1089.95 L339.0,1091.32 L340.0,1092.95 L341.0,1094.83 L342.0,1096.94 L343.0,1099.29 L344.0,1101.84 L345.0,1104.59 L346.0,1107.52 L347.0,1110.61 L348.0,1113.84 L349.0,1117.20 L350.0,1120.67 L351.0,1124.23 L352.0,1127.86 L353.0,1131.54 L354.0,1135.26 L355.0,1139.00 L356.0,1142.74 L357.0,1146.46 L358.0,1150.16 L359.0,1153.81 L360.0,1157.41 L361.0,1160.93 L362.0,1164.38 L363.0,1167.74 L364.0,1171.00 L365.0,1174.16 L366.0,1177.20 L367.0,1180.13 L368.0,1182.93 L369.0,1185.61 L370.0,1188.17 L371.0,1190.59 L372.0,1192.89 L373.0,1195.07 L374.0,1197.11 L375.0,1199.03 L376.0,1200.83 L377.0,1202.51 L378.0,1204.08 L379.0,1205.53 L380.0,1206.88 L381.0,1208.13 L382.0,1209.28 L383.0,1210.33 L384.0,1211.30 L385.0,1212.19 L386.0,1213.00 L387.0,1213.73 L388.0,1214.40 L389.0,1215.01 L390.0,1215.55 L391.0,1216.04 L392.0,1216.49 L393.0,1216.88 L394.0,1217.24 L395.0,1217.55 L396.0,1217.83 L397.0,1218.08 L398.0,1218.31 L399.0,1218.50 L400.0,1218.67 L401.0,1218.83 L402.0,1218.96 L403.0,1219.08 L404.0,1219.18 L405.0,1219.27 L406.0,1219.34 L407.0,1219.41 L408.0,1219.47 L409.0,1219.52 L410.0,1219.56 L411.0,1219.60 L412.0,1219.63 L413.0,1219.66 L414.0,1219.68 L415.0,1219.70 L416.0,1219.71 L417.0,1219.73 L418.0,1219.74 L419.0,1219.75 L420.0,1219.76 L421.0,1219.77 L422.0,1219.77 L423.0,1219.78 L424.0,1219.78 L425.0,1219.78 L426.0,1219.79 L427.0,1219.79 L428.0,1219.79 L429.0,1219.79 L430.0,1219.79 L431.0,1219.80 L432.0,1219.80 L433.0,1219.80 L434.0,1219.80 L435.0,1219.80 L436.0,1219.80 L437.0,1219.80 L438.0,1219.80 L439.0,1219.80 L440.0,1219.80 L441.0,1219.80 L442.0,1219.80 L443.0,1219.80 L444.0,1219.80 L445.0,1219.80 L446.0,1219.80 L447.0,1219.80 L448.0,1219.80 L449.0,1219.80 L450.0,1219.80 L451.0,1219.80 L452.0,1219.80 L453.0,1219.80 L454.0,1219.80 L455.0,1219.80 L456.0,1219.80 L457.0,1219.80 L458.0,1219.80 L459.0,1219.80 L460.0,1219.80 L461.0,1219.80 L462.0,1219.80 L463.0,1219.80 L464.0,1219.80 L465.0,1219.80 L466.0,1219.80 L467.0,1219.80 L468.0,1219.80 L469.0,1219.80 L470.0,1219.80 L471.0,1219.80 L472.0,1219.80 L473.0,1219.80 L474.0,1219.80 L475.0,1219.80 L476.0,1219.80 L477.0,1219.80 L478.0,1219.80 L479.0,1219.80 L480.0,1219.80 L481.0,1219.80 L482.0,1219.80 L483.0,1219.80 L484.0,1219.80 L485.0,1219.80 L486.0,1219.80 L487.0,1219.80 L488.0,1219.80 L489.0,1219.80 L490.0,1219.80 L491.0,1219.80 L492.0,1219.80 L493.0,1219.80 L494.0,1219.80 L495.0,1219.80 L496.0,1219.80 L497.0,1219.80 L498.0,1219.80 L499.0,1219.80 L500.0,1219.80 L501.0,1219.80 L502.0,1219.80 L503.0,1219.80 L504.0,1219.80 L505.0,1219.80 L506.0,1219.80 L507.0,1219.80 L508.0,1219.80 L509.0,1219.80 L510.0,1219.80 L511.0,1219.80 L512.0,1219.80 L513.0,1219.80 L514.0,1219.80 L515.0,1219.80 L516.0,1219.80 L517.0,1219.80 L518.0,1219.80 L519.0,1219.80 L520.0,1219.80 L521.0,1219.80 L522.0,1219.80 L523.0,1219.80 L524.0,1219.80 L525.0,1219.80 L526.0,1219.80 L527.0,1219.80 L528.0,1219.80 L529.0,1219.80 L529,1219.8 Z" fill="#0000ff"/>
<path d="M54,1219.8 L54.0,1219.80 L55.0,1219.80 L56.0,1219.80 L57.0,1219.80 L58.0,1219.80 L59.0,1219.80 L60.0,1219.80 L61.0,1219.80 L62.0,1219.80 L63.0,1219.80 L64.0,1219.80 L65.0,1219.80 L66.0,1219.80 L67.0,1219.80 L68.0,1219.80 L69.0,1219.80 L70.0,1219.80 L71.0,1219.80 L72.0,1219.80 L73.0,1219.80 L74.0,1219.80 L75.0,1219.80 L76.0,1219.80 L77.0,1219.80 L78.0,1219.80 L79.0,1219.80 L80.0,1219.80 L81.0,1219.80 L82.0,1219.80 L83.0,1219.80 L84.0,1219.80 L85.0,1219.80 L86.0,1219.80 L87.0,1219.80 L88.0,1219.80 L89.0,1219.80 L90.0,1219.80 L91.0,1219.80 L92.0,1219.80 L93.0,1219.80 L94.0,1219.80 L95.0,1219.80 L96.0,1219.80 L97.0,1219.80 L98.0,1219.80 L99.0,1219.80 L100.0,1219.80 L101.0,1219.80 L102.0,1219.80 L103.0,1219.80 L104.0,1219.80 L105.0,1219.80 L106.0,1219.80 L107.0,1219.80 L108.0,1219.80 L109.0,1219.80 L110.0,1219.80 L111.0,1219.80 L112.0,1219.80 L113.0,1219.80 L114.0,1219.80 L115.0,1219.80 L116.0,1219.80 L117.0,1219.80 L118.0,1219.80 L119.0,1219.80 L120.0,1219.80 L121.0,1219.80 L122.0,1219.80 L123.0,1219.80 L124.0,1219.80 L125.0,1219.80 L126.0,1219.80 L127.0,1219.80 L128.0,1219.80 L129.0,1219.80 L130.0,1219.80 L131.0,1219.80 L132.0,1219.80 L133.0,1219.80 L134.0,1219.80 L135.0,1219.80 L136.0,1219.80 L137.0,1219.80 L138.0,1219.80 L139.0,1219.80 L140.0,1219.80 L141.0,1219.80 L142.0,1219.80 L143.0,1219.80 L144.0,1219.80 L145.0,1219.80 L146.0,1219.80 L147.0,1219.80 L148.0,1219.80 L149.0,1219.80 L150.0,1219.80 L151.0,1219.80 L152.0,1219.80 L153.0,1219.80 L154.0,1219.80 L155.0,1219.80 L156.0,1219.80 L157.0,1219.80 L158.0,1219.80 L159.0,1219.80 L160.0,1219.80 L161.0,1219.80 L162.0,1219.80 L163.0,1219.80 L164.0,1219.80 L165.0,1219.80 L166.0,1219.80 L167.0,1219.80 L168.0,1219.80 L169.0,1219.80 L170.0,1219.80 L171.0,1219.80 L172.0,1219.80 L173.0,1219.80 L174.0,1219.80 L175.0,1219.80 L176.0,1219.80 L177.0,1219.80 L178.0,1219.80 L179.0,1219.80 L180.0,1219.80 L181.0,1219.80 L182.0,1219.80 L183.0,1219.79 L184.0,1219.79 L185.0,1219.79 L186.0,1219.79 L187.0,1219.79 L188.0,1219.79 L189.0,1219.79 L190.0,1219.78 L191.0,1219.78 L192.0,1219.78 L193.0,1219.77 L194.0,1219.77 L195.0,1219.76 L196.0,1219.75 L197.0,1219.75 L198.0,1219.74 L199.0,1219.73 L200.0,1219.71 L201.0,1219.70 L202.0,1219.69 L203.0,1219.67 L204.0,1219.65 L205.0,1219.62 L206.0,1219.60 L207.0,1219.57 L208.0,1219.53 L209.0,1219.49 L210.0,1219.45 L211.0,1219.40 L212.0,1219.34 L213.0,1219.28 L214.0,1219.21 L215.0,1219.13 L216.0,1219.04 L217.0,1218.94 L218.0,1218.83 L219.0,1218.71 L220.0,1218.57 L221.0,1218.42 L222.0,1218.26 L223.0,1218.07 L224.0,1217.87 L225.0,1217.65 L226.0,1217.41 L227.0,1217.14 L228.0,1216.85 L229.0,1216.53 L230.0,1216.18 L231.0,1215.80 L232.0,1215.39 L233.0,1214.95 L234.0,1214.47 L235.0,1213.96 L236.0,1213.40 L237.0,1212.81 L238.0,1212.17 L239.0,1211.48 L240.0,1210.75 L241.0,1209.97 L242.0,1209.15 L243.0,1208.27 L244.0,1207.34 L245.0,1206.36 L246.0,1205.33 L247.0,1204.24 L248.0,1203.10 L249.0,1201.90 L250.0,1200.65 L251.0,1199.35 L252.0,1198.00 L253.0,1196.59 L254.0,1195.13 L255.0,1193.63 L256.0,1192.08 L257.0,1190.49 L258.0,1188.86 L259.0,1187.20 L260.0,1185.50 L261.0,1183.77 L262.0,1182.02 L263.0,1180.24 L264.0,1178.46 L265.0,1176.66 L266.0,1174.87 L267.0,1173.07 L268.0,1171.29 L269.0,1169.52 L270.0,1167.77 L271.0,1166.05 L272.0,1164.37 L273.0,1162.73 L274.0,1161.14 L275.0,1159.61 L276.0,1158.14 L277.0,1156.73 L278.0,1155.41 L279.0,1154.16 L280.0,1153.00 L281.0,1151.94 L282.0,1150.97 L283.0,1150.10 L284.0,1149.34 L285.0,1148.70 L286.0,1148.16 L287.0,1147.74 L288.0,1147.44 L289.0,1147.26 L290.0,1147.20 L291.0,1147.25 L292.0,1147.38 L293.0,1147.62 L294.0,1147.94 L295.0,1148.35 L296.0,1148.85 L297.0,1149.43 L298.0,1150.10 L299.0,1150.86 L300.0,1151.69 L301.0,1152.59 L302.0,1153.57 L303.0,1154.62 L304.0,1155.73 L305.0,1156.90 L306.0,1158.14 L307.0,1159.42 L308.0,1160.75 L309.0,1162.13 L310.0,1163.55 L311.0,1165.00 L312.0,1166.48 L313.0,1167.99 L314.0,1169.52 L315.0,1171.07 L316.0,1172.63 L317.0,1174.19 L318.0,1175.77 L319.0,1177.34 L320.0,1178.91 L321.0,1180.47 L322.0,1182.02 L323.0,1183.55 L324.0,1185.07 L325.0,1186.56 L326.0,1188.03 L327.0,1189.48 L328.0,1190.89 L329.0,1192.28 L330.0,1193.63 L331.0,1194.95 L332.0,1196.23 L333.0,1197.47 L334.0,1198.68 L335.0,1199.84 L336.0,1200.97 L337.0,1202.05 L338.0,1203.10 L339.0,1204.10 L340.0,1205.06 L341.0,1205.98 L342.0,1206.86 L343.0,1207.70 L344.0,1208.49 L345.0,1209.25 L346.0,1209.97 L347.0,1210.66 L348.0,1211.30 L349.0,1211.92 L350.0,1212.49 L351.0,1213.03 L352.0,1213.54 L353.0,1214.02 L354.0,1214.47 L355.0,1214.89 L356.0,1215.29 L357.0,1215.65 L358.0,1216.00 L359.0,1216.31 L360.0,1216.61 L361.0,1216.88 L362.0,1217.14 L363.0,1217.37 L364.0,1217.59 L365.0,1217.79 L366.0,1217.98 L367.0,1218.15 L368.0,1218.30 L369.0,1218.44 L370.0,1218.57 L371.0,1218.69 L372.0,1218.80 L373.0,1218.90 L374.0,1218.99 L375.0,1219.08 L376.0,1219.15 L377.0,1219.22 L378.0,1219.28 L379.0,1219.34 L380.0,1219.39 L381.0,1219.43 L382.0,1219.47 L383.0,1219.51 L384.0,1219.54 L385.0,1219.57 L386.0,1219.60 L387.0,1219.62 L388.0,1219.64 L389.0,1219.66 L390.0,1219.68 L391.0,1219.69 L392.0,1219.70 L393.0,1219.72 L394.0,1219.73 L395.0,1219.74 L396.0,1219.74 L397.0,1219.75 L398.0,1219.76 L399.0,1219.76 L400.0,1219.77 L401.0,1219.77 L402.0,1219.78 L403.0,1219.78 L404.0,1219.78 L405.0,1219.78 L406.0,1219.79 L407.0,1219.79 L408.0,1219.79 L409.0,1219.79 L410.0,1219.79 L411.0,1219.79 L412.0,1219.79 L413.0,1219.80 L414.0,1219.80 L415.0,1219.80 L416.0,1219.80 L417.0,1219.80 L418.0,1219.80 L419.0,1219.80 L420.0,1219.80 L421.0,1219.80 L422.0,1219.80 L423.0,1219.80 L424.0,1219.80 L425.0,1219.80 L426.0,1219.80 L427.0,1219.80 L428.0,1219.80 L429.0,1219.80 L430.0,1219.80 L431.0,1219.80 L432.0,1219.80 L433.0,1219.80 L434.0,1219.80 L435.0,1219.80 L436.0,1219.80 L437.0,1219.80 L438.0,1219.80 L439.0,1219.80 L440.0,1219.80 L441.0,1219.80 L442.0,1219.80 L443.0,1219.80 L444.0,1219.80 L445.0,1219.80 L446.0,1219.80 L447.0,1219.80 L448.0,1219.80 L449.0,1219.80 L450.0,1219.80 L451.0,1219.80 L452.0,1219.80 L453.0,1219.80 L454.0,1219.80 L455.0,1219.80 L456.0,1219.80 L457.0,1219.80 L458.0,1219.80 L459.0,1219.80 L460.0,1219.80 L461.0,1219.80 L462.0,1219.80 L463.0,1219.80 L464.0,1219.80 L465.0,1219.80 L466.0,1219.80 L467.0,1219.80 L468.0,1219.80 L469.0,1219.80 L470.0,1219.80 L471.0,1219.80 L472.0,1219.80 L473.0,1219.80 L474.0,1219.80 L475.0,1219.80 L476.0,1219.80 L477.0,1219.80 L478.0,1219.80 L479.0,1219.80 L480.0,1219.80 L481.0,1219.80 L482.0,1219.80 L483.0,1219.80 L484.0,1219.80 L485.0,1219.80 L486.0,1219.80 L487.0,1219.80 L488.0,1219.80 L489.0,1219.80 L490.0,1219.80 L491.0,1219.80 L492.0,1219.80 L493.0,1219.80 L494.0,1219.80 L495.0,1219.80 L496.0,1219.80 L497.0,1219.80 L498.0,1219.80 L499.0,1219.80 L500.0,1219.80 L501.0,1219.80 L502.0,1219.80 L503.0,1219.80 L504.0,1219.80 L505.0,1219.80 L506.0,1219.80 L507.0,1219.80 L508.0,1219.80 L509.0,1219.80 L510.0,1219.80 L511.0,1219.80 L512.0,1219.80 L513.0,1219.80 L514.0,1219.80 L515.0,1219.80 L516.0,1219.80 L517.0,1219.80 L518.0,1219.80 L519.0,1219.80 L520.0,1219.80 L521.0,1219.80 L522.0,1219.80 L523.0,1219.80 L524.0,1219.80 L525.0,1219.80 L526.0,1219.80 L527.0,1219.80 L528.0,1219.80 L529.0,1219.80 L529,1219.8 Z" fill="#80ffff"/>
<path d="M54,1219.8 L54.0,1219.80 L55.0,1219.80 L56.0,1219.80 L57.0,1219.80 L58.0,1219.80 L59.0,1219.80 L60.0,1219.80 L61.0,1219.80 L62.0,1219.80 L63.0,1219.80 L64.0,1219.80 L65.0,1219.80 L66.0,1219.80 L67.0,1219.80 L68.0,1219.80 L69.0,1219.80 L70.0,1219.80 L71.0,1219.80 L72.0,1219.80 L73.0,1219.80 L74.0,1219.80 L75.0,1219.80 L76.0,1219.80 L77.0,1219.80 L78.0,1219.80 L79.0,1219.80 L80.0,1219.80 L81.0,1219.80 L82.0,1219.80 L83.0,1219.80 L84.0,1219.80 L85.0,1219.80 L86.0,1219.80 L87.0,1219.80 L88.0,1219.80 L89.0,1219.80 L90.0,1219.80 L91.0,1219.80 L92.0,1219.80 L93.0,1219.80 L94.0,1219.80 L95.0,1219.80 L96.0,1219.80 L97.0,1219.80 L98.0,1219.80 L99.0,1219.80 L100.0,1219.80 L101.0,1219.80 L102.0,1219.80 L103.0,1219.80 L104.0,1219.80 L105.0,1219.80 L106.0,1219.80 L107.0,1219.80 L108.0,1219.80 L109.0,1219.80 L110.0,1219.80 L111.0,1219.80 L112.0,1219.80 L113.0,1219.80 L114.0,1219.80 L115.0,1219.80 L116.0,1219.80 L117.0,1219.80 L118.0,1219.80 L119.0,1219.80 L120.0,1219.80 L121.0,1219.80 L122.0,1219.80 L123.0,1219.80 L124.0,1219.80 L125.0,1219.80 L126.0,1219.80 L127.0,1219.80 L128.0,1219.80 L129.0,1219.80 L130.0,1219.80 L131.0,1219.80 L132.0,1219.80 L133.0,1219.80 L134.0,1219.80 L135.0,1219.80 L136.0,1219.80 L137.0,1219.80 L138.0,1219.80 L139.0,1219.80 L140.0,1219.80 L141.0,1219.80 L142.0,1219.80 L143.0,1219.80 L144.0,1219.80 L145.0,1219.80 L146.0,1219.80 L147.0,1219.80 L148.0,1219.80 L149.0,1219.80 L150.0,1219.79 L151.0,1219.79 L152.0,1219.79 L153.0,1219.79 L154.0,1219.79 L155.0,1219.79 L156.0,1219.78 L157.0,1219.78 L158.0,1219.78 L159.0,1219.77 L160.0,1219.77 L161.0,1219.76 L162.0,1219.76 L163.0,1219.75 L164.0,1219.74 L165.0,1219.73 L166.0,1219.72 L167.0,1219.70 L168.0,1219.69 L169.0,1219.67 L170.0,1219.65 L171.0,1219.62 L172.0,1219.59 L173.0,1219.56 L174.0,1219.53 L175.0,1219.49 L176.0,1219.44 L177.0,1219.39 L178.0,1219.34 L179.0,1219.28 L180.0,1219.21 L181.0,1219.13 L182.0,1219.04 L183.0,1218.95 L184.0,1218.85 L185.0,1218.73 L186.0,1218.61 L187.0,1218.47 L188.0,1218.32 L189.0,1218.16 L190.0,1217.98 L191.0,1217.79 L192.0,1217.59 L193.0,1217.36 L194.0,1217.13 L195.0,1216.88 L196.0,1216.61 L197.0,1216.32 L198.0,1216.02 L199.0,1215.69 L200.0,1215.36 L201.0,1215.00 L202.0,1214.63 L203.0,1214.24 L204.0,1213.84 L205.0,1213.42 L206.0,1212.99 L207.0,1212.54 L208.0,1212.09 L209.0,1211.62 L210.0,1211.14 L211.0,1210.66 L212.0,1210.18 L213.0,1209.69 L214.0,1209.19 L215.0,1208.70 L216.0,1208.22 L217.0,1207.74 L218.0,1207.27 L219.0,1206.81 L220.0,1206.36 L221.0,1205.93 L222.0,1205.52 L223.0,1205.13 L224.0,1204.76 L225.0,1204.42 L226.0,1204.11 L227.0,1203.82 L228.0,1203.57 L229.0,1203.35 L230.0,1203.17 L231.0,1203.02 L232.0,1202.91 L233.0,1202.84 L234.0,1202.80 L235.0,1202.81 L236.0,1202.85 L237.0,1202.93 L238.0,1203.05 L239.0,1203.20 L240.0,1203.39 L241.0,1203.62 L242.0,1203.88 L243.0,1204.17 L244.0,1204.49 L245.0,1204.83 L246.0,1205.21 L247.0,1205.60 L248.0,1206.02 L249.0,1206.45 L250.0,1206.90 L251.0,1207.36 L252.0,1207.83 L253.0,1208.32 L254.0,1208.80 L255.0,1209.29 L256.0,1209.78 L257.0,1210.27 L258.0,1210.76 L259.0,1211.24 L260.0,1211.71 L261.0,1212.18 L262.0,1212.63 L263.0,1213.08 L264.0,1213.50 L265.0,1213.92 L266.0,1214.32 L267.0,1214.70 L268.0,1215.07 L269.0,1215.43 L270.0,1215.76 L271.0,1216.08 L272.0,1216.38 L273.0,1216.66 L274.0,1216.93 L275.0,1217.18 L276.0,1217.41 L277.0,1217.63 L278.0,1217.83 L279.0,1218.02 L280.0,1218.19 L281.0,1218.35 L282.0,1218.50 L283.0,1218.63 L284.0,1218.76 L285.0,1218.87 L286.0,1218.97 L287.0,1219.06 L288.0,1219.15 L289.0,1219.22 L290.0,1219.29 L291.0,1219.35 L292.0,1219.40 L293.0,1219.45 L294.0,1219.50 L295.0,1219.54 L296.0,1219.57 L297.0,1219.60 L298.0,1219.63 L299.0,1219.65 L300.0,1219.67 L301.0,1219.69 L302.0,1219.70 L303.0,1219.72 L304.0,1219.73 L305.0,1219.74 L306.0,1219.75 L307.0,1219.76 L308.0,1219.76 L309.0,1219.77 L310.0,1219.77 L311.0,1219.78 L312.0,1219.78 L313.0,1219.78 L314.0,1219.79 L315.0,1219.79 L316.0,1219.79 L317.0,1219.79 L318.0,1219.79 L319.0,1219.79 L320.0,1219.80 L321.0,1219.80 L322.0,1219.80 L323.0,1219.80 L324.0,1219.80 L325.0,1219.80 L326.0,1219.80 L327.0,1219.80 L328.0,1219.80 L329.0,1219.80 L330.0,1219.80 L331.0,1219.80 L332.0,1219.80 L333.0,1219.80 L334.0,1219.80 L335.0,1219.80 L336.0,1219.80 L337.0,1219.80 L338.0,1219.80 L339.0,1219.80 L340.0,1219.80 L341.0,1219.80 L342.0,1219.80 L343.0,1219.80 L344.0,1219.80 L345.0,1219.80 L346.0,1219.80 L347.0,1219.80 L348.0,1219.80 L349.0,1219.80 L350.0,1219.80 L351.0,1219.80 L352.0,1219.80 L353.0,1219.80 L354.0,1219.80 L355.0,1219.80 L356.0,1219.80 L357.0,1219.80 L358.0,1219.80 L359.0,1219.80 L360.0,1219.80 L361.0,1219.80 L362.0,1219.80 L363.0,1219.80 L364.0,1219.80 L365.0,1219.80 L366.0,1219.80 L367.0,1219.80 L368.0,1219.80 L369.0,1219.80 L370.0,1219.80 L371.0,1219.80 L372.0,1219.80 L373.0,1219.80 L374.0,1219.80 L375.0,1219.80 L376.0,1219.80 L377.0,1219.80 L378.0,1219.80 L379.0,1219.80 L380.0,1219.80 L381.0,1219.80 L382.0,1219.80 L383.0,1219.80 L384.0,1219.80 L385.0,1219.80 L386.0,1219.80 L387.0,1219.80 L388.0,1219.80 L389.0,1219.80 L390.0,1219.80 L391.0,1219.80 L392.0,1219.80 L393.0,1219.80 L394.0,1219.80 L395.0,1219.80 L396.0,1219.80 L397.0,1219.80 L398.0,1219.80 L399.0,1219.80 L400.0,1219.80 L401.0,1219.80 L402.0,1219.80 L403.0,1219.80 L404.0,1219.80 L405.0,1219.80 L406.0,1219.80 L407.0,1219.80 L408.0,1219.80 L409.0,1219.80 L410.0,1219.80 L411.0,1219.80 L412.0,1219.80 L413.0,1219.80 L414.0,1219.80 L415.0,1219.80 L416.0,1219.80 L417.0,1219.80 L418.0,1219.80 L419.0,1219.80 L420.0,1219.80 L421.0,1219.80 L422.0,1219.80 L423.0,1219.80 L424.0,1219.80 L425.0,1219.80 L426.0,1219.80 L427.0,1219.80 L428.0,1219.80 L429.0,1219.80 L430.0,1219.80 L431.0,1219.80 L432.0,1219.80 L433.0,1219.80 L434.0,1219.80 L435.0,1219.80 L436.0,1219.80 L437.0,1219.80 L438.0,1219.80 L439.0,1219.80 L440.0,1219.80 L441.0,1219.80 L442.0,1219.80 L443.0,1219.80 L444.0,1219.80 L445.0,1219.80 L446.0,1219.80 L447.0,1219.80 L448.0,1219.80 L449.0,1219.80 L450.0,1219.80 L451.0,1219.80 L452.0,1219.80 L453.0,1219.80 L454.0,1219.80 L455.0,1219.80 L456.0,1219.80 L457.0,1219.80 L458.0,1219.80 L459.0,1219.80 L460.0,1219.80 L461.0,1219.80 L462.0,1219.80 L463.0,1219.80 L464.0,1219.80 L465.0,1219.80 L466.0,1219.80 L467.0,1219.80 L468.0,1219.80 L469.0,1219.80 L470.0,1219.80 L471.0,1219.80 L472.0,1219.80 L473.0,1219.80 L474.0,1219.80 L475.0,1219.80 L476.0,1219.80 L477.0,1219.80 L478.0,1219.80 L479.0,1219.80 L480.0,1219.80 L481.0,1219.80 L482.0,1219.80 L483.0,1219.80 L484.0,1219.80 L485.0,1219.80 L486.0,1219.80 L487.0,1219.80 L488.0,1219.80 L489.0,1219.80 L490.0,1219.80 L491.0,1219.80 L492.0,1219.80 L493.0,1219.80 L494.0,1219.80 L495.0,1219.80 L496.0,1219.80 L497.0,1219.80 L498.0,1219.80 L499.0,1219.80 L500.0,1219.80 L501.0,1219.80 L502.0,1219.80 L503.0,1219.80 L504.0,1219.80 L505.0,1219.80 L506.0,1219.80 L507.0,1219.80 L508.0,1219.80 L509.0,1219.80 L510.0,1219.80 L511.0,1219.80 L512.0,1219.80 L513.0,1219.80 L514.0,1219.80 L515.0,1219.80 L516.0,1219.80 L517.0,1219.80 L518.0,1219.80 L519.0,1219.80 L520.0,1219.80 L521.0,1219.80 L522.0,1219.80 L523.0,1219.80 L524.0,1219.80 L525.0,1219.80 L526.0,1219.80 L527.0,1219.80 L528.0,1219.80 L529.0,1219.80 L529,1219.8 Z" fill="#808000"/>
<polyline points="54.0,1218.8 55.0,1218.0 56.0,1218.3 57.0,1218.2 58.0,1218.4 59.0,1217.8 60.0,1218.1 61.0,1218.0 62.0,1217.9 63.0,1218.0 64.0,1218.1 65.0,1218.1 66.0,1218.0 67.0,1218.3 68.0,1218.1 69.0,1217.4 70.0,1218.5 71.0,1218.1 72.0,1218.0 73.0,1218.3 74.0,1218.3 75.0,1218.2 76.0,1218.0 77.0,1218.2 78.0,1217.8 79.0,1218.6 80.0,1217.9 81.0,1218.1 82.0,1218.2 83.0,1218.3 84.0,1218.1 85.0,1218.3 86.0,1217.3 87.0,1218.1 88.0,1218.1 89.0,1218.1 90.0,1218.5 91.0,1217.9 92.0,1218.1 93.0,1217.7 94.0,1218.2 95.0,1217.8 96.0,1217.8 97.0,1218.8 98.0,1218.3 99.0,1218.2 100.0,1218.2 101.0,1217.8 102.0,1217.9 103.0,1218.3 104.0,1217.6 105.0,1218.2 106.0,1217.7 107.0,1218.2 108.0,1217.9 109.0,1218.6 110.0,1218.4 111.0,1218.0 112.0,1217.7 113.0,1217.9 114.0,1218.1 115.0,1217.9 116.0,1218.2 117.0,1218.4 118.0,1218.1 119.0,1218.0 120.0,1218.3 121.0,1218.0 122.0,1218.3 123.0,1218.0 124.0,1218.4 125.0,1218.0 126.0,1217.7 127.0,1218.0 128.0,1217.8 129.0,1217.7 130.0,1217.9 131.0,1218.1 132.0,1217.3 133.0,1217.8 134.0,1217.8 135.0,1217.7 136.0,1217.9 137.0,1217.4 138.0,1217.8 139.0,1217.5 140.0,1217.6 141.0,1217.4 142.0,1217.3 143.0,1217.2 144.0,1217.4 145.0,1217.8 146.0,1217.4 147.0,1217.3 148.0,1217.1 149.0,1216.8 150.0,1217.1 151.0,1217.7 152.0,1215.9 153.0,1216.9 154.0,1216.8 155.0,1216.4 156.0,1216.5 157.0,1216.7 158.0,1216.9 159.0,1216.3 160.0,1216.4 161.0,1215.6 162.0,1215.7 163.0,1215.2 164.0,1215.1 165.0,1214.5 166.0,1214.9 167.0,1215.2 168.0,1214.2 169.0,1214.2 170.0,1214.2 171.0,1213.7 172.0,1214.0 173.0,1213.5 174.0,1212.6 175.0,1212.4 176.0,1213.1 177.0,1212.9 178.0,1212.9 179.0,1212.3 180.0,1212.1 181.0,1210.9 182.0,1212.2 183.0,1210.9 184.0,1211.6 185.0,1210.3 186.0,1210.3 187.0,1210.5 188.0,1210.0 189.0,1209.6 190.0,1210.2 191.0,1209.8 192.0,1209.4 193.0,1208.8 194.0,1208.3 195.0,1208.2 196.0,1207.9 197.0,1207.9 198.0,1208.0 199.0,1207.2 200.0,1206.6 201.0,1206.3 202.0,1207.0 203.0,1206.1 204.0,1205.8 205.0,1205.4 206.0,1205.2 207.0,1204.6 208.0,1204.7 209.0,1204.2 210.0,1201.9 211.0,1202.9 212.0,1204.0 213.0,1201.5 214.0,1201.8 215.0,1201.8 216.0,1200.9 217.0,1201.1 218.0,1199.4 219.0,1199.0 220.0,1199.1 221.0,1198.4 222.0,1197.8 223.0,1198.2 224.0,1197.6 225.0,1197.1 226.0,1196.5 227.0,1196.4 228.0,1195.8 229.0,1195.1 230.0,1195.4 231.0,1194.9 232.0,1194.4 233.0,1194.3 234.0,1193.0 235.0,1193.1 236.0,1192.5 237.0,1193.0 238.0,1192.2 239.0,1192.5 240.0,1191.8 241.0,1190.3 242.0,1189.4 243.0,1189.7 244.0,1188.7 245.0,1188.2 246.0,1187.1 247.0,1187.3 248.0,1186.4 249.0,1185.7 250.0,1184.9 251.0,1183.4 252.0,1181.8 253.0,1181.9 254.0,1180.7 255.0,1179.7 256.0,1179.3 257.0,1177.6 258.0,1177.2 259.0,1175.3 260.0,1174.2 261.0,1172.8 262.0,1171.5 263.0,1169.1 264.0,1168.8 265.0,1166.8 266.0,1164.7 267.0,1163.9 268.0,1162.2 269.0,1161.0 270.0,1159.1 271.0,1157.3 272.0,1154.6 273.0,1154.6 274.0,1152.8 275.0,1150.8 276.0,1148.9 277.0,1147.6 278.0,1144.9 279.0,1144.1 280.0,1142.1 281.0,1139.9 282.0,1139.0 283.0,1137.4 284.0,1136.4 285.0,1134.5 286.0,1131.6 287.0,1129.8 288.0,1129.2 289.0,1127.5 290.0,1125.5 291.0,1123.6 292.0,1122.5 293.0,1120.3 294.0,1118.7 295.0,1117.6 296.0,1115.3 297.0,1112.8 298.0,1110.6 299.0,1108.9 300.0,1107.7 301.0,1104.3 302.0,1103.0 303.0,1099.3 304.0,1097.1 305.0,1095.0 306.0,1091.6 307.0,1089.3 308.0,1085.9 309.0,1084.0 310.0,1081.4 311.0,1077.6 312.0,1075.0 313.0,1071.7 314.0,1067.9 315.0,1067.3 316.0,1063.2 317.0,1060.3 318.0,1057.0 319.0,1054.0 320.0,1052.1 321.0,1047.1 322.0,1045.0 323.0,1042.2 324.0,1039.6 325.0,1037.4 326.0,1034.1 327.0,1031.3 328.0,1029.0 329.0,1027.6 330.0,1025.6 331.0,1023.5 332.0,1021.9 333.0,1018.9 334.0,1017.9 335.0,1016.0 336.0,1014.0 337.0,1012.2 338.0,1011.6 339.0,1009.4 340.0,1008.3 341.0,1006.7 342.0,1006.8 343.0,1004.8 344.0,1003.4 345.0,1002.4 346.0,1001.3 347.0,1000.4 348.0,998.4 349.0,997.5 350.0,997.3 351.0,996.4 352.0,994.2 353.0,993.6 354.0,992.0 355.0,989.9 356.0,989.0 357.0,985.7 358.0,985.0 359.0,985.3 360.0,984.3 361.0,979.4 362.0,981.3 363.0,975.5 364.0,978.5 365.0,974.3 366.0,973.4 367.0,973.1 368.0,970.5 369.0,972.4 370.0,970.1 371.0,971.6 372.0,969.6 373.0,964.9 374.0,966.4 375.0,964.6 376.0,961.8 377.0,966.5 378.0,966.3 379.0,963.3 380.0,961.8 381.0,962.7 382.0,961.5 383.0,962.3 384.0,964.7 385.0,963.2 386.0,964.8 387.0,961.8 388.0,963.8 389.0,961.7 390.0,964.3 391.0,964.7 392.0,966.5 393.0,968.6 394.0,968.1 395.0,970.9 396.0,971.8 397.0,969.0 398.0,976.8 399.0,978.6 400.0,975.8 401.0,981.9 402.0,981.9 403.0,982.4 404.0,983.9 405.0,988.9 406.0,989.8 407.0,990.6 408.0,993.1 409.0,994.9 410.0,992.4 411.0,995.2 412.0,996.2 413.0,995.4 414.0,999.4 415.0,998.3 416.0,999.6 417.0,998.5 418.0,1002.3 419.0,1002.9 420.0,1003.4 421.0,1003.4 422.0,1004.3 423.0,1006.7 424.0,1004.8 425.0,1008.6 426.0,1007.3 427.0,1010.1 428.0,1009.1 429.0,1011.8 430.0,1008.7 431.0,1012.7 432.0,1014.3 433.0,1013.4 434.0,1015.0 435.0,1019.2 436.0,1020.3 437.0,1022.3 438.0,1023.7 439.0,1024.7 440.0,1025.9 441.0,1027.1 442.0,1031.5 443.0,1033.1 444.0,1036.9 445.0,1038.9 446.0,1040.6 447.0,1042.8 448.0,1042.4 449.0,1048.7 450.0,1052.2 451.0,1053.7 452.0,1056.7 453.0,1059.5 454.0,1061.1 455.0,1063.9 456.0,1065.9 457.0,1069.6 458.0,1071.3 459.0,1073.4 460.0,1074.7 461.0,1077.6 462.0,1079.5 463.0,1082.1 464.0,1084.0 465.0,1086.8 466.0,1088.9 467.0,1092.1 468.0,1095.5 469.0,1096.8 470.0,1099.8 471.0,1103.8 472.0,1107.2 473.0,1109.9 474.0,1113.9 475.0,1117.4 476.0,1121.2 477.0,1125.4 478.0,1128.3 479.0,1132.9 480.0,1136.7 481.0,1140.4 482.0,1145.1 483.0,1148.2 484.0,1152.2 485.0,1157.6 486.0,1160.5 487.0,1165.8 488.0,1169.3 489.0,1172.2 490.0,1175.6 491.0,1178.3 492.0,1182.7 493.0,1185.0 494.0,1189.6 495.0,1190.7 496.0,1194.2 497.0,1195.2 498.0,1198.7 499.0,1201.6 500.0,1202.7 501.0,1204.2 502.0,1206.0 503.0,1207.9 504.0,1209.4 505.0,1210.0 506.0,1210.1 507.0,1212.3 508.0,1213.4 509.0,1214.9 510.0,1214.4 511.0,1215.0 512.0,1215.1 513.0,1216.2 514.0,1217.1 515.0,1216.0 516.0,1216.8 517.0,1216.4 518.0,1216.8 519.0,1217.2 520.0,1217.7 521.0,1217.2 522.0,1217.6 523.0,1218.5 524.0,1218.1 525.0,1218.3 526.0,1218.2 527.0,1217.9 528.0,1218.3" fill="none" stroke="#3c3c3c" stroke-width="6.0" stroke-linejoin="round"/>
<polyline points="54.0,1218.8 55.0,1218.0 56.0,1218.3 57.0,1218.2 58.0,1218.4 59.0,1217.8 60.0,1218.1 61.0,1218.0 62.0,1217.9 63.0,1218.0 64.0,1218.1 65.0,1218.1 66.0,1218.0 67.0,1218.3 68.0,1218.1 69.0,1217.4 70.0,1218.5 71.0,1218.1 72.0,1218.0 73.0,1218.3 74.0,1218.3 75.0,1218.2 76.0,1218.0 77.0,1218.2 78.0,1217.8 79.0,1218.6 80.0,1217.9 81.0,1218.1 82.0,1218.2 83.0,1218.3 84.0,1218.1 85.0,1218.3 86.0,1217.3 87.0,1218.1 88.0,1218.1 89.0,1218.1 90.0,1218.5 91.0,1217.9 92.0,1218.1 93.0,1217.7 94.0,1218.2 95.0,1217.8 96.0,1217.8 97.0,1218.8 98.0,1218.3 99.0,1218.2 100.0,1218.2 101.0,1217.8 102.0,1217.9 103.0,1218.3 104.0,1217.6 105.0,1218.2 106.0,1217.7 107.0,1218.2 108.0,1217.9 109.0,1218.6 110.0,1218.4 111.0,1218.0 112.0,1217.7 113.0,1217.9 114.0,1218.1 115.0,1217.9 116.0,1218.2 117.0,1218.4 118.0,1218.1 119.0,1218.0 120.0,1218.3 121.0,1218.0 122.0,1218.3 123.0,1218.0 124.0,1218.4 125.0,1218.0 126.0,1217.7 127.0,1218.0 128.0,1217.8 129.0,1217.7 130.0,1217.9 131.0,1218.1 132.0,1217.3 133.0,1217.8 134.0,1217.8 135.0,1217.7 136.0,1217.9 137.0,1217.4 138.0,1217.8 139.0,1217.5 140.0,1217.6 141.0,1217.4 142.0,1217.3 143.0,1217.2 144.0,1217.4 145.0,1217.8 146.0,1217.4 147.0,1217.3 148.0,1217.1 149.0,1216.8 150.0,1217.1 151.0,1217.7 152.0,1215.9 153.0,1216.9 154.0,1216.8 155.0,1216.4 156.0,1216.5 157.0,1216.7 158.0,1216.9 159.0,1216.3 160.0,1216.4 161.0,1215.6 162.0,1215.7 163.0,1215.2 164.0,1215.1 165.0,1214.5 166.0,1214.9 167.0,1215.2 168.0,1214.2 169.0,1214.2 170.0,1214.2 171.0,1213.7 172.0,1214.0 173.0,1213.5 174.0,1212.6 175.0,1212.4 176.0,1213.1 177.0,1212.9 178.0,1212.9 179.0,1212.3 180.0,1212.1 181.0,1210.9 182.0,1212.2 183.0,1210.9 184.0,1211.6 185.0,1210.3 186.0,1210.3 187.0,1210.5 188.0,1210.0 189.0,1209.6 190.0,1210.2 191.0,1209.8 192.0,1209.4 193.0,1208.8 194.0,1208.3 195.0,1208.2 196.0,1207.9 197.0,1207.9 198.0,1208.0 199.0,1207.2 200.0,1206.6 201.0,1206.3 202.0,1207.0 203.0,1206.1 204.0,1205.8 205.0,1205.4 206.0,1205.2 207.0,1204.6 208.0,1204.7 209.0,1204.2 210.0,1201.9 211.0,1202.9 212.0,1204.0 213.0,1201.5 214.0,1201.8 215.0,1201.8 216.0,1200.9 217.0,1201.1 218.0,1199.4 219.0,1199.0 220.0,1199.1 221.0,1198.4 222.0,1197.8 223.0,1198.2 224.0,1197.6 225.0,1197.1 226.0,1196.5 227.0,1196.4 228.0,1195.8 229.0,1195.1 230.0,1195.4 231.0,1194.9 232.0,1194.4 233.0,1194.3 234.0,1193.0 235.0,1193.1 236.0,1192.5 237.0,1193.0 238.0,1192.2 239.0,1192.5 240.0,1191.8 241.0,1190.3 242.0,1189.4 243.0,1189.7 244.0,1188.7 245.0,1188.2 246.0,1187.1 247.0,1187.3 248.0,1186.4 249.0,1185.7 250.0,1184.9 251.0,1183.4 252.0,1181.8 253.0,1181.9 254.0,1180.7 255.0,1179.7 256.0,1179.3 257.0,1177.6 258.0,1177.2 259.0,1175.3 260.0,1174.2 261.0,1172.8 262.0,1171.5 263.0,1169.1 264.0,1168.8 265.0,1166.8 266.0,1164.7 267.0,1163.9 268.0,1162.2 269.0,1161.0 270.0,1159.1 271.0,1157.3 272.0,1154.6 273.0,1154.6 274.0,1152.8 275.0,1150.8 276.0,1148.9 277.0,1147.6 278.0,1144.9 279.0,1144.1 280.0,1142.1 281.0,1139.9 282.0,1139.0 283.0,1137.4 284.0,1136.4 285.0,1134.5 286.0,1131.6 287.0,1129.8 288.0,1129.2 289.0,1127.5 290.0,1125.5 291.0,1123.6 292.0,1122.5 293.0,1120.3 294.0,1118.7 295.0,1117.6 296.0,1115.3 297.0,1112.8 298.0,1110.6 299.0,1108.9 300.0,1107.7 301.0,1104.3 302.0,1103.0 303.0,1099.3 304.0,1097.1 305.0,1095.0 306.0,1091.6 307.0,1089.3 308.0,1085.9 309.0,1084.0 310.0,1081.4 311.0,1077.6 312.0,1075.0 313.0,1071.7 314.0,1067.9 315.0,1067.3 316.0,1063.2 317.0,1060.3 318.0,1057.0 319.0,1054.0 320.0,1052.1 321.0,1047.1 322.0,1045.0 323.0,1042.2 324.0,1039.6 325.0,1037.4 326.0,1034.1 327.0,1031.3 328.0,1029.0 329.0,1027.6 330.0,1025.6 331.0,1023.5 332.0,1021.9 333.0,1018.9 334.0,1017.9 335.0,1016.0 336.0,1014.0 337.0,1012.2 338.0,1011.6 339.0,1009.4 340.0,1008.3 341.0,1006.7 342.0,1006.8 343.0,1004.8 344.0,1003.4 345.0,1002.4 346.0,1001.3 347.0,1000.4 348.0,998.4 349.0,997.5 350.0,997.3 351.0,996.4 352.0,994.2 353.0,993.6 354.0,992.0 355.0,989.9 356.0,989.0 357.0,985.7 358.0,985.0 359.0,985.3 360.0,984.3 361.0,979.4 362.0,981.3 363.0,975.5 364.0,978.5 365.0,974.3 366.0,973.4 367.0,973.1 368.0,970.5 369.0,972.4 370.0,970.1 371.0,971.6 372.0,969.6 373.0,964.9 374.0,966.4 375.0,964.6 376.0,961.8 377.0,966.5 378.0,966.3 379.0,963.3 380.0,961.8 381.0,962.7 382.0,961.5 383.0,962.3 384.0,964.7 385.0,963.2 386.0,964.8 387.0,961.8 388.0,963.8 389.0,961.7 390.0,964.3 391.0,964.7 392.0,966.5 393.0,968.6 394.0,968.1 395.0,970.9 396.0,971.8 397.0,969.0 398.0,976.8 399.0,978.6 400.0,975.8 401.0,981.9 402.0,981.9 403.0,982.4 404.0,983.9 405.0,988.9 406.0,989.8 407.0,990.6 408.0,993.1 409.0,994.9 410.0,992.4 411.0,995.2 412.0,996.2 413.0,995.4 414.0,999.4 415.0,998.3 416.0,999.6 417.0,998.5 418.0,1002.3 419.0,1002.9 420.0,1003.4 421.0,1003.4 422.0,1004.3 423.0,1006.7 424.0,1004.8 425.0,1008.6 426.0,1007.3 427.0,1010.1 428.0,1009.1 429.0,1011.8 430.0,1008.7 431.0,1012.7 432.0,1014.3 433.0,1013.4 434.0,1015.0 435.0,1019.2 436.0,1020.3 437.0,1022.3 438.0,1023.7 439.0,1024.7 440.0,1025.9 441.0,1027.1 442.0,1031.5 443.0,1033.1 444.0,1036.9 445.0,1038.9 446.0,1040.6 447.0,1042.8 448.0,1042.4 449.0,1048.7 450.0,1052.2 451.0,1053.7 452.0,1056.7 453.0,1059.5 454.0,1061.1 455.0,1063.9 456.0,1065.9 457.0,1069.6 458.0,1071.3 459.0,1073.4 460.0,1074.7 461.0,1077.6 462.0,1079.5 463.0,1082.1 464.0,1084.0 465.0,1086.8 466.0,1088.9 467.0,1092.1 468.0,1095.5 469.0,1096.8 470.0,1099.8 471.0,1103.8 472.0,1107.2 473.0,1109.9 474.0,1113.9 475.0,1117.4 476.0,1121.2 477.0,1125.4 478.0,1128.3 479.0,1132.9 480.0,1136.7 481.0,1140.4 482.0,1145.1 483.0,1148.2 484.0,1152.2 485.0,1157.6 486.0,1160.5 487.0,1165.8 488.0,1169.3 489.0,1172.2 490.0,1175.6 491.0,1178.3 492.0,1182.7 493.0,1185.0 494.0,1189.6 495.0,1190.7 496.0,1194.2 497.0,1195.2 498.0,1198.7 499.0,1201.6 500.0,1202.7 501.0,1204.2 502.0,1206.0 503.0,1207.9 504.0,1209.4 505.0,1210.0 506.0,1210.1 507.0,1212.3 508.0,1213.4 509.0,1214.9 510.0,1214.4 511.0,1215.0 512.0,1215.1 513.0,1216.2 514.0,1217.1 515.0,1216.0 516.0,1216.8 517.0,1216.4 518.0,1216.8 519.0,1217.2 520.0,1217.7 521.0,1217.2 522.0,1217.6 523.0,1218.5 524.0,1218.1 525.0,1218.3 526.0,1218.2 527.0,1217.9 528.0,1218.3" fill="none" stroke="#d8d8d8" stroke-width="3.6" stroke-linejoin="round"/>
<g fill="none" stroke="#303030" stroke-width="0.55" opacity="0.75"><circle cx="54.0" cy="1218.8" r="2.5"/><circle cx="56.0" cy="1218.3" r="2.5"/><circle cx="58.0" cy="1218.4" r="2.5"/><circle cx="60.0" cy="1218.1" r="2.5"/><circle cx="62.0" cy="1217.9" r="2.5"/><circle cx="64.0" cy="1218.1" r="2.5"/><circle cx="66.0" cy="1218.0" r="2.5"/><circle cx="68.0" cy="1218.1" r="2.5"/><circle cx="70.0" cy="1218.5" r="2.5"/><circle cx="72.0" cy="1218.0" r="2.5"/><circle cx="74.0" cy="1218.3" r="2.5"/><circle cx="76.0" cy="1218.0" r="2.5"/><circle cx="78.0" cy="1217.8" r="2.5"/><circle cx="80.0" cy="1217.9" r="2.5"/><circle cx="82.0" cy="1218.2" r="2.5"/><circle cx="84.0" cy="1218.1" r="2.5"/><circle cx="86.0" cy="1217.3" r="2.5"/><circle cx="88.0" cy="1218.1" r="2.5"/><circle cx="90.0" cy="1218.5" r="2.5"/><circle cx="92.0" cy="1218.1" r="2.5"/><circle cx="94.0" cy="1218.2" r="2.5"/><circle cx="96.0" cy="1217.8" r="2.5"/><circle cx="98.0" cy="1218.3" r="2.5"/><circle cx="100.0" cy="1218.2" r="2.5"/><circle cx="102.0" cy="1217.9" r="2.5"/><circle cx="104.0" cy="1217.6" r="2.5"/><circle cx="106.0" cy="1217.7" r="2.5"/><circle cx="108.0" cy="1217.9" r="2.5"/><circle cx="110.0" cy="1218.4" r="2.5"/><circle cx="112.0" cy="1217.7" r="2.5"/><circle cx="114.0" cy="1218.1" r="2.5"/><circle cx="116.0" cy="1218.2" r="2.5"/><circle cx="118.0" cy="1218.1" r="2.5"/><circle cx="120.0" cy="1218.3" r="2.5"/><circle cx="122.0" cy="1218.3" r="2.5"/><circle cx="124.0" cy="1218.4" r="2.5"/><circle cx="126.0" cy="1217.7" r="2.5"/><circle cx="128.0" cy="1217.8" r="2.5"/><circle cx="130.0" cy="1217.9" r="2.5"/><circle cx="132.0" cy="1217.3" r="2.5"/><circle cx="134.0" cy="1217.8" r="2.5"/><circle cx="136.0" cy="1217.9" r="2.5"/><circle cx="138.0" cy="1217.8" r="2.5"/><circle cx="140.0" cy="1217.6" r="2.5"/><circle cx="142.0" cy="1217.3" r="2.5"/><circle cx="144.0" cy="1217.4" r="2.5"/><circle cx="146.0" cy="1217.4" r="2.5"/><circle cx="148.0" cy="1217.1" r="2.5"/><circle cx="150.0" cy="1217.1" r="2.5"/><circle cx="152.0" cy="1215.9" r="2.5"/><circle cx="154.0" cy="1216.8" r="2.5"/><circle cx="156.0" cy="1216.5" r="2.5"/><circle cx="158.0" cy="1216.9" r="2.5"/><circle cx="160.0" cy="1216.4" r="2.5"/><circle cx="162.0" cy="1215.7" r="2.5"/><circle cx="164.0" cy="1215.1" r="2.5"/><circle cx="166.0" cy="1214.9" r="2.5"/><circle cx="168.0" cy="1214.2" r="2.5"/><circle cx="170.0" cy="1214.2" r="2.5"/><circle cx="172.0" cy="1214.0" r="2.5"/><circle cx="174.0" cy="1212.6" r="2.5"/><circle cx="176.0" cy="1213.1" r="2.5"/><circle cx="178.0" cy="1212.9" r="2.5"/><circle cx="180.0" cy="1212.1" r="2.5"/><circle cx="182.0" cy="1212.2" r="2.5"/><circle cx="184.0" cy="1211.6" r="2.5"/><circle cx="186.0" cy="1210.3" r="2.5"/><circle cx="188.0" cy="1210.0" r="2.5"/><circle cx="190.0" cy="1210.2" r="2.5"/><circle cx="192.0" cy="1209.4" r="2.5"/><circle cx="194.0" cy="1208.3" r="2.5"/><circle cx="196.0" cy="1207.9" r="2.5"/><circle cx="198.0" cy="1208.0" r="2.5"/><circle cx="200.0" cy="1206.6" r="2.5"/><circle cx="202.0" cy="1207.0" r="2.5"/><circle cx="204.0" cy="1205.8" r="2.5"/><circle cx="206.0" cy="1205.2" r="2.5"/><circle cx="208.0" cy="1204.7" r="2.5"/><circle cx="210.0" cy="1201.9" r="2.5"/><circle cx="212.0" cy="1204.0" r="2.5"/><circle cx="214.0" cy="1201.8" r="2.5"/><circle cx="216.0" cy="1200.9" r="2.5"/><circle cx="218.0" cy="1199.4" r="2.5"/><circle cx="220.0" cy="1199.1" r="2.5"/><circle cx="222.0" cy="1197.8" r="2.5"/><circle cx="224.0" cy="1197.6" r="2.5"/><circle cx="226.0" cy="1196.5" r="2.5"/><circle cx="228.0" cy="1195.8" r="2.5"/><circle cx="230.0" cy="1195.4" r="2.5"/><circle cx="232.0" cy="1194.4" r="2.5"/><circle cx="234.0" cy="1193.0" r="2.5"/><circle cx="236.0" cy="1192.5" r="2.5"/><circle cx="238.0" cy="1192.2" r="2.5"/><circle cx="240.0" cy="1191.8" r="2.5"/><circle cx="242.0" cy="1189.4" r="2.5"/><circle cx="244.0" cy="1188.7" r="2.5"/><circle cx="246.0" cy="1187.1" r="2.5"/><circle cx="248.0" cy="1186.4" r="2.5"/><circle cx="250.0" cy="1184.9" r="2.5"/><circle cx="252.0" cy="1181.8" r="2.5"/><circle cx="254.0" cy="1180.7" r="2.5"/><circle cx="256.0" cy="1179.3" r="2.5"/><circle cx="258.0" cy="1177.2" r="2.5"/><circle cx="260.0" cy="1174.2" r="2.5"/><circle cx="262.0" cy="1171.5" r="2.5"/><circle cx="264.0" cy="1168.8" r="2.5"/><circle cx="266.0" cy="1164.7" r="2.5"/><circle cx="268.0" cy="1162.2" r="2.5"/><circle cx="270.0" cy="1159.1" r="2.5"/><circle cx="272.0" cy="1154.6" r="2.5"/><circle cx="274.0" cy="1152.8" r="2.5"/><circle cx="276.0" cy="1148.9" r="2.5"/><circle cx="278.0" cy="1144.9" r="2.5"/><circle cx="280.0" cy="1142.1" r="2.5"/><circle cx="282.0" cy="1139.0" r="2.5"/><circle cx="284.0" cy="1136.4" r="2.5"/><circle cx="286.0" cy="1131.6" r="2.5"/><circle cx="288.0" cy="1129.2" r="2.5"/><circle cx="290.0" cy="1125.5" r="2.5"/><circle cx="292.0" cy="1122.5" r="2.5"/><circle cx="294.0" cy="1118.7" r="2.5"/><circle cx="296.0" cy="1115.3" r="2.5"/><circle cx="298.0" cy="1110.6" r="2.5"/><circle cx="300.0" cy="1107.7" r="2.5"/><circle cx="302.0" cy="1103.0" r="2.5"/><circle cx="304.0" cy="1097.1" r="2.5"/><circle cx="306.0" cy="1091.6" r="2.5"/><circle cx="308.0" cy="1085.9" r="2.5"/><circle cx="310.0" cy="1081.4" r="2.5"/><circle cx="312.0" cy="1075.0" r="2.5"/><circle cx="314.0" cy="1067.9" r="2.5"/><circle cx="316.0" cy="1063.2" r="2.5"/><circle cx="318.0" cy="1057.0" r="2.5"/><circle cx="320.0" cy="1052.1" r="2.5"/><circle cx="322.0" cy="1045.0" r="2.5"/><circle cx="324.0" cy="1039.6" r="2.5"/><circle cx="326.0" cy="1034.1" r="2.5"/><circle cx="328.0" cy="1029.0" r="2.5"/><circle cx="330.0" cy="1025.6" r="2.5"/><circle cx="332.0" cy="1021.9" r="2.5"/><circle cx="334.0" cy="1017.9" r="2.5"/><circle cx="336.0" cy="1014.0" r="2.5"/><circle cx="338.0" cy="1011.6" r="2.5"/><circle cx="340.0" cy="1008.3" r="2.5"/><circle cx="342.0" cy="1006.8" r="2.5"/><circle cx="344.0" cy="1003.4" r="2.5"/><circle cx="346.0" cy="1001.3" r="2.5"/><circle cx="348.0" cy="998.4" r="2.5"/><circle cx="350.0" cy="997.3" r="2.5"/><circle cx="352.0" cy="994.2" r="2.5"/><circle cx="354.0" cy="992.0" r="2.5"/><circle cx="356.0" cy="989.0" r="2.5"/><circle cx="358.0" cy="985.0" r="2.5"/><circle cx="360.0" cy="984.3" r="2.5"/><circle cx="362.0" cy="981.3" r="2.5"/><circle cx="364.0" cy="978.5" r="2.5"/><circle cx="366.0" cy="973.4" r="2.5"/><circle cx="368.0" cy="970.5" r="2.5"/><circle cx="370.0" cy="970.1" r="2.5"/><circle cx="372.0" cy="969.6" r="2.5"/><circle cx="374.0" cy="966.4" r="2.5"/><circle cx="376.0" cy="961.8" r="2.5"/><circle cx="378.0" cy="966.3" r="2.5"/><circle cx="380.0" cy="961.8" r="2.5"/><circle cx="382.0" cy="961.5" r="2.5"/><circle cx="384.0" cy="964.7" r="2.5"/><circle cx="386.0" cy="964.8" r="2.5"/><circle cx="388.0" cy="963.8" r="2.5"/><circle cx="390.0" cy="964.3" r="2.5"/><circle cx="392.0" cy="966.5" r="2.5"/><circle cx="394.0" cy="968.1" r="2.5"/><circle cx="396.0" cy="971.8" r="2.5"/><circle cx="398.0" cy="976.8" r="2.5"/><circle cx="400.0" cy="975.8" r="2.5"/><circle cx="402.0" cy="981.9" r="2.5"/><circle cx="404.0" cy="983.9" r="2.5"/><circle cx="406.0" cy="989.8" r="2.5"/><circle cx="408.0" cy="993.1" r="2.5"/><circle cx="410.0" cy="992.4" r="2.5"/><circle cx="412.0" cy="996.2" r="2.5"/><circle cx="414.0" cy="999.4" r="2.5"/><circle cx="416.0" cy="999.6" r="2.5"/><circle cx="418.0" cy="1002.3" r="2.5"/><circle cx="420.0" cy="1003.4" r="2.5"/><circle cx="422.0" cy="1004.3" r="2.5"/><circle cx="424.0" cy="1004.8" r="2.5"/><circle cx="426.0" cy="1007.3" r="2.5"/><circle cx="428.0" cy="1009.1" r="2.5"/><circle cx="430.0" cy="1008.7" r="2.5"/><circle cx="432.0" cy="1014.3" r="2.5"/><circle cx="434.0" cy="1015.0" r="2.5"/><circle cx="436.0" cy="1020.3" r="2.5"/><circle cx="438.0" cy="1023.7" r="2.5"/><circle cx="440.0" cy="1025.9" r="2.5"/><circle cx="442.0" cy="1031.5" r="2.5"/><circle cx="444.0" cy="1036.9" r="2.5"/><circle cx="446.0" cy="1040.6" r="2.5"/><circle cx="448.0" cy="1042.4" r="2.5"/><circle cx="450.0" cy="1052.2" r="2.5"/><circle cx="452.0" cy="1056.7" r="2.5"/><circle cx="454.0" cy="1061.1" r="2.5"/><circle cx="456.0" cy="1065.9" r="2.5"/><circle cx="458.0" cy="1071.3" r="2.5"/><circle cx="460.0" cy="1074.7" r="2.5"/><circle cx="462.0" cy="1079.5" r="2.5"/><circle cx="464.0" cy="1084.0" r="2.5"/><circle cx="466.0" cy="1088.9" r="2.5"/><circle cx="468.0" cy="1095.5" r="2.5"/><circle cx="470.0" cy="1099.8" r="2.5"/><circle cx="472.0" cy="1107.2" r="2.5"/><circle cx="474.0" cy="1113.9" r="2.5"/><circle cx="476.0" cy="1121.2" r="2.5"/><circle cx="478.0" cy="1128.3" r="2.5"/><circle cx="480.0" cy="1136.7" r="2.5"/><circle cx="482.0" cy="1145.1" r="2.5"/><circle cx="484.0" cy="1152.2" r="2.5"/><circle cx="486.0" cy="1160.5" r="2.5"/><circle cx="488.0" cy="1169.3" r="2.5"/><circle cx="490.0" cy="1175.6" r="2.5"/><circle cx="492.0" cy="1182.7" r="2.5"/><circle cx="494.0" cy="1189.6" r="2.5"/><circle cx="496.0" cy="1194.2" r="2.5"/><circle cx="498.0" cy="1198.7" r="2.5"/><circle cx="500.0" cy="1202.7" r="2.5"/><circle cx="502.0" cy="1206.0" r="2.5"/><circle cx="504.0" cy="1209.4" r="2.5"/><circle cx="506.0" cy="1210.1" r="2.5"/><circle cx="508.0" cy="1213.4" r="2.5"/><circle cx="510.0" cy="1214.4" r="2.5"/><circle cx="512.0" cy="1215.1" r="2.5"/><circle cx="514.0" cy="1217.1" r="2.5"/><circle cx="516.0" cy="1216.8" r="2.5"/><circle cx="518.0" cy="1216.8" r="2.5"/><circle cx="520.0" cy="1217.7" r="2.5"/><circle cx="522.0" cy="1217.6" r="2.5"/><circle cx="524.0" cy="1218.1" r="2.5"/><circle cx="526.0" cy="1218.2" r="2.5"/><circle cx="528.0" cy="1218.3" r="2.5"/></g>
<polyline points="54.0,1219.80 54.5,1219.80 55.0,1219.80 55.5,1219.80 56.0,1219.80 56.5,1219.80 57.0,1219.80 57.5,1219.80 58.0,1219.80 58.5,1219.80 59.0,1219.80 59.5,1219.80 60.0,1219.80 60.5,1219.80 61.0,1219.80 61.5,1219.80 62.0,1219.80 62.5,1219.80 63.0,1219.80 63.5,1219.80 64.0,1219.80 64.5,1219.80 65.0,1219.80 65.5,1219.80 66.0,1219.80 66.5,1219.80 67.0,1219.80 67.5,1219.80 68.0,1219.80 68.5,1219.80 69.0,1219.80 69.5,1219.80 70.0,1219.80 70.5,1219.80 71.0,1219.80 71.5,1219.80 72.0,1219.80 72.5,1219.80 73.0,1219.80 73.5,1219.80 74.0,1219.80 74.5,1219.80 75.0,1219.80 75.5,1219.80 76.0,1219.80 76.5,1219.80 77.0,1219.80 77.5,1219.80 78.0,1219.80 78.5,1219.80 79.0,1219.80 79.5,1219.80 80.0,1219.80 80.5,1219.80 81.0,1219.80 81.5,1219.80 82.0,1219.80 82.5,1219.80 83.0,1219.80 83.5,1219.80 84.0,1219.80 84.5,1219.80 85.0,1219.80 85.5,1219.80 86.0,1219.80 86.5,1219.80 87.0,1219.80 87.5,1219.80 88.0,1219.80 88.5,1219.80 89.0,1219.80 89.5,1219.80 90.0,1219.80 90.5,1219.80 91.0,1219.80 91.5,1219.80 92.0,1219.80 92.5,1219.80 93.0,1219.80 93.5,1219.80 94.0,1219.80 94.5,1219.80 95.0,1219.80 95.5,1219.80 96.0,1219.80 96.5,1219.80 97.0,1219.80 97.5,1219.80 98.0,1219.80 98.5,1219.80 99.0,1219.80 99.5,1219.80 100.0,1219.80 100.5,1219.79 101.0,1219.79 101.5,1219.79 102.0,1219.79 102.5,1219.79 103.0,1219.79 103.5,1219.79 104.0,1219.79 104.5,1219.79 105.0,1219.79 105.5,1219.79 106.0,1219.79 106.5,1219.79 107.0,1219.79 107.5,1219.79 108.0,1219.78 108.5,1219.78 109.0,1219.78 109.5,1219.78 110.0,1219.78 110.5,1219.78 111.0,1219.78 111.5,1219.78 112.0,1219.77 112.5,1219.77 113.0,1219.77 113.5,1219.77 114.0,1219.77 114.5,1219.76 115.0,1219.76 115.5,1219.76 116.0,1219.76 116.5,1219.75 117.0,1219.75 117.5,1219.75 118.0,1219.74 118.5,1219.74 119.0,1219.74 119.5,1219.73 120.0,1219.73 120.5,1219.72 121.0,1219.72 121.5,1219.71 122.0,1219.71 122.5,1219.70 123.0,1219.70 123.5,1219.69 124.0,1219.68 124.5,1219.68 125.0,1219.67 125.5,1219.66 126.0,1219.66 126.5,1219.65 127.0,1219.64 127.5,1219.63 128.0,1219.62 128.5,1219.61 129.0,1219.60 129.5,1219.59 130.0,1219.58 130.5,1219.57 131.0,1219.55 131.5,1219.54 132.0,1219.53 132.5,1219.51 133.0,1219.50 133.5,1219.48 134.0,1219.47 134.5,1219.45 135.0,1219.43 135.5,1219.42 136.0,1219.40 136.5,1219.38 137.0,1219.36 137.5,1219.34 138.0,1219.32 138.5,1219.29 139.0,1219.27 139.5,1219.25 140.0,1219.22 140.5,1219.20 141.0,1219.17 141.5,1219.14 142.0,1219.11 142.5,1219.08 143.0,1219.05 143.5,1219.02 144.0,1218.99 144.5,1218.95 145.0,1218.92 145.5,1218.88 146.0,1218.85 146.5,1218.81 147.0,1218.77 147.5,1218.73 148.0,1218.69 148.5,1218.64 149.0,1218.60 149.5,1218.55 150.0,1218.51 150.5,1218.46 151.0,1218.41 151.5,1218.36 152.0,1218.31 152.5,1218.26 153.0,1218.21 153.5,1218.15 154.0,1218.09 154.5,1218.04 155.0,1217.98 155.5,1217.92 156.0,1217.86 156.5,1217.80 157.0,1217.73 157.5,1217.67 158.0,1217.60 158.5,1217.54 159.0,1217.47 159.5,1217.40 160.0,1217.33 160.5,1217.26 161.0,1217.18 161.5,1217.11 162.0,1217.04 162.5,1216.96 163.0,1216.88 163.5,1216.80 164.0,1216.73 164.5,1216.64 165.0,1216.56 165.5,1216.48 166.0,1216.40 166.5,1216.31 167.0,1216.23 167.5,1216.14 168.0,1216.06 168.5,1215.97 169.0,1215.88 169.5,1215.79 170.0,1215.70 170.5,1215.61 171.0,1215.52 171.5,1215.43 172.0,1215.34 172.5,1215.24 173.0,1215.15 173.5,1215.05 174.0,1214.96 174.5,1214.86 175.0,1214.77 175.5,1214.67 176.0,1214.57 176.5,1214.48 177.0,1214.38 177.5,1214.28 178.0,1214.18 178.5,1214.08 179.0,1213.98 179.5,1213.88 180.0,1213.77 180.5,1213.67 181.0,1213.57 181.5,1213.47 182.0,1213.36 182.5,1213.26 183.0,1213.15 183.5,1213.05 184.0,1212.94 184.5,1212.83 185.0,1212.72 185.5,1212.61 186.0,1212.51 186.5,1212.39 187.0,1212.28 187.5,1212.17 188.0,1212.06 188.5,1211.94 189.0,1211.83 189.5,1211.71 190.0,1211.59 190.5,1211.47 191.0,1211.35 191.5,1211.23 192.0,1211.11 192.5,1210.98 193.0,1210.86 193.5,1210.73 194.0,1210.60 194.5,1210.47 195.0,1210.34 195.5,1210.20 196.0,1210.06 196.5,1209.93 197.0,1209.79 197.5,1209.64 198.0,1209.50 198.5,1209.35 199.0,1209.20 199.5,1209.05 200.0,1208.90 200.5,1208.74 201.0,1208.59 201.5,1208.43 202.0,1208.26 202.5,1208.10 203.0,1207.93 203.5,1207.76 204.0,1207.59 204.5,1207.42 205.0,1207.24 205.5,1207.06 206.0,1206.88 206.5,1206.70 207.0,1206.52 207.5,1206.33 208.0,1206.14 208.5,1205.95 209.0,1205.76 209.5,1205.56 210.0,1205.36 210.5,1205.17 211.0,1204.97 211.5,1204.76 212.0,1204.56 212.5,1204.36 213.0,1204.15 213.5,1203.94 214.0,1203.73 214.5,1203.52 215.0,1203.31 215.5,1203.10 216.0,1202.89 216.5,1202.68 217.0,1202.47 217.5,1202.26 218.0,1202.04 218.5,1201.83 219.0,1201.62 219.5,1201.41 220.0,1201.19 220.5,1200.98 221.0,1200.77 221.5,1200.56 222.0,1200.35 222.5,1200.14 223.0,1199.93 223.5,1199.72 224.0,1199.52 224.5,1199.31 225.0,1199.11 225.5,1198.90 226.0,1198.70 226.5,1198.50 227.0,1198.30 227.5,1198.10 228.0,1197.90 228.5,1197.70 229.0,1197.50 229.5,1197.31 230.0,1197.11 230.5,1196.91 231.0,1196.72 231.5,1196.52 232.0,1196.33 232.5,1196.13 233.0,1195.94 233.5,1195.74 234.0,1195.55 234.5,1195.35 235.0,1195.15 235.5,1194.95 236.0,1194.75 236.5,1194.55 237.0,1194.34 237.5,1194.14 238.0,1193.93 238.5,1193.71 239.0,1193.50 239.5,1193.27 240.0,1193.05 240.5,1192.82 241.0,1192.59 241.5,1192.35 242.0,1192.10 242.5,1191.85 243.0,1191.59 243.5,1191.33 244.0,1191.05 244.5,1190.77 245.0,1190.49 245.5,1190.19 246.0,1189.89 246.5,1189.57 247.0,1189.25 247.5,1188.92 248.0,1188.58 248.5,1188.23 249.0,1187.86 249.5,1187.49 250.0,1187.10 250.5,1186.71 251.0,1186.30 251.5,1185.88 252.0,1185.45 252.5,1185.00 253.0,1184.55 253.5,1184.08 254.0,1183.59 254.5,1183.10 255.0,1182.59 255.5,1182.07 256.0,1181.54 256.5,1180.99 257.0,1180.43 257.5,1179.86 258.0,1179.27 258.5,1178.67 259.0,1178.06 259.5,1177.44 260.0,1176.80 260.5,1176.16 261.0,1175.50 261.5,1174.83 262.0,1174.14 262.5,1173.45 263.0,1172.75 263.5,1172.03 264.0,1171.31 264.5,1170.57 265.0,1169.83 265.5,1169.07 266.0,1168.31 266.5,1167.54 267.0,1166.77 267.5,1165.98 268.0,1165.19 268.5,1164.39 269.0,1163.59 269.5,1162.78 270.0,1161.97 270.5,1161.15 271.0,1160.32 271.5,1159.50 272.0,1158.67 272.5,1157.84 273.0,1157.00 273.5,1156.17 274.0,1155.33 274.5,1154.49 275.0,1153.66 275.5,1152.82 276.0,1151.98 276.5,1151.14 277.0,1150.31 277.5,1149.47 278.0,1148.64 278.5,1147.80 279.0,1146.97 279.5,1146.15 280.0,1145.32 280.5,1144.50 281.0,1143.68 281.5,1142.86 282.0,1142.04 282.5,1141.23 283.0,1140.42 283.5,1139.61 284.0,1138.80 284.5,1137.99 285.0,1137.19 285.5,1136.39 286.0,1135.59 286.5,1134.79 287.0,1134.00 287.5,1133.20 288.0,1132.40 288.5,1131.60 289.0,1130.81 289.5,1130.01 290.0,1129.21 290.5,1128.40 291.0,1127.58 291.5,1126.75 292.0,1125.92 292.5,1125.07 293.0,1124.21 293.5,1123.33 294.0,1122.45 294.5,1121.55 295.0,1120.63 295.5,1119.70 296.0,1118.76 296.5,1117.80 297.0,1116.82 297.5,1115.83 298.0,1114.83 298.5,1113.80 299.0,1112.76 299.5,1111.70 300.0,1110.62 300.5,1109.53 301.0,1108.41 301.5,1107.28 302.0,1106.13 302.5,1104.96 303.0,1103.77 303.5,1102.57 304.0,1101.34 304.5,1100.10 305.0,1098.84 305.5,1097.56 306.0,1096.26 306.5,1094.95 307.0,1093.62 307.5,1092.27 308.0,1090.91 308.5,1089.53 309.0,1088.14 309.5,1086.73 310.0,1085.31 310.5,1083.87 311.0,1082.43 311.5,1080.97 312.0,1079.50 312.5,1078.03 313.0,1076.54 313.5,1075.05 314.0,1073.55 314.5,1072.05 315.0,1070.54 315.5,1069.03 316.0,1067.51 316.5,1066.00 317.0,1064.48 317.5,1062.97 318.0,1061.46 318.5,1059.95 319.0,1058.45 319.5,1056.96 320.0,1055.47 320.5,1053.99 321.0,1052.53 321.5,1051.07 322.0,1049.62 322.5,1048.19 323.0,1046.77 323.5,1045.37 324.0,1043.98 324.5,1042.61 325.0,1041.26 325.5,1039.93 326.0,1038.62 326.5,1037.33 327.0,1036.06 327.5,1034.81 328.0,1033.59 328.5,1032.38 329.0,1031.21 329.5,1030.05 330.0,1028.92 330.5,1027.82 331.0,1026.74 331.5,1025.68 332.0,1024.65 332.5,1023.65 333.0,1022.66 333.5,1021.71 334.0,1020.78 334.5,1019.87 335.0,1018.99 335.5,1018.13 336.0,1017.29 336.5,1016.48 337.0,1015.68 337.5,1014.91 338.0,1014.16 338.5,1013.43 339.0,1012.71 339.5,1012.02 340.0,1011.34 340.5,1010.67 341.0,1010.03 341.5,1009.39 342.0,1008.77 342.5,1008.16 343.0,1007.56 343.5,1006.97 344.0,1006.39 344.5,1005.82 345.0,1005.26 345.5,1004.69 346.0,1004.14 346.5,1003.59 347.0,1003.03 347.5,1002.49 348.0,1001.94 348.5,1001.39 349.0,1000.84 349.5,1000.28 350.0,999.73 350.5,999.17 351.0,998.61 351.5,998.04 352.0,997.46 352.5,996.88 353.0,996.30 353.5,995.70 354.0,995.11 354.5,994.50 355.0,993.89 355.5,993.26 356.0,992.64 356.5,992.00 357.0,991.36 357.5,990.71 358.0,990.06 358.5,989.40 359.0,988.73 359.5,988.06 360.0,987.39 360.5,986.71 361.0,986.03 361.5,985.35 362.0,984.67 362.5,983.99 363.0,983.31 363.5,982.63 364.0,981.96 364.5,981.29 365.0,980.63 365.5,979.97 366.0,979.32 366.5,978.69 367.0,978.06 367.5,977.45 368.0,976.85 368.5,976.26 369.0,975.70 369.5,975.15 370.0,974.62 370.5,974.11 371.0,973.62 371.5,973.16 372.0,972.72 372.5,972.31 373.0,971.93 373.5,971.57 374.0,971.24 374.5,970.95 375.0,970.68 375.5,970.45 376.0,970.25 376.5,970.09 377.0,969.96 377.5,969.86 378.0,969.80 378.5,969.78 379.0,969.80 379.5,969.85 380.0,969.94 380.5,970.07 381.0,970.24 381.5,970.43 382.0,970.65 382.5,970.90 383.0,971.17 383.5,971.47 384.0,971.79 384.5,972.14 385.0,972.51 385.5,972.91 386.0,973.32 386.5,973.77 387.0,974.23 387.5,974.71 388.0,975.21 388.5,975.74 389.0,976.28 389.5,976.83 390.0,977.41 390.5,977.99 391.0,978.60 391.5,979.21 392.0,979.84 392.5,980.47 393.0,981.12 393.5,981.77 394.0,982.43 394.5,983.10 395.0,983.76 395.5,984.43 396.0,985.11 396.5,985.78 397.0,986.45 397.5,987.12 398.0,987.79 398.5,988.45 399.0,989.10 399.5,989.75 400.0,990.39 400.5,991.02 401.0,991.64 401.5,992.25 402.0,992.85 402.5,993.44 403.0,994.01 403.5,994.57 404.0,995.11 404.5,995.64 405.0,996.16 405.5,996.66 406.0,997.14 406.5,997.61 407.0,998.06 407.5,998.49 408.0,998.91 408.5,999.31 409.0,999.70 409.5,1000.07 410.0,1000.42 410.5,1000.77 411.0,1001.09 411.5,1001.41 412.0,1001.71 412.5,1002.00 413.0,1002.28 413.5,1002.55 414.0,1002.81 414.5,1003.06 415.0,1003.31 415.5,1003.55 416.0,1003.79 416.5,1004.03 417.0,1004.26 417.5,1004.50 418.0,1004.73 418.5,1004.97 419.0,1005.22 419.5,1005.47 420.0,1005.73 420.5,1006.00 421.0,1006.29 421.5,1006.58 422.0,1006.89 422.5,1007.21 423.0,1007.56 423.5,1007.92 424.0,1008.30 424.5,1008.70 425.0,1009.13 425.5,1009.58 426.0,1010.06 426.5,1010.56 427.0,1011.09 427.5,1011.65 428.0,1012.24 428.5,1012.86 429.0,1013.52 429.5,1014.20 430.0,1014.92 430.5,1015.67 431.0,1016.45 431.5,1017.27 432.0,1018.12 432.5,1019.00 433.0,1019.92 433.5,1020.87 434.0,1021.85 434.5,1022.86 435.0,1023.89 435.5,1024.95 436.0,1026.02 436.5,1027.11 437.0,1028.22 437.5,1029.34 438.0,1030.48 438.5,1031.63 439.0,1032.80 439.5,1033.98 440.0,1035.17 440.5,1036.38 441.0,1037.59 441.5,1038.80 442.0,1040.03 442.5,1041.26 443.0,1042.49 443.5,1043.73 444.0,1044.96 444.5,1046.20 445.0,1047.44 445.5,1048.68 446.0,1049.91 446.5,1051.14 447.0,1052.36 447.5,1053.58 448.0,1054.80 448.5,1056.01 449.0,1057.21 449.5,1058.40 450.0,1059.59 450.5,1060.76 451.0,1061.94 451.5,1063.10 452.0,1064.25 452.5,1065.40 453.0,1066.54 453.5,1067.68 454.0,1068.81 454.5,1069.94 455.0,1071.06 455.5,1072.18 456.0,1073.30 456.5,1074.41 457.0,1075.53 457.5,1076.65 458.0,1077.78 458.5,1078.91 459.0,1080.05 459.5,1081.20 460.0,1082.35 460.5,1083.52 461.0,1084.71 461.5,1085.90 462.0,1087.12 462.5,1088.36 463.0,1089.61 463.5,1090.89 464.0,1092.19 464.5,1093.51 465.0,1094.86 465.5,1096.24 466.0,1097.65 466.5,1099.09 467.0,1100.55 467.5,1102.05 468.0,1103.58 468.5,1105.14 469.0,1106.73 469.5,1108.36 470.0,1110.02 470.5,1111.71 471.0,1113.43 471.5,1115.19 472.0,1116.97 472.5,1118.78 473.0,1120.62 473.5,1122.49 474.0,1124.39 474.5,1126.31 475.0,1128.25 475.5,1130.21 476.0,1132.19 476.5,1134.19 477.0,1136.20 477.5,1138.23 478.0,1140.26 478.5,1142.31 479.0,1144.36 479.5,1146.41 480.0,1148.46 480.5,1150.51 481.0,1152.55 481.5,1154.59 482.0,1156.62 482.5,1158.64 483.0,1160.64 483.5,1162.62 484.0,1164.59 484.5,1166.53 485.0,1168.45 485.5,1170.34 486.0,1172.21 486.5,1174.04 487.0,1175.85 487.5,1177.62 488.0,1179.35 488.5,1181.05 489.0,1182.71 489.5,1184.33 490.0,1185.91 490.5,1187.45 491.0,1188.95 491.5,1190.41 492.0,1191.82 492.5,1193.19 493.0,1194.51 493.5,1195.79 494.0,1197.03 494.5,1198.23 495.0,1199.37 495.5,1200.48 496.0,1201.54 496.5,1202.56 497.0,1203.54 497.5,1204.48 498.0,1205.38 498.5,1206.23 499.0,1207.05 499.5,1207.83 500.0,1208.57 500.5,1209.27 501.0,1209.94 501.5,1210.58 502.0,1211.18 502.5,1211.75 503.0,1212.29 503.5,1212.80 504.0,1213.28 504.5,1213.73 505.0,1214.15 505.5,1214.55 506.0,1214.93 506.5,1215.28 507.0,1215.61 507.5,1215.92 508.0,1216.21 508.5,1216.48 509.0,1216.74 509.5,1216.97 510.0,1217.19 510.5,1217.40 511.0,1217.59 511.5,1217.76 512.0,1217.93 512.5,1218.08 513.0,1218.22 513.5,1218.35 514.0,1218.47 514.5,1218.58 515.0,1218.68 515.5,1218.78 516.0,1218.87 516.5,1218.95 517.0,1219.02 517.5,1219.09 518.0,1219.15 518.5,1219.21 519.0,1219.26 519.5,1219.31 520.0,1219.35 520.5,1219.39 521.0,1219.43 521.5,1219.46 522.0,1219.49 522.5,1219.52 523.0,1219.55 523.5,1219.57 524.0,1219.59 524.5,1219.61 525.0,1219.63 525.5,1219.64 526.0,1219.66 526.5,1219.67 527.0,1219.68 527.5,1219.70 528.0,1219.71 528.5,1219.71 529.0,1219.72" fill="none" stroke="#8000ff" stroke-width="1.5"/>
</g>
<g fill="none" stroke="#222" stroke-width="0.8"><circle cx="394" cy="956" r="3.4"/><circle cx="394.5" cy="961.5" r="3.4"/><circle cx="395" cy="967" r="3.4"/><circle cx="406" cy="978.5" r="3.4"/><circle cx="407" cy="983" r="3.4"/><circle cx="407.5" cy="988" r="3.4"/><circle cx="417.5" cy="993" r="3.4"/><circle cx="418" cy="997.5" r="3.4"/><circle cx="384" cy="961" r="3.4"/><circle cx="388" cy="964" r="3.4"/></g>
<g fill="none" stroke="#000" stroke-width="3"><rect x="51.3" y="602.6" width="478.7" height="298.7"/><rect x="52.5" y="924.5" width="477.5" height="297.2"/></g>
<g stroke="#000" stroke-width="3">
<line x1="52.5" y1="901.3" x2="52.5" y2="912.3"/>
<line x1="86.6" y1="901.3" x2="86.6" y2="906.3"/>
<line x1="120.8" y1="901.3" x2="120.8" y2="912.3"/>
<line x1="154.9" y1="901.3" x2="154.9" y2="906.3"/>
<line x1="189.0" y1="901.3" x2="189.0" y2="912.3"/>
<line x1="223.2" y1="901.3" x2="223.2" y2="906.3"/>
<line x1="257.3" y1="901.3" x2="257.3" y2="912.3"/>
<line x1="291.4" y1="901.3" x2="291.4" y2="906.3"/>
<line x1="325.5" y1="901.3" x2="325.5" y2="912.3"/>
<line x1="359.7" y1="901.3" x2="359.7" y2="906.3"/>
<line x1="393.8" y1="901.3" x2="393.8" y2="912.3"/>
<line x1="427.9" y1="901.3" x2="427.9" y2="906.3"/>
<line x1="462.1" y1="901.3" x2="462.1" y2="912.3"/>
<line x1="496.2" y1="901.3" x2="496.2" y2="906.3"/>
<line x1="530.3" y1="901.3" x2="530.3" y2="912.3"/>
<line x1="52.5" y1="1221.7" x2="52.5" y2="1232.7"/>
<line x1="86.6" y1="1221.7" x2="86.6" y2="1226.7"/>
<line x1="120.8" y1="1221.7" x2="120.8" y2="1232.7"/>
<line x1="154.9" y1="1221.7" x2="154.9" y2="1226.7"/>
<line x1="189.0" y1="1221.7" x2="189.0" y2="1232.7"/>
<line x1="223.2" y1="1221.7" x2="223.2" y2="1226.7"/>
<line x1="257.3" y1="1221.7" x2="257.3" y2="1232.7"/>
<line x1="291.4" y1="1221.7" x2="291.4" y2="1226.7"/>
<line x1="325.5" y1="1221.7" x2="325.5" y2="1232.7"/>
<line x1="359.7" y1="1221.7" x2="359.7" y2="1226.7"/>
<line x1="393.8" y1="1221.7" x2="393.8" y2="1232.7"/>
<line x1="427.9" y1="1221.7" x2="427.9" y2="1226.7"/>
<line x1="462.1" y1="1221.7" x2="462.1" y2="1232.7"/>
<line x1="496.2" y1="1221.7" x2="496.2" y2="1226.7"/>
<line x1="530.3" y1="1221.7" x2="530.3" y2="1232.7"/>
</g>
<g font-family='"Liberation Sans", sans-serif' font-size="34" text-anchor="middle">
<text x="54.5" y="1266">2400</text>
<text x="191.0" y="1266">2800</text>
<text x="327.5" y="1266">3200</text>
<text x="464.1" y="1266">3600</text>
</g>
<text x="136.3" y="1307" font-family='"Liberation Sans", sans-serif' font-size="37.3">Wavenumber (cm<tspan font-size="23" dy="-9.5">-1</tspan><tspan dy="9.5">)</tspan></text>
<text transform="translate(31.9,914.5) rotate(-90)" text-anchor="middle" font-family='"Liberation Sans", sans-serif' font-size="37">Absorbance (a.u.)</text>
<text x="13.2" y="603.8" font-family='"Liberation Sans", sans-serif' font-size="48">b</text>
<text x="60.0" y="642.6" font-family='"Liberation Sans", sans-serif' font-size="30.9" fill="#ff0000">R.H.=37%</text>
<text x="62.4" y="966.4" font-family='"Liberation Sans", sans-serif' font-size="30.8" fill="#ff0000">R.H.=100%</text>
<text x="110.7" y="698.5" font-family='"Liberation Sans", sans-serif' font-size="29.0" text-anchor="start">HB·H<tspan font-size="18.0" dy="6.4">2</tspan><tspan dy="-6.4">O ≈ 4</tspan></text>
<text x="87.3" y="765.6" font-family='"Liberation Sans", sans-serif' font-size="29.0" text-anchor="start">HB·H<tspan font-size="18.0" dy="6.4">2</tspan><tspan dy="-6.4">O &gt; 4</tspan></text>
<text x="412.5" y="645.7" font-family='"Liberation Sans", sans-serif' font-size="29.0" text-anchor="start">HB·H<tspan font-size="18.0" dy="6.4">2</tspan><tspan dy="-6.4">O</tspan></text>
<text x="517.4" y="678.7" font-family='"Liberation Sans", sans-serif' font-size="29.2" text-anchor="end">&lt; 2</text>
<text x="63" y="820.6" font-family='"Liberation Sans", sans-serif' font-size="29.6">C-H</text>
<text x="96.7" y="1026.8" font-family='"Liberation Sans", sans-serif' font-size="29.0" text-anchor="start">HB·H<tspan font-size="18.0" dy="6.4">2</tspan><tspan dy="-6.4">O ≈ 2;</tspan></text>
<text x="194.9" y="1061.3" font-family='"Liberation Sans", sans-serif' font-size="29.6">N-H</text>
<line x1="238.0" y1="704.2" x2="299.0" y2="725.7" stroke="#0000ff" stroke-width="4.7"/><polygon points="318.3,732.5 293.0,736.5 301.1,713.5" fill="#0000ff"/>
<line x1="192.0" y1="779.7" x2="253.0" y2="801.2" stroke="#80ffff" stroke-width="4.7"/><polygon points="272.3,808.0 247.0,812.0 255.1,789.0" fill="#80ffff"/>
<line x1="105.9" y1="832.8" x2="162.1" y2="850.3" stroke="#808000" stroke-width="4.7"/><polygon points="181.7,856.4 156.6,861.4 163.8,838.1" fill="#808000"/>
<line x1="475.0" y1="688.5" x2="430.1" y2="715.8" stroke="#008000" stroke-width="4.7"/><polygon points="412.6,726.5 425.5,704.4 438.2,725.2" fill="#008000"/>
<line x1="475.0" y1="688.5" x2="459.2" y2="810.2" stroke="#ff0000" stroke-width="4.7"/><polygon points="456.6,830.5 447.4,806.6 471.6,809.8" fill="#ff0000"/>
<line x1="263.7" y1="1033.7" x2="339.1" y2="1029.8" stroke="#ff8000" stroke-width="4.7"/><polygon points="359.6,1028.8 337.8,1042.1 336.5,1017.8" fill="#ff8000"/>
<defs><radialGradient id="gC" cx="0.45" cy="0.42" r="0.6" fx="0.3" fy="0.68"><stop offset="0" stop-color="#f0f0f0"/><stop offset="0.12" stop-color="#9c9c9c"/><stop offset="0.7" stop-color="#7e7e7e"/><stop offset="0.9" stop-color="#5e5e5e"/><stop offset="1" stop-color="#3e3e3e"/></radialGradient><radialGradient id="gO" cx="0.45" cy="0.45" r="0.62" fx="0.3" fy="0.68"><stop offset="0" stop-color="#ffb0b0"/><stop offset="0.18" stop-color="#ff1a1a"/><stop offset="0.75" stop-color="#ee0000"/><stop offset="1" stop-color="#a00000"/></radialGradient><radialGradient id="gH" cx="0.42" cy="0.4" r="0.62" fx="0.32" fy="0.62"><stop offset="0" stop-color="#ffffff"/><stop offset="0.4" stop-color="#fbfbfb"/><stop offset="0.7" stop-color="#ececec"/><stop offset="0.88" stop-color="#bdbdbd"/><stop offset="1" stop-color="#7c7c7c"/></radialGradient><linearGradient id="gBand" x1="0" y1="0" x2="0" y2="1"><stop offset="0" stop-color="#6a6a6a"/><stop offset="0.12" stop-color="#9a9a9a"/><stop offset="0.25" stop-color="#777"/><stop offset="0.4" stop-color="#a0a0a0"/><stop offset="0.55" stop-color="#7a7a7a"/><stop offset="0.7" stop-color="#9c9c9c"/><stop offset="0.85" stop-color="#707070"/><stop offset="1" stop-color="#5a5a5a"/></linearGradient></defs>
<text x="558.8" y="604" font-family='"Liberation Sans", sans-serif' font-size="50.5">c</text>
<text x="675.6" y="638.2" font-family='"Liberation Sans", sans-serif' font-size="37.4">Cross View</text>
<text x="696.2" y="909.4" font-family='"Liberation Sans", sans-serif' font-size="37.8">Top View</text>
<rect x="598" y="680.5" width="326" height="19" fill="url(#gBand)"/>
<circle cx="612.0" cy="683.9" r="7.2" fill="url(#gC)"/>
<path d="M606.9,682.1A5.4,5.4 0 0 1 611.5,678.5" stroke="#d4d4d4" stroke-width="1.1" fill="none" stroke-linecap="round" opacity="0.85"/>
<circle cx="611.6" cy="688.2" r="7.2" fill="url(#gC)"/>
<path d="M606.5,686.4A5.4,5.4 0 0 1 611.1,682.8" stroke="#d4d4d4" stroke-width="1.1" fill="none" stroke-linecap="round" opacity="0.85"/>
<circle cx="611.2" cy="692.5" r="7.2" fill="url(#gC)"/>
<path d="M606.1,690.7A5.4,5.4 0 0 1 610.7,687.1" stroke="#d4d4d4" stroke-width="1.1" fill="none" stroke-linecap="round" opacity="0.85"/>
<circle cx="610.8" cy="696.9" r="7.2" fill="url(#gC)"/>
<path d="M605.7,695.1A5.4,5.4 0 0 1 610.3,691.5" stroke="#d4d4d4" stroke-width="1.1" fill="none" stroke-linecap="round" opacity="0.85"/>
<circle cx="625.7" cy="683.9" r="7.2" fill="url(#gC)"/>
<path d="M620.6,682.1A5.4,5.4 0 0 1 625.2,678.5" stroke="#d4d4d4" stroke-width="1.1" fill="none" stroke-linecap="round" opacity="0.85"/>
<circle cx="625.3" cy="688.2" r="7.2" fill="url(#gC)"/>
<path d="M620.2,686.4A5.4,5.4 0 0 1 624.8,682.8" stroke="#d4d4d4" stroke-width="1.1" fill="none" stroke-linecap="round" opacity="0.85"/>
<circle cx="624.9" cy="692.5" r="7.2" fill="url(#gC)"/>
<path d="M619.8,690.7A5.4,5.4 0 0 1 624.4,687.1" stroke="#d4d4d4" stroke-width="1.1" fill="none" stroke-linecap="round" opacity="0.85"/>
<circle cx="624.5" cy="696.9" r="7.2" fill="url(#gC)"/>
<path d="M619.4,695.1A5.4,5.4 0 0 1 624.0,691.5" stroke="#d4d4d4" stroke-width="1.1" fill="none" stroke-linecap="round" opacity="0.85"/>
<circle cx="653.3" cy="683.9" r="7.2" fill="url(#gC)"/>
<path d="M648.2,682.1A5.4,5.4 0 0 1 652.8,678.5" stroke="#d4d4d4" stroke-width="1.1" fill="none" stroke-linecap="round" opacity="0.85"/>
<circle cx="652.9" cy="688.2" r="7.2" fill="url(#gC)"/>
<path d="M647.8,686.4A5.4,5.4 0 0 1 652.4,682.8" stroke="#d4d4d4" stroke-width="1.1" fill="none" stroke-linecap="round" opacity="0.85"/>
<circle cx="652.5" cy="692.5" r="7.2" fill="url(#gC)"/>
<path d="M647.4,690.7A5.4,5.4 0 0 1 652.0,687.1" stroke="#d4d4d4" stroke-width="1.1" fill="none" stroke-linecap="round" opacity="0.85"/>
<circle cx="652.1" cy="696.9" r="7.2" fill="url(#gC)"/>
<path d="M647.0,695.1A5.4,5.4 0 0 1 651.6,691.5" stroke="#d4d4d4" stroke-width="1.1" fill="none" stroke-linecap="round" opacity="0.85"/>
<circle cx="667.0" cy="683.9" r="7.2" fill="url(#gC)"/>
<path d="M661.9,682.1A5.4,5.4 0 0 1 666.5,678.5" stroke="#d4d4d4" stroke-width="1.1" fill="none" stroke-linecap="round" opacity="0.85"/>
<circle cx="666.6" cy="688.2" r="7.2" fill="url(#gC)"/>
<path d="M661.5,686.4A5.4,5.4 0 0 1 666.1,682.8" stroke="#d4d4d4" stroke-width="1.1" fill="none" stroke-linecap="round" opacity="0.85"/>
<circle cx="666.2" cy="692.5" r="7.2" fill="url(#gC)"/>
<path d="M661.1,690.7A5.4,5.4 0 0 1 665.7,687.1" stroke="#d4d4d4" stroke-width="1.1" fill="none" stroke-linecap="round" opacity="0.85"/>
<circle cx="665.8" cy="696.9" r="7.2" fill="url(#gC)"/>
<path d="M660.7,695.1A5.4,5.4 0 0 1 665.3,691.5" stroke="#d4d4d4" stroke-width="1.1" fill="none" stroke-linecap="round" opacity="0.85"/>
<circle cx="694.6" cy="683.9" r="7.2" fill="url(#gC)"/>
<path d="M689.5,682.1A5.4,5.4 0 0 1 694.1,678.5" stroke="#d4d4d4" stroke-width="1.1" fill="none" stroke-linecap="round" opacity="0.85"/>
<circle cx="694.2" cy="688.2" r="7.2" fill="url(#gC)"/>
<path d="M689.1,686.4A5.4,5.4 0 0 1 693.7,682.8" stroke="#d4d4d4" stroke-width="1.1" fill="none" stroke-linecap="round" opacity="0.85"/>
<circle cx="693.8" cy="692.5" r="7.2" fill="url(#gC)"/>
<path d="M688.7,690.7A5.4,5.4 0 0 1 693.3,687.1" stroke="#d4d4d4" stroke-width="1.1" fill="none" stroke-linecap="round" opacity="0.85"/>
<circle cx="693.4" cy="696.9" r="7.2" fill="url(#gC)"/>
<path d="M688.3,695.1A5.4,5.4 0 0 1 692.9,691.5" stroke="#d4d4d4" stroke-width="1.1" fill="none" stroke-linecap="round" opacity="0.85"/>
<circle cx="708.3" cy="683.9" r="7.2" fill="url(#gC)"/>
<path d="M703.2,682.1A5.4,5.4 0 0 1 707.8,678.5" stroke="#d4d4d4" stroke-width="1.1" fill="none" stroke-linecap="round" opacity="0.85"/>
<circle cx="707.9" cy="688.2" r="7.2" fill="url(#gC)"/>
<path d="M702.8,686.4A5.4,5.4 0 0 1 707.4,682.8" stroke="#d4d4d4" stroke-width="1.1" fill="none" stroke-linecap="round" opacity="0.85"/>
<circle cx="707.5" cy="692.5" r="7.2" fill="url(#gC)"/>
<path d="M702.4,690.7A5.4,5.4 0 0 1 707.0,687.1" stroke="#d4d4d4" stroke-width="1.1" fill="none" stroke-linecap="round" opacity="0.85"/>
<circle cx="707.1" cy="696.9" r="7.2" fill="url(#gC)"/>
<path d="M702.0,695.1A5.4,5.4 0 0 1 706.6,691.5" stroke="#d4d4d4" stroke-width="1.1" fill="none" stroke-linecap="round" opacity="0.85"/>
<circle cx="735.9" cy="683.9" r="7.2" fill="url(#gC)"/>
<path d="M730.8,682.1A5.4,5.4 0 0 1 735.4,678.5" stroke="#d4d4d4" stroke-width="1.1" fill="none" stroke-linecap="round" opacity="0.85"/>
<circle cx="735.5" cy="688.2" r="7.2" fill="url(#gC)"/>
<path d="M730.4,686.4A5.4,5.4 0 0 1 735.0,682.8" stroke="#d4d4d4" stroke-width="1.1" fill="none" stroke-linecap="round" opacity="0.85"/>
<circle cx="735.1" cy="692.5" r="7.2" fill="url(#gC)"/>
<path d="M730.0,690.7A5.4,5.4 0 0 1 734.6,687.1" stroke="#d4d4d4" stroke-width="1.1" fill="none" stroke-linecap="round" opacity="0.85"/>
<circle cx="734.7" cy="696.9" r="7.2" fill="url(#gC)"/>
<path d="M729.6,695.1A5.4,5.4 0 0 1 734.2,691.5" stroke="#d4d4d4" stroke-width="1.1" fill="none" stroke-linecap="round" opacity="0.85"/>
<circle cx="749.6" cy="683.9" r="7.2" fill="url(#gC)"/>
<path d="M744.5,682.1A5.4,5.4 0 0 1 749.1,678.5" stroke="#d4d4d4" stroke-width="1.1" fill="none" stroke-linecap="round" opacity="0.85"/>
<circle cx="749.2" cy="688.2" r="7.2" fill="url(#gC)"/>
<path d="M744.1,686.4A5.4,5.4 0 0 1 748.7,682.8" stroke="#d4d4d4" stroke-width="1.1" fill="none" stroke-linecap="round" opacity="0.85"/>
<circle cx="748.8" cy="692.5" r="7.2" fill="url(#gC)"/>
<path d="M743.7,690.7A5.4,5.4 0 0 1 748.3,687.1" stroke="#d4d4d4" stroke-width="1.1" fill="none" stroke-linecap="round" opacity="0.85"/>
<circle cx="748.4" cy="696.9" r="7.2" fill="url(#gC)"/>
<path d="M743.3,695.1A5.4,5.4 0 0 1 747.9,691.5" stroke="#d4d4d4" stroke-width="1.1" fill="none" stroke-linecap="round" opacity="0.85"/>
<circle cx="777.2" cy="683.9" r="7.2" fill="url(#gC)"/>
<path d="M772.1,682.1A5.4,5.4 0 0 1 776.7,678.5" stroke="#d4d4d4" stroke-width="1.1" fill="none" stroke-linecap="round" opacity="0.85"/>
<circle cx="776.8" cy="688.2" r="7.2" fill="url(#gC)"/>
<path d="M771.7,686.4A5.4,5.4 0 0 1 776.3,682.8" stroke="#d4d4d4" stroke-width="1.1" fill="none" stroke-linecap="round" opacity="0.85"/>
<circle cx="776.4" cy="692.5" r="7.2" fill="url(#gC)"/>
<path d="M771.3,690.7A5.4,5.4 0 0 1 775.9,687.1" stroke="#d4d4d4" stroke-width="1.1" fill="none" stroke-linecap="round" opacity="0.85"/>
<circle cx="776.0" cy="696.9" r="7.2" fill="url(#gC)"/>
<path d="M770.9,695.1A5.4,5.4 0 0 1 775.5,691.5" stroke="#d4d4d4" stroke-width="1.1" fill="none" stroke-linecap="round" opacity="0.85"/>
<circle cx="790.9" cy="683.9" r="7.2" fill="url(#gC)"/>
<path d="M785.8,682.1A5.4,5.4 0 0 1 790.4,678.5" stroke="#d4d4d4" stroke-width="1.1" fill="none" stroke-linecap="round" opacity="0.85"/>
<circle cx="790.5" cy="688.2" r="7.2" fill="url(#gC)"/>
<path d="M785.4,686.4A5.4,5.4 0 0 1 790.0,682.8" stroke="#d4d4d4" stroke-width="1.1" fill="none" stroke-linecap="round" opacity="0.85"/>
<circle cx="790.1" cy="692.5" r="7.2" fill="url(#gC)"/>
<path d="M785.0,690.7A5.4,5.4 0 0 1 789.6,687.1" stroke="#d4d4d4" stroke-width="1.1" fill="none" stroke-linecap="round" opacity="0.85"/>
<circle cx="789.7" cy="696.9" r="7.2" fill="url(#gC)"/>
<path d="M784.6,695.1A5.4,5.4 0 0 1 789.2,691.5" stroke="#d4d4d4" stroke-width="1.1" fill="none" stroke-linecap="round" opacity="0.85"/>
<circle cx="818.5" cy="683.9" r="7.2" fill="url(#gC)"/>
<path d="M813.4,682.1A5.4,5.4 0 0 1 818.0,678.5" stroke="#d4d4d4" stroke-width="1.1" fill="none" stroke-linecap="round" opacity="0.85"/>
<circle cx="818.1" cy="688.2" r="7.2" fill="url(#gC)"/>
<path d="M813.0,686.4A5.4,5.4 0 0 1 817.6,682.8" stroke="#d4d4d4" stroke-width="1.1" fill="none" stroke-linecap="round" opacity="0.85"/>
<circle cx="817.7" cy="692.5" r="7.2" fill="url(#gC)"/>
<path d="M812.6,690.7A5.4,5.4 0 0 1 817.2,687.1" stroke="#d4d4d4" stroke-width="1.1" fill="none" stroke-linecap="round" opacity="0.85"/>
<circle cx="817.3" cy="696.9" r="7.2" fill="url(#gC)"/>
<path d="M812.2,695.1A5.4,5.4 0 0 1 816.8,691.5" stroke="#d4d4d4" stroke-width="1.1" fill="none" stroke-linecap="round" opacity="0.85"/>
<circle cx="832.2" cy="683.9" r="7.2" fill="url(#gC)"/>
<path d="M827.1,682.1A5.4,5.4 0 0 1 831.7,678.5" stroke="#d4d4d4" stroke-width="1.1" fill="none" stroke-linecap="round" opacity="0.85"/>
<circle cx="831.8" cy="688.2" r="7.2" fill="url(#gC)"/>
<path d="M826.7,686.4A5.4,5.4 0 0 1 831.3,682.8" stroke="#d4d4d4" stroke-width="1.1" fill="none" stroke-linecap="round" opacity="0.85"/>
<circle cx="831.4" cy="692.5" r="7.2" fill="url(#gC)"/>
<path d="M826.3,690.7A5.4,5.4 0 0 1 830.9,687.1" stroke="#d4d4d4" stroke-width="1.1" fill="none" stroke-linecap="round" opacity="0.85"/>
<circle cx="831.0" cy="696.9" r="7.2" fill="url(#gC)"/>
<path d="M825.9,695.1A5.4,5.4 0 0 1 830.5,691.5" stroke="#d4d4d4" stroke-width="1.1" fill="none" stroke-linecap="round" opacity="0.85"/>
<circle cx="859.8" cy="683.9" r="7.2" fill="url(#gC)"/>
<path d="M854.7,682.1A5.4,5.4 0 0 1 859.3,678.5" stroke="#d4d4d4" stroke-width="1.1" fill="none" stroke-linecap="round" opacity="0.85"/>
<circle cx="859.4" cy="688.2" r="7.2" fill="url(#gC)"/>
<path d="M854.3,686.4A5.4,5.4 0 0 1 858.9,682.8" stroke="#d4d4d4" stroke-width="1.1" fill="none" stroke-linecap="round" opacity="0.85"/>
<circle cx="859.0" cy="692.5" r="7.2" fill="url(#gC)"/>
<path d="M853.9,690.7A5.4,5.4 0 0 1 858.5,687.1" stroke="#d4d4d4" stroke-width="1.1" fill="none" stroke-linecap="round" opacity="0.85"/>
<circle cx="858.6" cy="696.9" r="7.2" fill="url(#gC)"/>
<path d="M853.5,695.1A5.4,5.4 0 0 1 858.1,691.5" stroke="#d4d4d4" stroke-width="1.1" fill="none" stroke-linecap="round" opacity="0.85"/>
<circle cx="873.5" cy="683.9" r="7.2" fill="url(#gC)"/>
<path d="M868.4,682.1A5.4,5.4 0 0 1 873.0,678.5" stroke="#d4d4d4" stroke-width="1.1" fill="none" stroke-linecap="round" opacity="0.85"/>
<circle cx="873.1" cy="688.2" r="7.2" fill="url(#gC)"/>
<path d="M868.0,686.4A5.4,5.4 0 0 1 872.6,682.8" stroke="#d4d4d4" stroke-width="1.1" fill="none" stroke-linecap="round" opacity="0.85"/>
<circle cx="872.7" cy="692.5" r="7.2" fill="url(#gC)"/>
<path d="M867.6,690.7A5.4,5.4 0 0 1 872.2,687.1" stroke="#d4d4d4" stroke-width="1.1" fill="none" stroke-linecap="round" opacity="0.85"/>
<circle cx="872.3" cy="696.9" r="7.2" fill="url(#gC)"/>
<path d="M867.2,695.1A5.4,5.4 0 0 1 871.8,691.5" stroke="#d4d4d4" stroke-width="1.1" fill="none" stroke-linecap="round" opacity="0.85"/>
<circle cx="901.1" cy="683.9" r="7.2" fill="url(#gC)"/>
<path d="M896.0,682.1A5.4,5.4 0 0 1 900.6,678.5" stroke="#d4d4d4" stroke-width="1.1" fill="none" stroke-linecap="round" opacity="0.85"/>
<circle cx="900.7" cy="688.2" r="7.2" fill="url(#gC)"/>
<path d="M895.6,686.4A5.4,5.4 0 0 1 900.2,682.8" stroke="#d4d4d4" stroke-width="1.1" fill="none" stroke-linecap="round" opacity="0.85"/>
<circle cx="900.3" cy="692.5" r="7.2" fill="url(#gC)"/>
<path d="M895.2,690.7A5.4,5.4 0 0 1 899.8,687.1" stroke="#d4d4d4" stroke-width="1.1" fill="none" stroke-linecap="round" opacity="0.85"/>
<circle cx="899.9" cy="696.9" r="7.2" fill="url(#gC)"/>
<path d="M894.8,695.1A5.4,5.4 0 0 1 899.4,691.5" stroke="#d4d4d4" stroke-width="1.1" fill="none" stroke-linecap="round" opacity="0.85"/>
<circle cx="914.8" cy="683.9" r="7.2" fill="url(#gC)"/>
<path d="M909.7,682.1A5.4,5.4 0 0 1 914.3,678.5" stroke="#d4d4d4" stroke-width="1.1" fill="none" stroke-linecap="round" opacity="0.85"/>
<circle cx="914.4" cy="688.2" r="7.2" fill="url(#gC)"/>
<path d="M909.3,686.4A5.4,5.4 0 0 1 913.9,682.8" stroke="#d4d4d4" stroke-width="1.1" fill="none" stroke-linecap="round" opacity="0.85"/>
<circle cx="914.0" cy="692.5" r="7.2" fill="url(#gC)"/>
<path d="M908.9,690.7A5.4,5.4 0 0 1 913.5,687.1" stroke="#d4d4d4" stroke-width="1.1" fill="none" stroke-linecap="round" opacity="0.85"/>
<circle cx="913.6" cy="696.9" r="7.2" fill="url(#gC)"/>
<path d="M908.5,695.1A5.4,5.4 0 0 1 913.1,691.5" stroke="#d4d4d4" stroke-width="1.1" fill="none" stroke-linecap="round" opacity="0.85"/>
<rect x="598" y="807.0" width="326" height="19" fill="url(#gBand)"/>
<circle cx="612.0" cy="810.4" r="7.2" fill="url(#gC)"/>
<path d="M606.9,808.6A5.4,5.4 0 0 1 611.5,805.0" stroke="#d4d4d4" stroke-width="1.1" fill="none" stroke-linecap="round" opacity="0.85"/>
<circle cx="611.6" cy="814.7" r="7.2" fill="url(#gC)"/>
<path d="M606.5,812.9A5.4,5.4 0 0 1 611.1,809.3" stroke="#d4d4d4" stroke-width="1.1" fill="none" stroke-linecap="round" opacity="0.85"/>
<circle cx="611.2" cy="819.0" r="7.2" fill="url(#gC)"/>
<path d="M606.1,817.2A5.4,5.4 0 0 1 610.7,813.6" stroke="#d4d4d4" stroke-width="1.1" fill="none" stroke-linecap="round" opacity="0.85"/>
<circle cx="610.8" cy="823.4" r="7.2" fill="url(#gC)"/>
<path d="M605.7,821.6A5.4,5.4 0 0 1 610.3,818.0" stroke="#d4d4d4" stroke-width="1.1" fill="none" stroke-linecap="round" opacity="0.85"/>
<circle cx="625.7" cy="810.4" r="7.2" fill="url(#gC)"/>
<path d="M620.6,808.6A5.4,5.4 0 0 1 625.2,805.0" stroke="#d4d4d4" stroke-width="1.1" fill="none" stroke-linecap="round" opacity="0.85"/>
<circle cx="625.3" cy="814.7" r="7.2" fill="url(#gC)"/>
<path d="M620.2,812.9A5.4,5.4 0 0 1 624.8,809.3" stroke="#d4d4d4" stroke-width="1.1" fill="none" stroke-linecap="round" opacity="0.85"/>
<circle cx="624.9" cy="819.0" r="7.2" fill="url(#gC)"/>
<path d="M619.8,817.2A5.4,5.4 0 0 1 624.4,813.6" stroke="#d4d4d4" stroke-width="1.1" fill="none" stroke-linecap="round" opacity="0.85"/>
<circle cx="624.5" cy="823.4" r="7.2" fill="url(#gC)"/>
<path d="M619.4,821.6A5.4,5.4 0 0 1 624.0,818.0" stroke="#d4d4d4" stroke-width="1.1" fill="none" stroke-linecap="round" opacity="0.85"/>
<circle cx="653.3" cy="810.4" r="7.2" fill="url(#gC)"/>
<path d="M648.2,808.6A5.4,5.4 0 0 1 652.8,805.0" stroke="#d4d4d4" stroke-width="1.1" fill="none" stroke-linecap="round" opacity="0.85"/>
<circle cx="652.9" cy="814.7" r="7.2" fill="url(#gC)"/>
<path d="M647.8,812.9A5.4,5.4 0 0 1 652.4,809.3" stroke="#d4d4d4" stroke-width="1.1" fill="none" stroke-linecap="round" opacity="0.85"/>
<circle cx="652.5" cy="819.0" r="7.2" fill="url(#gC)"/>
<path d="M647.4,817.2A5.4,5.4 0 0 1 652.0,813.6" stroke="#d4d4d4" stroke-width="1.1" fill="none" stroke-linecap="round" opacity="0.85"/>
<circle cx="652.1" cy="823.4" r="7.2" fill="url(#gC)"/>
<path d="M647.0,821.6A5.4,5.4 0 0 1 651.6,818.0" stroke="#d4d4d4" stroke-width="1.1" fill="none" stroke-linecap="round" opacity="0.85"/>
<circle cx="667.0" cy="810.4" r="7.2" fill="url(#gC)"/>
<path d="M661.9,808.6A5.4,5.4 0 0 1 666.5,805.0" stroke="#d4d4d4" stroke-width="1.1" fill="none" stroke-linecap="round" opacity="0.85"/>
<circle cx="666.6" cy="814.7" r="7.2" fill="url(#gC)"/>
<path d="M661.5,812.9A5.4,5.4 0 0 1 666.1,809.3" stroke="#d4d4d4" stroke-width="1.1" fill="none" stroke-linecap="round" opacity="0.85"/>
<circle cx="666.2" cy="819.0" r="7.2" fill="url(#gC)"/>
<path d="M661.1,817.2A5.4,5.4 0 0 1 665.7,813.6" stroke="#d4d4d4" stroke-width="1.1" fill="none" stroke-linecap="round" opacity="0.85"/>
<circle cx="665.8" cy="823.4" r="7.2" fill="url(#gC)"/>
<path d="M660.7,821.6A5.4,5.4 0 0 1 665.3,818.0" stroke="#d4d4d4" stroke-width="1.1" fill="none" stroke-linecap="round" opacity="0.85"/>
<circle cx="694.6" cy="810.4" r="7.2" fill="url(#gC)"/>
<path d="M689.5,808.6A5.4,5.4 0 0 1 694.1,805.0" stroke="#d4d4d4" stroke-width="1.1" fill="none" stroke-linecap="round" opacity="0.85"/>
<circle cx="694.2" cy="814.7" r="7.2" fill="url(#gC)"/>
<path d="M689.1,812.9A5.4,5.4 0 0 1 693.7,809.3" stroke="#d4d4d4" stroke-width="1.1" fill="none" stroke-linecap="round" opacity="0.85"/>
<circle cx="693.8" cy="819.0" r="7.2" fill="url(#gC)"/>
<path d="M688.7,817.2A5.4,5.4 0 0 1 693.3,813.6" stroke="#d4d4d4" stroke-width="1.1" fill="none" stroke-linecap="round" opacity="0.85"/>
<circle cx="693.4" cy="823.4" r="7.2" fill="url(#gC)"/>
<path d="M688.3,821.6A5.4,5.4 0 0 1 692.9,818.0" stroke="#d4d4d4" stroke-width="1.1" fill="none" stroke-linecap="round" opacity="0.85"/>
<circle cx="708.3" cy="810.4" r="7.2" fill="url(#gC)"/>
<path d="M703.2,808.6A5.4,5.4 0 0 1 707.8,805.0" stroke="#d4d4d4" stroke-width="1.1" fill="none" stroke-linecap="round" opacity="0.85"/>
<circle cx="707.9" cy="814.7" r="7.2" fill="url(#gC)"/>
<path d="M702.8,812.9A5.4,5.4 0 0 1 707.4,809.3" stroke="#d4d4d4" stroke-width="1.1" fill="none" stroke-linecap="round" opacity="0.85"/>
<circle cx="707.5" cy="819.0" r="7.2" fill="url(#gC)"/>
<path d="M702.4,817.2A5.4,5.4 0 0 1 707.0,813.6" stroke="#d4d4d4" stroke-width="1.1" fill="none" stroke-linecap="round" opacity="0.85"/>
<circle cx="707.1" cy="823.4" r="7.2" fill="url(#gC)"/>
<path d="M702.0,821.6A5.4,5.4 0 0 1 706.6,818.0" stroke="#d4d4d4" stroke-width="1.1" fill="none" stroke-linecap="round" opacity="0.85"/>
<circle cx="735.9" cy="810.4" r="7.2" fill="url(#gC)"/>
<path d="M730.8,808.6A5.4,5.4 0 0 1 735.4,805.0" stroke="#d4d4d4" stroke-width="1.1" fill="none" stroke-linecap="round" opacity="0.85"/>
<circle cx="735.5" cy="814.7" r="7.2" fill="url(#gC)"/>
<path d="M730.4,812.9A5.4,5.4 0 0 1 735.0,809.3" stroke="#d4d4d4" stroke-width="1.1" fill="none" stroke-linecap="round" opacity="0.85"/>
<circle cx="735.1" cy="819.0" r="7.2" fill="url(#gC)"/>
<path d="M730.0,817.2A5.4,5.4 0 0 1 734.6,813.6" stroke="#d4d4d4" stroke-width="1.1" fill="none" stroke-linecap="round" opacity="0.85"/>
<circle cx="734.7" cy="823.4" r="7.2" fill="url(#gC)"/>
<path d="M729.6,821.6A5.4,5.4 0 0 1 734.2,818.0" stroke="#d4d4d4" stroke-width="1.1" fill="none" stroke-linecap="round" opacity="0.85"/>
<circle cx="749.6" cy="810.4" r="7.2" fill="url(#gC)"/>
<path d="M744.5,808.6A5.4,5.4 0 0 1 749.1,805.0" stroke="#d4d4d4" stroke-width="1.1" fill="none" stroke-linecap="round" opacity="0.85"/>
<circle cx="749.2" cy="814.7" r="7.2" fill="url(#gC)"/>
<path d="M744.1,812.9A5.4,5.4 0 0 1 748.7,809.3" stroke="#d4d4d4" stroke-width="1.1" fill="none" stroke-linecap="round" opacity="0.85"/>
<circle cx="748.8" cy="819.0" r="7.2" fill="url(#gC)"/>
<path d="M743.7,817.2A5.4,5.4 0 0 1 748.3,813.6" stroke="#d4d4d4" stroke-width="1.1" fill="none" stroke-linecap="round" opacity="0.85"/>
<circle cx="748.4" cy="823.4" r="7.2" fill="url(#gC)"/>
<path d="M743.3,821.6A5.4,5.4 0 0 1 747.9,818.0" stroke="#d4d4d4" stroke-width="1.1" fill="none" stroke-linecap="round" opacity="0.85"/>
<circle cx="777.2" cy="810.4" r="7.2" fill="url(#gC)"/>
<path d="M772.1,808.6A5.4,5.4 0 0 1 776.7,805.0" stroke="#d4d4d4" stroke-width="1.1" fill="none" stroke-linecap="round" opacity="0.85"/>
<circle cx="776.8" cy="814.7" r="7.2" fill="url(#gC)"/>
<path d="M771.7,812.9A5.4,5.4 0 0 1 776.3,809.3" stroke="#d4d4d4" stroke-width="1.1" fill="none" stroke-linecap="round" opacity="0.85"/>
<circle cx="776.4" cy="819.0" r="7.2" fill="url(#gC)"/>
<path d="M771.3,817.2A5.4,5.4 0 0 1 775.9,813.6" stroke="#d4d4d4" stroke-width="1.1" fill="none" stroke-linecap="round" opacity="0.85"/>
<circle cx="776.0" cy="823.4" r="7.2" fill="url(#gC)"/>
<path d="M770.9,821.6A5.4,5.4 0 0 1 775.5,818.0" stroke="#d4d4d4" stroke-width="1.1" fill="none" stroke-linecap="round" opacity="0.85"/>
<circle cx="790.9" cy="810.4" r="7.2" fill="url(#gC)"/>
<path d="M785.8,808.6A5.4,5.4 0 0 1 790.4,805.0" stroke="#d4d4d4" stroke-width="1.1" fill="none" stroke-linecap="round" opacity="0.85"/>
<circle cx="790.5" cy="814.7" r="7.2" fill="url(#gC)"/>
<path d="M785.4,812.9A5.4,5.4 0 0 1 790.0,809.3" stroke="#d4d4d4" stroke-width="1.1" fill="none" stroke-linecap="round" opacity="0.85"/>
<circle cx="790.1" cy="819.0" r="7.2" fill="url(#gC)"/>
<path d="M785.0,817.2A5.4,5.4 0 0 1 789.6,813.6" stroke="#d4d4d4" stroke-width="1.1" fill="none" stroke-linecap="round" opacity="0.85"/>
<circle cx="789.7" cy="823.4" r="7.2" fill="url(#gC)"/>
<path d="M784.6,821.6A5.4,5.4 0 0 1 789.2,818.0" stroke="#d4d4d4" stroke-width="1.1" fill="none" stroke-linecap="round" opacity="0.85"/>
<circle cx="818.5" cy="810.4" r="7.2" fill="url(#gC)"/>
<path d="M813.4,808.6A5.4,5.4 0 0 1 818.0,805.0" stroke="#d4d4d4" stroke-width="1.1" fill="none" stroke-linecap="round" opacity="0.85"/>
<circle cx="818.1" cy="814.7" r="7.2" fill="url(#gC)"/>
<path d="M813.0,812.9A5.4,5.4 0 0 1 817.6,809.3" stroke="#d4d4d4" stroke-width="1.1" fill="none" stroke-linecap="round" opacity="0.85"/>
<circle cx="817.7" cy="819.0" r="7.2" fill="url(#gC)"/>
<path d="M812.6,817.2A5.4,5.4 0 0 1 817.2,813.6" stroke="#d4d4d4" stroke-width="1.1" fill="none" stroke-linecap="round" opacity="0.85"/>
<circle cx="817.3" cy="823.4" r="7.2" fill="url(#gC)"/>
<path d="M812.2,821.6A5.4,5.4 0 0 1 816.8,818.0" stroke="#d4d4d4" stroke-width="1.1" fill="none" stroke-linecap="round" opacity="0.85"/>
<circle cx="832.2" cy="810.4" r="7.2" fill="url(#gC)"/>
<path d="M827.1,808.6A5.4,5.4 0 0 1 831.7,805.0" stroke="#d4d4d4" stroke-width="1.1" fill="none" stroke-linecap="round" opacity="0.85"/>
<circle cx="831.8" cy="814.7" r="7.2" fill="url(#gC)"/>
<path d="M826.7,812.9A5.4,5.4 0 0 1 831.3,809.3" stroke="#d4d4d4" stroke-width="1.1" fill="none" stroke-linecap="round" opacity="0.85"/>
<circle cx="831.4" cy="819.0" r="7.2" fill="url(#gC)"/>
<path d="M826.3,817.2A5.4,5.4 0 0 1 830.9,813.6" stroke="#d4d4d4" stroke-width="1.1" fill="none" stroke-linecap="round" opacity="0.85"/>
<circle cx="831.0" cy="823.4" r="7.2" fill="url(#gC)"/>
<path d="M825.9,821.6A5.4,5.4 0 0 1 830.5,818.0" stroke="#d4d4d4" stroke-width="1.1" fill="none" stroke-linecap="round" opacity="0.85"/>
<circle cx="859.8" cy="810.4" r="7.2" fill="url(#gC)"/>
<path d="M854.7,808.6A5.4,5.4 0 0 1 859.3,805.0" stroke="#d4d4d4" stroke-width="1.1" fill="none" stroke-linecap="round" opacity="0.85"/>
<circle cx="859.4" cy="814.7" r="7.2" fill="url(#gC)"/>
<path d="M854.3,812.9A5.4,5.4 0 0 1 858.9,809.3" stroke="#d4d4d4" stroke-width="1.1" fill="none" stroke-linecap="round" opacity="0.85"/>
<circle cx="859.0" cy="819.0" r="7.2" fill="url(#gC)"/>
<path d="M853.9,817.2A5.4,5.4 0 0 1 858.5,813.6" stroke="#d4d4d4" stroke-width="1.1" fill="none" stroke-linecap="round" opacity="0.85"/>
<circle cx="858.6" cy="823.4" r="7.2" fill="url(#gC)"/>
<path d="M853.5,821.6A5.4,5.4 0 0 1 858.1,818.0" stroke="#d4d4d4" stroke-width="1.1" fill="none" stroke-linecap="round" opacity="0.85"/>
<circle cx="873.5" cy="810.4" r="7.2" fill="url(#gC)"/>
<path d="M868.4,808.6A5.4,5.4 0 0 1 873.0,805.0" stroke="#d4d4d4" stroke-width="1.1" fill="none" stroke-linecap="round" opacity="0.85"/>
<circle cx="873.1" cy="814.7" r="7.2" fill="url(#gC)"/>
<path d="M868.0,812.9A5.4,5.4 0 0 1 872.6,809.3" stroke="#d4d4d4" stroke-width="1.1" fill="none" stroke-linecap="round" opacity="0.85"/>
<circle cx="872.7" cy="819.0" r="7.2" fill="url(#gC)"/>
<path d="M867.6,817.2A5.4,5.4 0 0 1 872.2,813.6" stroke="#d4d4d4" stroke-width="1.1" fill="none" stroke-linecap="round" opacity="0.85"/>
<circle cx="872.3" cy="823.4" r="7.2" fill="url(#gC)"/>
<path d="M867.2,821.6A5.4,5.4 0 0 1 871.8,818.0" stroke="#d4d4d4" stroke-width="1.1" fill="none" stroke-linecap="round" opacity="0.85"/>
<circle cx="901.1" cy="810.4" r="7.2" fill="url(#gC)"/>
<path d="M896.0,808.6A5.4,5.4 0 0 1 900.6,805.0" stroke="#d4d4d4" stroke-width="1.1" fill="none" stroke-linecap="round" opacity="0.85"/>
<circle cx="900.7" cy="814.7" r="7.2" fill="url(#gC)"/>
<path d="M895.6,812.9A5.4,5.4 0 0 1 900.2,809.3" stroke="#d4d4d4" stroke-width="1.1" fill="none" stroke-linecap="round" opacity="0.85"/>
<circle cx="900.3" cy="819.0" r="7.2" fill="url(#gC)"/>
<path d="M895.2,817.2A5.4,5.4 0 0 1 899.8,813.6" stroke="#d4d4d4" stroke-width="1.1" fill="none" stroke-linecap="round" opacity="0.85"/>
<circle cx="899.9" cy="823.4" r="7.2" fill="url(#gC)"/>
<path d="M894.8,821.6A5.4,5.4 0 0 1 899.4,818.0" stroke="#d4d4d4" stroke-width="1.1" fill="none" stroke-linecap="round" opacity="0.85"/>
<circle cx="914.8" cy="810.4" r="7.2" fill="url(#gC)"/>
<path d="M909.7,808.6A5.4,5.4 0 0 1 914.3,805.0" stroke="#d4d4d4" stroke-width="1.1" fill="none" stroke-linecap="round" opacity="0.85"/>
<circle cx="914.4" cy="814.7" r="7.2" fill="url(#gC)"/>
<path d="M909.3,812.9A5.4,5.4 0 0 1 913.9,809.3" stroke="#d4d4d4" stroke-width="1.1" fill="none" stroke-linecap="round" opacity="0.85"/>
<circle cx="914.0" cy="819.0" r="7.2" fill="url(#gC)"/>
<path d="M908.9,817.2A5.4,5.4 0 0 1 913.5,813.6" stroke="#d4d4d4" stroke-width="1.1" fill="none" stroke-linecap="round" opacity="0.85"/>
<circle cx="913.6" cy="823.4" r="7.2" fill="url(#gC)"/>
<path d="M908.5,821.6A5.4,5.4 0 0 1 913.1,818.0" stroke="#d4d4d4" stroke-width="1.1" fill="none" stroke-linecap="round" opacity="0.85"/>
<circle cx="588.5" cy="684.5" r="6.5" fill="url(#gO)"/><circle cx="591.5" cy="685.0" r="6.3" fill="url(#gH)"/><circle cx="589.7" cy="693.0" r="7" fill="url(#gH)"/>
<circle cx="936.0" cy="684.5" r="7" fill="url(#gO)"/><circle cx="932.0" cy="693.5" r="7" fill="url(#gH)"/>
<circle cx="590.0" cy="812.0" r="7" fill="url(#gH)"/><circle cx="590.0" cy="820.0" r="7" fill="url(#gH)"/><circle cx="590.0" cy="827.0" r="7" fill="url(#gH)"/>
<circle cx="936.5" cy="818.5" r="7" fill="url(#gH)"/><circle cx="936.5" cy="818.5" r="6.6" fill="none" stroke="#d08080" stroke-width="0.7" opacity="0.7"/>
<line x1="612.4" y1="737.4" x2="615.7" y2="736.5" stroke="#e00000" stroke-width="5"/>
<line x1="615.7" y1="736.5" x2="619.0" y2="735.5" stroke="#e4e4e4" stroke-width="5"/>
<line x1="611.5" y1="764.5" x2="610.1" y2="761.7" stroke="#e00000" stroke-width="5"/>
<line x1="610.1" y1="761.7" x2="608.7" y2="758.9" stroke="#e4e4e4" stroke-width="5"/>
<line x1="611.5" y1="764.5" x2="609.6" y2="772.9" stroke="#e00000" stroke-width="5"/>
<line x1="609.6" y1="772.9" x2="607.7" y2="781.3" stroke="#e4e4e4" stroke-width="5"/>
<line x1="634.0" y1="761.7" x2="633.0" y2="756.5" stroke="#e00000" stroke-width="5"/>
<line x1="633.0" y1="756.5" x2="632.0" y2="751.4" stroke="#e4e4e4" stroke-width="5"/>
<line x1="634.0" y1="761.7" x2="637.2" y2="759.9" stroke="#e00000" stroke-width="5"/>
<line x1="637.2" y1="759.9" x2="640.4" y2="758.0" stroke="#e4e4e4" stroke-width="5"/>
<line x1="659.0" y1="750.5" x2="659.5" y2="758.9" stroke="#e00000" stroke-width="5"/>
<line x1="659.5" y1="758.9" x2="660.0" y2="767.3" stroke="#e4e4e4" stroke-width="5"/>
<line x1="659.0" y1="750.5" x2="662.4" y2="754.2" stroke="#e00000" stroke-width="5"/>
<line x1="662.4" y1="754.2" x2="665.7" y2="758.0" stroke="#e4e4e4" stroke-width="5"/>
<line x1="684.3" y1="746.8" x2="680.1" y2="740.7" stroke="#e00000" stroke-width="5"/>
<line x1="680.1" y1="740.7" x2="676.0" y2="734.6" stroke="#e4e4e4" stroke-width="5"/>
<line x1="684.3" y1="746.8" x2="680.1" y2="751.4" stroke="#e00000" stroke-width="5"/>
<line x1="680.1" y1="751.4" x2="676.0" y2="756.0" stroke="#e4e4e4" stroke-width="5"/>
<line x1="691.8" y1="761.7" x2="696.4" y2="755.7" stroke="#e00000" stroke-width="5"/>
<line x1="696.4" y1="755.7" x2="701.0" y2="749.6" stroke="#e4e4e4" stroke-width="5"/>
<line x1="691.8" y1="761.7" x2="692.8" y2="770.5" stroke="#e00000" stroke-width="5"/>
<line x1="692.8" y1="770.5" x2="693.7" y2="779.4" stroke="#e4e4e4" stroke-width="5"/>
<line x1="691.8" y1="761.7" x2="699.3" y2="760.4" stroke="#e00000" stroke-width="5"/>
<line x1="699.3" y1="760.4" x2="706.8" y2="759.0" stroke="#e4e4e4" stroke-width="5"/>
<line x1="732.0" y1="760.8" x2="725.5" y2="757.5" stroke="#e00000" stroke-width="5"/>
<line x1="725.5" y1="757.5" x2="718.9" y2="754.2" stroke="#e4e4e4" stroke-width="5"/>
<line x1="733.8" y1="752.4" x2="733.4" y2="748.6" stroke="#e00000" stroke-width="5"/>
<line x1="733.4" y1="748.6" x2="733.0" y2="744.9" stroke="#e4e4e4" stroke-width="5"/>
<line x1="750.7" y1="739.3" x2="745.1" y2="740.2" stroke="#e00000" stroke-width="5"/>
<line x1="745.1" y1="740.2" x2="739.5" y2="741.2" stroke="#e4e4e4" stroke-width="5"/>
<line x1="750.7" y1="739.3" x2="747.9" y2="742.1" stroke="#e00000" stroke-width="5"/>
<line x1="747.9" y1="742.1" x2="745.0" y2="745.0" stroke="#e4e4e4" stroke-width="5"/>
<line x1="750.7" y1="739.3" x2="750.7" y2="745.8" stroke="#e00000" stroke-width="5"/>
<line x1="750.7" y1="745.8" x2="750.7" y2="752.4" stroke="#e4e4e4" stroke-width="5"/>
<line x1="732.0" y1="760.8" x2="739.5" y2="762.6" stroke="#e00000" stroke-width="5"/>
<line x1="739.5" y1="762.6" x2="747.0" y2="764.5" stroke="#e4e4e4" stroke-width="5"/>
<line x1="732.0" y1="760.8" x2="735.8" y2="765.4" stroke="#e00000" stroke-width="5"/>
<line x1="735.8" y1="765.4" x2="739.5" y2="770.0" stroke="#e4e4e4" stroke-width="5"/>
<line x1="783.4" y1="744.9" x2="776.3" y2="739.8" stroke="#e00000" stroke-width="5"/>
<line x1="776.3" y1="739.8" x2="769.3" y2="734.6" stroke="#e4e4e4" stroke-width="5"/>
<line x1="783.4" y1="744.9" x2="781.5" y2="736.5" stroke="#e00000" stroke-width="5"/>
<line x1="781.5" y1="736.5" x2="779.6" y2="728.0" stroke="#e4e4e4" stroke-width="5"/>
<line x1="783.4" y1="744.9" x2="786.2" y2="748.1" stroke="#e00000" stroke-width="5"/>
<line x1="786.2" y1="748.1" x2="789.0" y2="751.4" stroke="#e4e4e4" stroke-width="5"/>
<line x1="803.0" y1="738.4" x2="802.5" y2="742.6" stroke="#e00000" stroke-width="5"/>
<line x1="802.5" y1="742.6" x2="802.0" y2="746.8" stroke="#e4e4e4" stroke-width="5"/>
<line x1="803.0" y1="738.4" x2="806.2" y2="744.5" stroke="#e00000" stroke-width="5"/>
<line x1="806.2" y1="744.5" x2="809.5" y2="750.5" stroke="#e4e4e4" stroke-width="5"/>
<line x1="798.3" y1="759.8" x2="793.1" y2="760.8" stroke="#e00000" stroke-width="5"/>
<line x1="793.1" y1="760.8" x2="788.0" y2="761.7" stroke="#e4e4e4" stroke-width="5"/>
<line x1="833.8" y1="749.6" x2="827.7" y2="754.2" stroke="#e00000" stroke-width="5"/>
<line x1="827.7" y1="754.2" x2="821.6" y2="758.9" stroke="#e4e4e4" stroke-width="5"/>
<line x1="833.8" y1="749.6" x2="829.6" y2="757.5" stroke="#e00000" stroke-width="5"/>
<line x1="829.6" y1="757.5" x2="825.4" y2="765.4" stroke="#e4e4e4" stroke-width="5"/>
<line x1="833.8" y1="749.6" x2="833.8" y2="752.9" stroke="#e00000" stroke-width="5"/>
<line x1="833.8" y1="752.9" x2="833.8" y2="756.1" stroke="#e4e4e4" stroke-width="5"/>
<line x1="844.0" y1="748.6" x2="852.5" y2="748.6" stroke="#e00000" stroke-width="5"/>
<line x1="852.5" y1="748.6" x2="860.9" y2="748.6" stroke="#e4e4e4" stroke-width="5"/>
<line x1="849.7" y1="765.4" x2="853.9" y2="765.4" stroke="#e00000" stroke-width="5"/>
<line x1="853.9" y1="765.4" x2="858.0" y2="765.4" stroke="#e4e4e4" stroke-width="5"/>
<line x1="849.7" y1="765.4" x2="849.7" y2="772.4" stroke="#e00000" stroke-width="5"/>
<line x1="849.7" y1="772.4" x2="849.7" y2="779.4" stroke="#e4e4e4" stroke-width="5"/>
<line x1="888.9" y1="743.0" x2="885.1" y2="737.0" stroke="#e00000" stroke-width="5"/>
<line x1="885.1" y1="737.0" x2="881.4" y2="730.9" stroke="#e4e4e4" stroke-width="5"/>
<line x1="888.9" y1="756.1" x2="884.2" y2="755.2" stroke="#e00000" stroke-width="5"/>
<line x1="884.2" y1="755.2" x2="879.6" y2="754.2" stroke="#e4e4e4" stroke-width="5"/>
<line x1="888.9" y1="743.0" x2="891.7" y2="744.4" stroke="#e00000" stroke-width="5"/>
<line x1="891.7" y1="744.4" x2="894.5" y2="745.8" stroke="#e4e4e4" stroke-width="5"/>
<line x1="894.5" y1="765.4" x2="899.6" y2="760.8" stroke="#e00000" stroke-width="5"/>
<line x1="899.6" y1="760.8" x2="904.8" y2="756.1" stroke="#e4e4e4" stroke-width="5"/>
<line x1="894.5" y1="765.4" x2="896.4" y2="774.3" stroke="#e00000" stroke-width="5"/>
<line x1="896.4" y1="774.3" x2="898.2" y2="783.2" stroke="#e4e4e4" stroke-width="5"/>
<circle cx="612.4" cy="737.4" r="7.4" fill="url(#gO)"/>
<circle cx="612.4" cy="746.8" r="7.4" fill="url(#gO)"/>
<circle cx="619.0" cy="735.5" r="7.1" fill="url(#gH)"/>
<circle cx="618.0" cy="744.9" r="7.1" fill="url(#gH)"/>
<circle cx="611.5" cy="764.5" r="7.4" fill="url(#gO)"/>
<circle cx="608.7" cy="758.9" r="7.1" fill="url(#gH)"/>
<circle cx="607.7" cy="781.3" r="7.1" fill="url(#gH)"/>
<circle cx="632.0" cy="751.4" r="7.1" fill="url(#gH)"/>
<circle cx="634.0" cy="761.7" r="7.4" fill="url(#gO)"/>
<circle cx="640.4" cy="758.0" r="7.1" fill="url(#gH)"/>
<circle cx="660.0" cy="767.3" r="7.1" fill="url(#gH)"/>
<circle cx="659.0" cy="750.5" r="7.4" fill="url(#gO)"/>
<circle cx="665.7" cy="758.0" r="7.1" fill="url(#gH)"/>
<circle cx="676.0" cy="734.6" r="7.1" fill="url(#gH)"/>
<circle cx="684.3" cy="746.8" r="7.4" fill="url(#gO)"/>
<circle cx="676.0" cy="756.0" r="7.1" fill="url(#gH)"/>
<circle cx="701.0" cy="749.6" r="7.1" fill="url(#gH)"/>
<circle cx="691.8" cy="761.7" r="7.4" fill="url(#gO)"/>
<circle cx="693.7" cy="779.4" r="7.1" fill="url(#gH)"/>
<circle cx="706.8" cy="759.0" r="7.1" fill="url(#gH)"/>
<circle cx="718.9" cy="754.2" r="7.1" fill="url(#gH)"/>
<circle cx="733.0" cy="744.9" r="7.1" fill="url(#gH)"/>
<circle cx="739.5" cy="741.2" r="7.1" fill="url(#gH)"/>
<circle cx="750.7" cy="739.3" r="7.4" fill="url(#gO)"/>
<circle cx="745.0" cy="745.0" r="7.1" fill="url(#gH)"/>
<circle cx="750.7" cy="752.4" r="7.1" fill="url(#gH)"/>
<circle cx="733.8" cy="752.4" r="7.4" fill="url(#gO)"/>
<circle cx="732.0" cy="760.8" r="7.4" fill="url(#gO)"/>
<circle cx="747.0" cy="764.5" r="7.1" fill="url(#gH)"/>
<circle cx="739.5" cy="770.0" r="7.1" fill="url(#gH)"/>
<circle cx="769.3" cy="734.6" r="7.1" fill="url(#gH)"/>
<circle cx="779.6" cy="728.0" r="7.1" fill="url(#gH)"/>
<circle cx="771.2" cy="753.3" r="7.4" fill="url(#gO)"/>
<circle cx="783.4" cy="744.9" r="7.4" fill="url(#gO)"/>
<circle cx="803.0" cy="738.4" r="7.4" fill="url(#gO)"/>
<circle cx="789.0" cy="751.4" r="7.1" fill="url(#gH)"/>
<circle cx="802.0" cy="746.8" r="7.1" fill="url(#gH)"/>
<circle cx="809.5" cy="750.5" r="7.1" fill="url(#gH)"/>
<circle cx="798.3" cy="759.8" r="7.4" fill="url(#gO)"/>
<circle cx="788.0" cy="761.7" r="7.1" fill="url(#gH)"/>
<circle cx="806.7" cy="772.0" r="7.4" fill="url(#gO)"/>
<circle cx="806.7" cy="766.4" r="7.1" fill="url(#gH)"/>
<circle cx="821.6" cy="758.9" r="7.1" fill="url(#gH)"/>
<circle cx="825.4" cy="765.4" r="7.1" fill="url(#gH)"/>
<circle cx="833.8" cy="749.6" r="7.4" fill="url(#gO)"/>
<circle cx="844.0" cy="748.6" r="7.4" fill="url(#gO)"/>
<circle cx="833.8" cy="756.1" r="7.1" fill="url(#gH)"/>
<circle cx="860.9" cy="748.6" r="7.1" fill="url(#gH)"/>
<circle cx="858.0" cy="765.4" r="7.1" fill="url(#gH)"/>
<circle cx="849.7" cy="765.4" r="7.4" fill="url(#gO)"/>
<circle cx="849.7" cy="779.4" r="7.1" fill="url(#gH)"/>
<circle cx="881.4" cy="730.9" r="7.1" fill="url(#gH)"/>
<circle cx="888.9" cy="743.0" r="7.4" fill="url(#gO)"/>
<circle cx="879.6" cy="754.2" r="7.1" fill="url(#gH)"/>
<circle cx="888.9" cy="756.1" r="7.4" fill="url(#gO)"/>
<circle cx="894.5" cy="745.8" r="7.1" fill="url(#gH)"/>
<circle cx="904.8" cy="756.1" r="7.1" fill="url(#gH)"/>
<circle cx="913.2" cy="757.0" r="7.1" fill="url(#gH)"/>
<circle cx="894.5" cy="765.4" r="7.4" fill="url(#gO)"/>
<circle cx="898.2" cy="783.2" r="7.1" fill="url(#gH)"/>
<g stroke="#000"><line x1="928.8" y1="687.6" x2="982" y2="687.6" stroke-width="4.1"/><line x1="929.6" y1="823.4" x2="984.7" y2="823.4" stroke-width="4.1"/><line x1="950.3" y1="705" x2="950.3" y2="795" stroke-width="4.5"/></g>
<polygon points="950.3,689 938,709.5 962.6,709.5" fill="#000"/>
<polygon points="950.3,816.1 938.2,791.7 962.7,791.7" fill="#000"/>
<text x="960.5" y="767.5" font-family='"Liberation Sans", sans-serif' font-size="38.5">6Å</text>
<defs><clipPath id="clat"><rect x="570" y="931" width="395" height="265"/></clipPath></defs>
<path d="M646.4,975.8L629.1,1005.0M629.1,1005.0L594.5,1005.0M594.5,1005.0L577.2,975.8M577.2,975.8L594.5,946.5M594.5,946.5L629.1,946.5M629.1,946.5L646.4,975.8M646.4,1034.3L629.1,1063.5M629.1,1063.5L594.5,1063.5M594.5,1063.5L577.2,1034.3M577.2,1034.3L594.5,1005.0M629.1,1005.0L646.4,1034.3M646.4,1092.8L629.1,1122.0M629.1,1122.0L594.5,1122.0M594.5,1122.0L577.2,1092.8M577.2,1092.8L594.5,1063.5M629.1,1063.5L646.4,1092.8M646.4,1151.3L629.1,1180.5M629.1,1180.5L594.5,1180.5M594.5,1180.5L577.2,1151.3M577.2,1151.3L594.5,1122.0M629.1,1122.0L646.4,1151.3M698.3,1005.0L681.0,1034.3M681.0,1034.3L646.4,1034.3M646.4,975.8L681.0,975.8M681.0,975.8L698.3,1005.0M698.3,1063.5L681.0,1092.8M681.0,1092.8L646.4,1092.8M681.0,1034.3L698.3,1063.5M698.3,1122.0L681.0,1151.3M681.0,1151.3L646.4,1151.3M681.0,1092.8L698.3,1122.0M750.2,975.8L732.9,1005.0M732.9,1005.0L698.3,1005.0M681.0,975.8L698.3,946.5M698.3,946.5L732.9,946.5M732.9,946.5L750.2,975.8M750.2,1034.3L732.9,1063.5M732.9,1063.5L698.3,1063.5M732.9,1005.0L750.2,1034.3M750.2,1092.8L732.9,1122.0M732.9,1122.0L698.3,1122.0M732.9,1063.5L750.2,1092.8M750.2,1151.3L732.9,1180.5M732.9,1180.5L698.3,1180.5M698.3,1180.5L681.0,1151.3M732.9,1122.0L750.2,1151.3M802.1,1005.0L784.8,1034.3M784.8,1034.3L750.2,1034.3M750.2,975.8L784.8,975.8M784.8,975.8L802.1,1005.0M802.1,1063.5L784.8,1092.8M784.8,1092.8L750.2,1092.8M784.8,1034.3L802.1,1063.5M802.1,1122.0L784.8,1151.3M784.8,1151.3L750.2,1151.3M784.8,1092.8L802.1,1122.0M854.0,975.8L836.7,1005.0M836.7,1005.0L802.1,1005.0M784.8,975.8L802.1,946.5M802.1,946.5L836.7,946.5M836.7,946.5L854.0,975.8M854.0,1034.3L836.7,1063.5M836.7,1063.5L802.1,1063.5M836.7,1005.0L854.0,1034.3M854.0,1092.8L836.7,1122.0M836.7,1122.0L802.1,1122.0M836.7,1063.5L854.0,1092.8M854.0,1151.3L836.7,1180.5M836.7,1180.5L802.1,1180.5M802.1,1180.5L784.8,1151.3M836.7,1122.0L854.0,1151.3M905.9,1005.0L888.6,1034.3M888.6,1034.3L854.0,1034.3M854.0,975.8L888.6,975.8M888.6,975.8L905.9,1005.0M905.9,1063.5L888.6,1092.8M888.6,1092.8L854.0,1092.8M888.6,1034.3L905.9,1063.5M905.9,1122.0L888.6,1151.3M888.6,1151.3L854.0,1151.3M888.6,1092.8L905.9,1122.0M957.8,975.8L940.5,1005.0M940.5,1005.0L905.9,1005.0M888.6,975.8L905.9,946.5M905.9,946.5L940.5,946.5M940.5,946.5L957.8,975.8M957.8,1034.3L940.5,1063.5M940.5,1063.5L905.9,1063.5M940.5,1005.0L957.8,1034.3M957.8,1092.8L940.5,1122.0M940.5,1122.0L905.9,1122.0M940.5,1063.5L957.8,1092.8M957.8,1151.3L940.5,1180.5M940.5,1180.5L905.9,1180.5M905.9,1180.5L888.6,1151.3M940.5,1122.0L957.8,1151.3M594.5,946.5L594.5,933.0M594.5,1180.5L594.5,1194.5M629.1,946.5L629.1,933.0M629.1,1180.5L629.1,1194.5M624.6,946.5L624.6,933.0M624.6,1180.5L624.6,1194.5M698.3,946.5L698.3,933.0M698.3,1180.5L698.3,1194.5M732.9,946.5L732.9,933.0M732.9,1180.5L732.9,1194.5M728.4,946.5L728.4,933.0M728.4,1180.5L728.4,1194.5M802.1,946.5L802.1,933.0M802.1,1180.5L802.1,1194.5M836.7,946.5L836.7,933.0M836.7,1180.5L836.7,1194.5M832.2,946.5L832.2,933.0M832.2,1180.5L832.2,1194.5M905.9,946.5L905.9,933.0M905.9,1180.5L905.9,1194.5M940.5,946.5L940.5,933.0M940.5,1180.5L940.5,1194.5M936.0,946.5L936.0,933.0M936.0,1180.5L936.0,1194.5" stroke="#6ee6cc" stroke-width="1.15" fill="none"/><path d="M642.2,975.8L627.0,1001.5M596.6,1001.5L581.4,975.8M581.4,975.8L596.6,950.1M627.0,950.1L642.2,975.8M642.2,1034.3L627.0,1060.0M596.6,1060.0L581.4,1034.3M581.4,1034.3L596.6,1008.6M627.0,1008.6L642.2,1034.3M642.2,1092.8L627.0,1118.5M596.6,1118.5L581.4,1092.8M581.4,1092.8L596.6,1067.1M627.0,1067.1L642.2,1092.8M642.2,1151.3L627.0,1177.0M596.6,1177.0L581.4,1151.3M581.4,1151.3L596.6,1125.6M627.0,1125.6L642.2,1151.3M678.9,1030.8L648.5,1030.8M648.5,979.3L678.9,979.3M678.9,1089.3L648.5,1089.3M648.5,1037.8L678.9,1037.8M678.9,1147.8L648.5,1147.8M648.5,1096.3L678.9,1096.3M746.0,975.8L730.8,1001.5M700.4,1001.5L685.2,975.8M685.2,975.8L700.4,950.1M730.8,950.1L746.0,975.8M746.0,1034.3L730.8,1060.0M700.4,1060.0L685.2,1034.3M685.2,1034.3L700.4,1008.6M730.8,1008.6L746.0,1034.3M746.0,1092.8L730.8,1118.5M700.4,1118.5L685.2,1092.8M685.2,1092.8L700.4,1067.1M730.8,1067.1L746.0,1092.8M746.0,1151.3L730.8,1177.0M700.4,1177.0L685.2,1151.3M685.2,1151.3L700.4,1125.6M730.8,1125.6L746.0,1151.3M782.7,1030.8L752.3,1030.8M752.3,979.3L782.7,979.3M782.7,1089.3L752.3,1089.3M752.3,1037.8L782.7,1037.8M782.7,1147.8L752.3,1147.8M752.3,1096.3L782.7,1096.3M849.8,975.8L834.6,1001.5M804.2,1001.5L789.0,975.8M789.0,975.8L804.2,950.1M834.6,950.1L849.8,975.8M849.8,1034.3L834.6,1060.0M804.2,1060.0L789.0,1034.3M789.0,1034.3L804.2,1008.6M834.6,1008.6L849.8,1034.3M849.8,1092.8L834.6,1118.5M804.2,1118.5L789.0,1092.8M789.0,1092.8L804.2,1067.1M834.6,1067.1L849.8,1092.8M849.8,1151.3L834.6,1177.0M804.2,1177.0L789.0,1151.3M789.0,1151.3L804.2,1125.6M834.6,1125.6L849.8,1151.3M886.5,1030.8L856.1,1030.8M856.1,979.3L886.5,979.3M886.5,1089.3L856.1,1089.3M856.1,1037.8L886.5,1037.8M886.5,1147.8L856.1,1147.8M856.1,1096.3L886.5,1096.3M953.6,975.8L938.4,1001.5M908.0,1001.5L892.8,975.8M892.8,975.8L908.0,950.1M938.4,950.1L953.6,975.8M953.6,1034.3L938.4,1060.0M908.0,1060.0L892.8,1034.3M892.8,1034.3L908.0,1008.6M938.4,1008.6L953.6,1034.3M953.6,1092.8L938.4,1118.5M908.0,1118.5L892.8,1092.8M892.8,1092.8L908.0,1067.1M938.4,1067.1L953.6,1092.8M953.6,1151.3L938.4,1177.0M908.0,1177.0L892.8,1151.3M892.8,1151.3L908.0,1125.6M938.4,1125.6L953.6,1151.3" stroke="#6ee6cc" stroke-width="1.05" fill="none" opacity="0.9"/>
<path d="M616.2,979.4L627.7,972.8M607.7,995.5L609.1,1008.0" stroke="#9c9c9c" stroke-width="10.4" fill="none"/><circle cx="627.7" cy="972.8" r="5.2" fill="#9c9c9c"/><circle cx="609.1" cy="1008.0" r="5.2" fill="#9c9c9c"/><path d="M616.2,979.4L627.7,972.8M607.7,995.5L609.1,1008.0" stroke="#fdfdfd" stroke-width="7.800000000000001" fill="none"/><circle cx="627.7" cy="972.8" r="3.9000000000000004" fill="#fdfdfd"/><circle cx="609.1" cy="1008.0" r="3.9000000000000004" fill="#fdfdfd"/><path d="M606.4,984.9L616.2,979.4M606.4,984.9L607.7,995.5" stroke="#d00000" stroke-width="10.4" stroke-linejoin="round" fill="none"/><circle cx="606.4" cy="984.9" r="5.2" fill="#d00000"/><path d="M606.4,984.9L616.2,979.4M606.4,984.9L607.7,995.5" stroke="#ff1010" stroke-width="7.800000000000001" stroke-linejoin="round" fill="none"/><circle cx="606.4" cy="984.9" r="3.9000000000000004" fill="#ff1010"/>
<path d="M737.4,965.4L751.4,967.9M722.4,972.1L719.0,982.5" stroke="#9c9c9c" stroke-width="10.4" fill="none"/><circle cx="751.4" cy="967.9" r="5.2" fill="#9c9c9c"/><circle cx="719.0" cy="982.5" r="5.2" fill="#9c9c9c"/><path d="M737.4,965.4L751.4,967.9M722.4,972.1L719.0,982.5" stroke="#fdfdfd" stroke-width="7.800000000000001" fill="none"/><circle cx="751.4" cy="967.9" r="3.9000000000000004" fill="#fdfdfd"/><circle cx="719.0" cy="982.5" r="3.9000000000000004" fill="#fdfdfd"/><path d="M725.4,963.3L737.4,965.4M725.4,963.3L722.4,972.1" stroke="#d00000" stroke-width="10.4" stroke-linejoin="round" fill="none"/><circle cx="725.4" cy="963.3" r="5.2" fill="#d00000"/><path d="M725.4,963.3L737.4,965.4M725.4,963.3L722.4,972.1" stroke="#ff1010" stroke-width="7.800000000000001" stroke-linejoin="round" fill="none"/><circle cx="725.4" cy="963.3" r="3.9000000000000004" fill="#ff1010"/>
<path d="M795.3,962.0L803.2,953.5M792.4,979.4L796.9,991.4" stroke="#9c9c9c" stroke-width="10.4" fill="none"/><circle cx="803.2" cy="953.5" r="5.2" fill="#9c9c9c"/><circle cx="796.9" cy="991.4" r="5.2" fill="#9c9c9c"/><path d="M795.3,962.0L803.2,953.5M792.4,979.4L796.9,991.4" stroke="#fdfdfd" stroke-width="7.800000000000001" fill="none"/><circle cx="803.2" cy="953.5" r="3.9000000000000004" fill="#fdfdfd"/><circle cx="796.9" cy="991.4" r="3.9000000000000004" fill="#fdfdfd"/><path d="M788.5,969.2L795.3,962.0M788.5,969.2L792.4,979.4" stroke="#d00000" stroke-width="10.4" stroke-linejoin="round" fill="none"/><circle cx="788.5" cy="969.2" r="5.2" fill="#d00000"/><path d="M788.5,969.2L795.3,962.0M788.5,969.2L792.4,979.4" stroke="#ff1010" stroke-width="7.800000000000001" stroke-linejoin="round" fill="none"/><circle cx="788.5" cy="969.2" r="3.9000000000000004" fill="#ff1010"/>
<path d="M858.3,950.2L847.9,945.2M868.4,964.1L869.9,975.5" stroke="#9c9c9c" stroke-width="10.4" fill="none"/><circle cx="847.9" cy="945.2" r="5.2" fill="#9c9c9c"/><circle cx="869.9" cy="975.5" r="5.2" fill="#9c9c9c"/><path d="M858.3,950.2L847.9,945.2M868.4,964.1L869.9,975.5" stroke="#fdfdfd" stroke-width="7.800000000000001" fill="none"/><circle cx="847.9" cy="945.2" r="3.9000000000000004" fill="#fdfdfd"/><circle cx="869.9" cy="975.5" r="3.9000000000000004" fill="#fdfdfd"/><path d="M867.2,954.4L858.3,950.2M867.2,954.4L868.4,964.1" stroke="#d00000" stroke-width="10.4" stroke-linejoin="round" fill="none"/><circle cx="867.2" cy="954.4" r="5.2" fill="#d00000"/><path d="M867.2,954.4L858.3,950.2M867.2,954.4L868.4,964.1" stroke="#ff1010" stroke-width="7.800000000000001" stroke-linejoin="round" fill="none"/><circle cx="867.2" cy="954.4" r="3.9000000000000004" fill="#ff1010"/>
<path d="M926.2,997.3L914.5,999.0M941.2,1002.4L947.3,1010.1" stroke="#9c9c9c" stroke-width="10.4" fill="none"/><circle cx="914.5" cy="999.0" r="5.2" fill="#9c9c9c"/><circle cx="947.3" cy="1010.1" r="5.2" fill="#9c9c9c"/><path d="M926.2,997.3L914.5,999.0M941.2,1002.4L947.3,1010.1" stroke="#fdfdfd" stroke-width="7.800000000000001" fill="none"/><circle cx="914.5" cy="999.0" r="3.9000000000000004" fill="#fdfdfd"/><circle cx="947.3" cy="1010.1" r="3.9000000000000004" fill="#fdfdfd"/><path d="M936.1,995.9L926.2,997.3M936.1,995.9L941.2,1002.4" stroke="#d00000" stroke-width="10.4" stroke-linejoin="round" fill="none"/><circle cx="936.1" cy="995.9" r="5.2" fill="#d00000"/><path d="M936.1,995.9L926.2,997.3M936.1,995.9L941.2,1002.4" stroke="#ff1010" stroke-width="7.800000000000001" stroke-linejoin="round" fill="none"/><circle cx="936.1" cy="995.9" r="3.9000000000000004" fill="#ff1010"/>
<path d="M678.4,1012.4L669.5,1005.5M683.5,1028.5L680.5,1040.4" stroke="#9c9c9c" stroke-width="10.4" fill="none"/><circle cx="669.5" cy="1005.5" r="5.2" fill="#9c9c9c"/><circle cx="680.5" cy="1040.4" r="5.2" fill="#9c9c9c"/><path d="M678.4,1012.4L669.5,1005.5M683.5,1028.5L680.5,1040.4" stroke="#fdfdfd" stroke-width="7.800000000000001" fill="none"/><circle cx="669.5" cy="1005.5" r="3.9000000000000004" fill="#fdfdfd"/><circle cx="680.5" cy="1040.4" r="3.9000000000000004" fill="#fdfdfd"/><path d="M686.0,1018.3L678.4,1012.4M686.0,1018.3L683.5,1028.5" stroke="#d00000" stroke-width="10.4" stroke-linejoin="round" fill="none"/><circle cx="686.0" cy="1018.3" r="5.2" fill="#d00000"/><path d="M686.0,1018.3L678.4,1012.4M686.0,1018.3L683.5,1028.5" stroke="#ff1010" stroke-width="7.800000000000001" stroke-linejoin="round" fill="none"/><circle cx="686.0" cy="1018.3" r="3.9000000000000004" fill="#ff1010"/>
<path d="M739.4,1025.3L726.9,1024.3M750.8,1020.1L751.7,1012.9" stroke="#9c9c9c" stroke-width="10.4" fill="none"/><circle cx="726.9" cy="1024.3" r="5.2" fill="#9c9c9c"/><circle cx="751.7" cy="1012.9" r="5.2" fill="#9c9c9c"/><path d="M739.4,1025.3L726.9,1024.3M750.8,1020.1L751.7,1012.9" stroke="#fdfdfd" stroke-width="7.800000000000001" fill="none"/><circle cx="726.9" cy="1024.3" r="3.9000000000000004" fill="#fdfdfd"/><circle cx="751.7" cy="1012.9" r="3.9000000000000004" fill="#fdfdfd"/><path d="M750.0,1026.2L739.4,1025.3M750.0,1026.2L750.8,1020.1" stroke="#d00000" stroke-width="10.4" stroke-linejoin="round" fill="none"/><circle cx="750.0" cy="1026.2" r="5.2" fill="#d00000"/><path d="M750.0,1026.2L739.4,1025.3M750.0,1026.2L750.8,1020.1" stroke="#ff1010" stroke-width="7.800000000000001" stroke-linejoin="round" fill="none"/><circle cx="750.0" cy="1026.2" r="3.9000000000000004" fill="#ff1010"/>
<path d="M614.4,1041.0L619.1,1035.2M611.2,1056.1L612.2,1068.0" stroke="#9c9c9c" stroke-width="10.4" fill="none"/><circle cx="619.1" cy="1035.2" r="5.2" fill="#9c9c9c"/><circle cx="612.2" cy="1068.0" r="5.2" fill="#9c9c9c"/><path d="M614.4,1041.0L619.1,1035.2M611.2,1056.1L612.2,1068.0" stroke="#fdfdfd" stroke-width="7.800000000000001" fill="none"/><circle cx="619.1" cy="1035.2" r="3.9000000000000004" fill="#fdfdfd"/><circle cx="612.2" cy="1068.0" r="3.9000000000000004" fill="#fdfdfd"/><path d="M610.3,1045.9L614.4,1041.0M610.3,1045.9L611.2,1056.1" stroke="#d00000" stroke-width="10.4" stroke-linejoin="round" fill="none"/><circle cx="610.3" cy="1045.9" r="5.2" fill="#d00000"/><path d="M610.3,1045.9L614.4,1041.0M610.3,1045.9L611.2,1056.1" stroke="#ff1010" stroke-width="7.800000000000001" stroke-linejoin="round" fill="none"/><circle cx="610.3" cy="1045.9" r="3.9000000000000004" fill="#ff1010"/>
<path d="M862.1,1019.7L852.8,1023.6M875.0,1020.5L880.8,1025.2" stroke="#9c9c9c" stroke-width="10.4" fill="none"/><circle cx="852.8" cy="1023.6" r="5.2" fill="#9c9c9c"/><circle cx="880.8" cy="1025.2" r="5.2" fill="#9c9c9c"/><path d="M862.1,1019.7L852.8,1023.6M875.0,1020.5L880.8,1025.2" stroke="#fdfdfd" stroke-width="7.800000000000001" fill="none"/><circle cx="852.8" cy="1023.6" r="3.9000000000000004" fill="#fdfdfd"/><circle cx="880.8" cy="1025.2" r="3.9000000000000004" fill="#fdfdfd"/><path d="M870.1,1016.4L862.1,1019.7M870.1,1016.4L875.0,1020.5" stroke="#d00000" stroke-width="10.4" stroke-linejoin="round" fill="none"/><circle cx="870.1" cy="1016.4" r="5.2" fill="#d00000"/><path d="M870.1,1016.4L862.1,1019.7M870.1,1016.4L875.0,1020.5" stroke="#ff1010" stroke-width="7.800000000000001" stroke-linejoin="round" fill="none"/><circle cx="870.1" cy="1016.4" r="3.9000000000000004" fill="#ff1010"/>
<path d="M810.2,1036.0L806.7,1036.0M812.3,1043.5L811.3,1052.2" stroke="#9c9c9c" stroke-width="10.4" fill="none"/><circle cx="806.7" cy="1036.0" r="5.2" fill="#9c9c9c"/><circle cx="811.3" cy="1052.2" r="5.2" fill="#9c9c9c"/><path d="M810.2,1036.0L806.7,1036.0M812.3,1043.5L811.3,1052.2" stroke="#fdfdfd" stroke-width="7.800000000000001" fill="none"/><circle cx="806.7" cy="1036.0" r="3.9000000000000004" fill="#fdfdfd"/><circle cx="811.3" cy="1052.2" r="3.9000000000000004" fill="#fdfdfd"/><path d="M813.1,1036.0L810.2,1036.0M813.1,1036.0L812.3,1043.5" stroke="#d00000" stroke-width="10.4" stroke-linejoin="round" fill="none"/><circle cx="813.1" cy="1036.0" r="5.2" fill="#d00000"/><path d="M813.1,1036.0L810.2,1036.0M813.1,1036.0L812.3,1043.5" stroke="#ff1010" stroke-width="7.800000000000001" stroke-linejoin="round" fill="none"/><circle cx="813.1" cy="1036.0" r="3.9000000000000004" fill="#ff1010"/>
<path d="M971.9,1039.1L983.0,1040.8M958.3,1045.7L953.3,1055.1" stroke="#9c9c9c" stroke-width="10.4" fill="none"/><circle cx="983.0" cy="1040.8" r="5.2" fill="#9c9c9c"/><circle cx="953.3" cy="1055.1" r="5.2" fill="#9c9c9c"/><path d="M971.9,1039.1L983.0,1040.8M958.3,1045.7L953.3,1055.1" stroke="#fdfdfd" stroke-width="7.800000000000001" fill="none"/><circle cx="983.0" cy="1040.8" r="3.9000000000000004" fill="#fdfdfd"/><circle cx="953.3" cy="1055.1" r="3.9000000000000004" fill="#fdfdfd"/><path d="M962.5,1037.7L971.9,1039.1M962.5,1037.7L958.3,1045.7" stroke="#d00000" stroke-width="10.4" stroke-linejoin="round" fill="none"/><circle cx="962.5" cy="1037.7" r="5.2" fill="#d00000"/><path d="M962.5,1037.7L971.9,1039.1M962.5,1037.7L958.3,1045.7" stroke="#ff1010" stroke-width="7.800000000000001" stroke-linejoin="round" fill="none"/><circle cx="962.5" cy="1037.7" r="3.9000000000000004" fill="#ff1010"/>
<path d="M672.4,1080.5L667.8,1081.9M685.0,1082.3L695.4,1085.7" stroke="#9c9c9c" stroke-width="10.4" fill="none"/><circle cx="667.8" cy="1081.9" r="5.2" fill="#9c9c9c"/><circle cx="695.4" cy="1085.7" r="5.2" fill="#9c9c9c"/><path d="M672.4,1080.5L667.8,1081.9M685.0,1082.3L695.4,1085.7" stroke="#fdfdfd" stroke-width="7.800000000000001" fill="none"/><circle cx="667.8" cy="1081.9" r="3.9000000000000004" fill="#fdfdfd"/><circle cx="695.4" cy="1085.7" r="3.9000000000000004" fill="#fdfdfd"/><path d="M676.2,1079.3L672.4,1080.5M676.2,1079.3L685.0,1082.3" stroke="#d00000" stroke-width="10.4" stroke-linejoin="round" fill="none"/><circle cx="676.2" cy="1079.3" r="5.2" fill="#d00000"/><path d="M676.2,1079.3L672.4,1080.5M676.2,1079.3L685.0,1082.3" stroke="#ff1010" stroke-width="7.800000000000001" stroke-linejoin="round" fill="none"/><circle cx="676.2" cy="1079.3" r="3.9000000000000004" fill="#ff1010"/>
<path d="M736.2,1084.2L739.6,1073.8M737.8,1100.2L743.2,1108.5" stroke="#9c9c9c" stroke-width="10.4" fill="none"/><circle cx="739.6" cy="1073.8" r="5.2" fill="#9c9c9c"/><circle cx="743.2" cy="1108.5" r="5.2" fill="#9c9c9c"/><path d="M736.2,1084.2L739.6,1073.8M737.8,1100.2L743.2,1108.5" stroke="#fdfdfd" stroke-width="7.800000000000001" fill="none"/><circle cx="739.6" cy="1073.8" r="3.9000000000000004" fill="#fdfdfd"/><circle cx="743.2" cy="1108.5" r="3.9000000000000004" fill="#fdfdfd"/><path d="M733.2,1093.1L736.2,1084.2M733.2,1093.1L737.8,1100.2" stroke="#d00000" stroke-width="10.4" stroke-linejoin="round" fill="none"/><circle cx="733.2" cy="1093.1" r="5.2" fill="#d00000"/><path d="M733.2,1093.1L736.2,1084.2M733.2,1093.1L737.8,1100.2" stroke="#ff1010" stroke-width="7.800000000000001" stroke-linejoin="round" fill="none"/><circle cx="733.2" cy="1093.1" r="3.9000000000000004" fill="#ff1010"/>
<path d="M594.1,1105.1L584.3,1104.1M603.2,1109.3L604.1,1113.2" stroke="#9c9c9c" stroke-width="10.4" fill="none"/><circle cx="584.3" cy="1104.1" r="5.2" fill="#9c9c9c"/><circle cx="604.1" cy="1113.2" r="5.2" fill="#9c9c9c"/><path d="M594.1,1105.1L584.3,1104.1M603.2,1109.3L604.1,1113.2" stroke="#fdfdfd" stroke-width="7.800000000000001" fill="none"/><circle cx="584.3" cy="1104.1" r="3.9000000000000004" fill="#fdfdfd"/><circle cx="604.1" cy="1113.2" r="3.9000000000000004" fill="#fdfdfd"/><path d="M602.4,1105.9L594.1,1105.1M602.4,1105.9L603.2,1109.3" stroke="#d00000" stroke-width="10.4" stroke-linejoin="round" fill="none"/><circle cx="602.4" cy="1105.9" r="5.2" fill="#d00000"/><path d="M602.4,1105.9L594.1,1105.1M602.4,1105.9L603.2,1109.3" stroke="#ff1010" stroke-width="7.800000000000001" stroke-linejoin="round" fill="none"/><circle cx="602.4" cy="1105.9" r="3.9000000000000004" fill="#ff1010"/>
<path d="M666.9,1126.6L666.5,1115.2M658.4,1141.9L648.0,1148.3" stroke="#9c9c9c" stroke-width="10.4" fill="none"/><circle cx="666.5" cy="1115.2" r="5.2" fill="#9c9c9c"/><circle cx="648.0" cy="1148.3" r="5.2" fill="#9c9c9c"/><path d="M666.9,1126.6L666.5,1115.2M658.4,1141.9L648.0,1148.3" stroke="#fdfdfd" stroke-width="7.800000000000001" fill="none"/><circle cx="666.5" cy="1115.2" r="3.9000000000000004" fill="#fdfdfd"/><circle cx="648.0" cy="1148.3" r="3.9000000000000004" fill="#fdfdfd"/><path d="M667.3,1136.4L666.9,1126.6M667.3,1136.4L658.4,1141.9" stroke="#d00000" stroke-width="10.4" stroke-linejoin="round" fill="none"/><circle cx="667.3" cy="1136.4" r="5.2" fill="#d00000"/><path d="M667.3,1136.4L666.9,1126.6M667.3,1136.4L658.4,1141.9" stroke="#ff1010" stroke-width="7.800000000000001" stroke-linejoin="round" fill="none"/><circle cx="667.3" cy="1136.4" r="3.9000000000000004" fill="#ff1010"/>
<path d="M797.9,1099.3L787.0,1104.3M815.3,1101.4L824.7,1108.9" stroke="#9c9c9c" stroke-width="10.4" fill="none"/><circle cx="787.0" cy="1104.3" r="5.2" fill="#9c9c9c"/><circle cx="824.7" cy="1108.9" r="5.2" fill="#9c9c9c"/><path d="M797.9,1099.3L787.0,1104.3M815.3,1101.4L824.7,1108.9" stroke="#fdfdfd" stroke-width="7.800000000000001" fill="none"/><circle cx="787.0" cy="1104.3" r="3.9000000000000004" fill="#fdfdfd"/><circle cx="824.7" cy="1108.9" r="3.9000000000000004" fill="#fdfdfd"/><path d="M807.2,1095.0L797.9,1099.3M807.2,1095.0L815.3,1101.4" stroke="#d00000" stroke-width="10.4" stroke-linejoin="round" fill="none"/><circle cx="807.2" cy="1095.0" r="5.2" fill="#d00000"/><path d="M807.2,1095.0L797.9,1099.3M807.2,1095.0L815.3,1101.4" stroke="#ff1010" stroke-width="7.800000000000001" stroke-linejoin="round" fill="none"/><circle cx="807.2" cy="1095.0" r="3.9000000000000004" fill="#ff1010"/>
<path d="M900.1,1077.6L903.0,1070.9M891.8,1089.1L885.0,1095.9" stroke="#9c9c9c" stroke-width="10.4" fill="none"/><circle cx="903.0" cy="1070.9" r="5.2" fill="#9c9c9c"/><circle cx="885.0" cy="1095.9" r="5.2" fill="#9c9c9c"/><path d="M900.1,1077.6L903.0,1070.9M891.8,1089.1L885.0,1095.9" stroke="#fdfdfd" stroke-width="7.800000000000001" fill="none"/><circle cx="903.0" cy="1070.9" r="3.9000000000000004" fill="#fdfdfd"/><circle cx="885.0" cy="1095.9" r="3.9000000000000004" fill="#fdfdfd"/><path d="M897.7,1083.3L900.1,1077.6M897.7,1083.3L891.8,1089.1" stroke="#d00000" stroke-width="10.4" stroke-linejoin="round" fill="none"/><circle cx="897.7" cy="1083.3" r="5.2" fill="#d00000"/><path d="M897.7,1083.3L900.1,1077.6M897.7,1083.3L891.8,1089.1" stroke="#ff1010" stroke-width="7.800000000000001" stroke-linejoin="round" fill="none"/><circle cx="897.7" cy="1083.3" r="3.9000000000000004" fill="#ff1010"/>
<path d="M946.8,1099.2L937.5,1095.4M953.9,1112.4L952.7,1124.1" stroke="#9c9c9c" stroke-width="10.4" fill="none"/><circle cx="937.5" cy="1095.4" r="5.2" fill="#9c9c9c"/><circle cx="952.7" cy="1124.1" r="5.2" fill="#9c9c9c"/><path d="M946.8,1099.2L937.5,1095.4M953.9,1112.4L952.7,1124.1" stroke="#fdfdfd" stroke-width="7.800000000000001" fill="none"/><circle cx="937.5" cy="1095.4" r="3.9000000000000004" fill="#fdfdfd"/><circle cx="952.7" cy="1124.1" r="3.9000000000000004" fill="#fdfdfd"/><path d="M954.8,1102.5L946.8,1099.2M954.8,1102.5L953.9,1112.4" stroke="#d00000" stroke-width="10.4" stroke-linejoin="round" fill="none"/><circle cx="954.8" cy="1102.5" r="5.2" fill="#d00000"/><path d="M954.8,1102.5L946.8,1099.2M954.8,1102.5L953.9,1112.4" stroke="#ff1010" stroke-width="7.800000000000001" stroke-linejoin="round" fill="none"/><circle cx="954.8" cy="1102.5" r="3.9000000000000004" fill="#ff1010"/>
<path d="M865.2,1135.9L861.6,1137.6M874.0,1139.4L880.8,1145.2" stroke="#9c9c9c" stroke-width="10.4" fill="none"/><circle cx="861.6" cy="1137.6" r="5.2" fill="#9c9c9c"/><circle cx="880.8" cy="1145.2" r="5.2" fill="#9c9c9c"/><path d="M865.2,1135.9L861.6,1137.6M874.0,1139.4L880.8,1145.2" stroke="#fdfdfd" stroke-width="7.800000000000001" fill="none"/><circle cx="861.6" cy="1137.6" r="3.9000000000000004" fill="#fdfdfd"/><circle cx="880.8" cy="1145.2" r="3.9000000000000004" fill="#fdfdfd"/><path d="M868.2,1134.4L865.2,1135.9M868.2,1134.4L874.0,1139.4" stroke="#d00000" stroke-width="10.4" stroke-linejoin="round" fill="none"/><circle cx="868.2" cy="1134.4" r="5.2" fill="#d00000"/><path d="M868.2,1134.4L865.2,1135.9M868.2,1134.4L874.0,1139.4" stroke="#ff1010" stroke-width="7.800000000000001" stroke-linejoin="round" fill="none"/><circle cx="868.2" cy="1134.4" r="3.9000000000000004" fill="#ff1010"/>
<path d="M602.3,1165.3L592.8,1158.8M607.4,1176.9L604.0,1184.1" stroke="#9c9c9c" stroke-width="10.4" fill="none"/><circle cx="592.8" cy="1158.8" r="5.2" fill="#9c9c9c"/><circle cx="604.0" cy="1184.1" r="5.2" fill="#9c9c9c"/><path d="M602.3,1165.3L592.8,1158.8M607.4,1176.9L604.0,1184.1" stroke="#fdfdfd" stroke-width="7.800000000000001" fill="none"/><circle cx="592.8" cy="1158.8" r="3.9000000000000004" fill="#fdfdfd"/><circle cx="604.0" cy="1184.1" r="3.9000000000000004" fill="#fdfdfd"/><path d="M610.3,1170.8L602.3,1165.3M610.3,1170.8L607.4,1176.9" stroke="#d00000" stroke-width="10.4" stroke-linejoin="round" fill="none"/><circle cx="610.3" cy="1170.8" r="5.2" fill="#d00000"/><path d="M610.3,1170.8L602.3,1165.3M610.3,1170.8L607.4,1176.9" stroke="#ff1010" stroke-width="7.800000000000001" stroke-linejoin="round" fill="none"/><circle cx="610.3" cy="1170.8" r="3.9000000000000004" fill="#ff1010"/>
<path d="M708.7,1165.6L698.8,1159.3M716.8,1181.5L716.4,1194.0M726.6,1164.9L737.7,1157.8" stroke="#9c9c9c" stroke-width="10.4" fill="none"/><circle cx="698.8" cy="1159.3" r="5.2" fill="#9c9c9c"/><circle cx="716.4" cy="1194.0" r="5.2" fill="#9c9c9c"/><circle cx="737.7" cy="1157.8" r="5.2" fill="#9c9c9c"/><path d="M708.7,1165.6L698.8,1159.3M716.8,1181.5L716.4,1194.0M726.6,1164.9L737.7,1157.8" stroke="#fdfdfd" stroke-width="7.800000000000001" fill="none"/><circle cx="698.8" cy="1159.3" r="3.9000000000000004" fill="#fdfdfd"/><circle cx="716.4" cy="1194.0" r="3.9000000000000004" fill="#fdfdfd"/><circle cx="737.7" cy="1157.8" r="3.9000000000000004" fill="#fdfdfd"/><path d="M717.1,1170.9L708.7,1165.6M717.1,1170.9L716.8,1181.5M717.1,1170.9L726.6,1164.9" stroke="#d00000" stroke-width="10.4" stroke-linejoin="round" fill="none"/><circle cx="717.1" cy="1170.9" r="5.2" fill="#d00000"/><path d="M717.1,1170.9L708.7,1165.6M717.1,1170.9L716.8,1181.5M717.1,1170.9L726.6,1164.9" stroke="#ff1010" stroke-width="7.800000000000001" stroke-linejoin="round" fill="none"/><circle cx="717.1" cy="1170.9" r="3.9000000000000004" fill="#ff1010"/>
<path d="M760.2,1137.3L759.9,1133.0M751.2,1147.9L740.2,1156.1" stroke="#9c9c9c" stroke-width="10.4" fill="none"/><circle cx="759.9" cy="1133.0" r="5.2" fill="#9c9c9c"/><circle cx="740.2" cy="1156.1" r="5.2" fill="#9c9c9c"/><path d="M760.2,1137.3L759.9,1133.0M751.2,1147.9L740.2,1156.1" stroke="#fdfdfd" stroke-width="7.800000000000001" fill="none"/><circle cx="759.9" cy="1133.0" r="3.9000000000000004" fill="#fdfdfd"/><circle cx="740.2" cy="1156.1" r="3.9000000000000004" fill="#fdfdfd"/><path d="M760.5,1141.0L760.2,1137.3M760.5,1141.0L751.2,1147.9" stroke="#d00000" stroke-width="10.4" stroke-linejoin="round" fill="none"/><circle cx="760.5" cy="1141.0" r="5.2" fill="#d00000"/><path d="M760.5,1141.0L760.2,1137.3M760.5,1141.0L751.2,1147.9" stroke="#ff1010" stroke-width="7.800000000000001" stroke-linejoin="round" fill="none"/><circle cx="760.5" cy="1141.0" r="3.9000000000000004" fill="#ff1010"/>
<path d="M800.1,1170.4L791.9,1166.5M815.3,1166.9L824.8,1159.0" stroke="#9c9c9c" stroke-width="10.4" fill="none"/><circle cx="791.9" cy="1166.5" r="5.2" fill="#9c9c9c"/><circle cx="824.8" cy="1159.0" r="5.2" fill="#9c9c9c"/><path d="M800.1,1170.4L791.9,1166.5M815.3,1166.9L824.8,1159.0" stroke="#fdfdfd" stroke-width="7.800000000000001" fill="none"/><circle cx="791.9" cy="1166.5" r="3.9000000000000004" fill="#fdfdfd"/><circle cx="824.8" cy="1159.0" r="3.9000000000000004" fill="#fdfdfd"/><path d="M807.2,1173.7L800.1,1170.4M807.2,1173.7L815.3,1166.9" stroke="#d00000" stroke-width="10.4" stroke-linejoin="round" fill="none"/><circle cx="807.2" cy="1173.7" r="5.2" fill="#d00000"/><path d="M807.2,1173.7L800.1,1170.4M807.2,1173.7L815.3,1166.9" stroke="#ff1010" stroke-width="7.800000000000001" stroke-linejoin="round" fill="none"/><circle cx="807.2" cy="1173.7" r="3.9000000000000004" fill="#ff1010"/>
<path d="M912.4,1164.3L924.7,1163.1M897.7,1174.7L892.7,1185.8" stroke="#9c9c9c" stroke-width="10.4" fill="none"/><circle cx="924.7" cy="1163.1" r="5.2" fill="#9c9c9c"/><circle cx="892.7" cy="1185.8" r="5.2" fill="#9c9c9c"/><path d="M912.4,1164.3L924.7,1163.1M897.7,1174.7L892.7,1185.8" stroke="#fdfdfd" stroke-width="7.800000000000001" fill="none"/><circle cx="924.7" cy="1163.1" r="3.9000000000000004" fill="#fdfdfd"/><circle cx="892.7" cy="1185.8" r="3.9000000000000004" fill="#fdfdfd"/><path d="M902.0,1165.2L912.4,1164.3M902.0,1165.2L897.7,1174.7" stroke="#d00000" stroke-width="10.4" stroke-linejoin="round" fill="none"/><circle cx="902.0" cy="1165.2" r="5.2" fill="#d00000"/><path d="M902.0,1165.2L912.4,1164.3M902.0,1165.2L897.7,1174.7" stroke="#ff1010" stroke-width="7.800000000000001" stroke-linejoin="round" fill="none"/><circle cx="902.0" cy="1165.2" r="3.9000000000000004" fill="#ff1010"/>
<path d="M966.0,1162.3L968.7,1162.8M964.1,1172.3L964.6,1184.6" stroke="#9c9c9c" stroke-width="10.4" fill="none"/><circle cx="968.7" cy="1162.8" r="5.2" fill="#9c9c9c"/><circle cx="964.6" cy="1184.6" r="5.2" fill="#9c9c9c"/><path d="M966.0,1162.3L968.7,1162.8M964.1,1172.3L964.6,1184.6" stroke="#fdfdfd" stroke-width="7.800000000000001" fill="none"/><circle cx="968.7" cy="1162.8" r="3.9000000000000004" fill="#fdfdfd"/><circle cx="964.6" cy="1184.6" r="3.9000000000000004" fill="#fdfdfd"/><path d="M963.6,1161.9L966.0,1162.3M963.6,1161.9L964.1,1172.3" stroke="#d00000" stroke-width="10.4" stroke-linejoin="round" fill="none"/><circle cx="963.6" cy="1161.9" r="5.2" fill="#d00000"/><path d="M963.6,1161.9L966.0,1162.3M963.6,1161.9L964.1,1172.3" stroke="#ff1010" stroke-width="7.800000000000001" stroke-linejoin="round" fill="none"/><circle cx="963.6" cy="1161.9" r="3.9000000000000004" fill="#ff1010"/>
<path d="M657.6,1203.0L654.2,1195.9M669.3,1210.9L679.5,1213.2" stroke="#9c9c9c" stroke-width="10.4" fill="none"/><circle cx="654.2" cy="1195.9" r="5.2" fill="#9c9c9c"/><circle cx="679.5" cy="1213.2" r="5.2" fill="#9c9c9c"/><path d="M657.6,1203.0L654.2,1195.9M669.3,1210.9L679.5,1213.2" stroke="#fdfdfd" stroke-width="7.800000000000001" fill="none"/><circle cx="654.2" cy="1195.9" r="3.9000000000000004" fill="#fdfdfd"/><circle cx="679.5" cy="1213.2" r="3.9000000000000004" fill="#fdfdfd"/><path d="M660.5,1209.0L657.6,1203.0M660.5,1209.0L669.3,1210.9" stroke="#d00000" stroke-width="10.4" stroke-linejoin="round" fill="none"/><circle cx="660.5" cy="1209.0" r="5.2" fill="#d00000"/><path d="M660.5,1209.0L657.6,1203.0M660.5,1209.0L669.3,1210.9" stroke="#ff1010" stroke-width="7.800000000000001" stroke-linejoin="round" fill="none"/><circle cx="660.5" cy="1209.0" r="3.9000000000000004" fill="#ff1010"/>
<path d="M670.3,1005.5L737.2,1045.0M737.2,1045.0L733.2,1109.8M733.2,1109.8L677.2,1146.2M677.2,1146.2L611.3,1107.8M611.3,1107.8L615.2,1043.0M615.2,1043.0L670.3,1005.5" stroke="#000" stroke-width="2.4" fill="none" stroke-dasharray="8.5,5"/><path d="M670.3,1005.5L677.2,1146.2M737.2,1045.0L611.3,1107.8M733.2,1109.8L615.2,1043.0" stroke="#000" stroke-width="3.1" fill="none" stroke-dasharray="9.5,4.5"/><path d="M670.3,1005.5L667.3,1010.7M670.3,1005.5L674.0,1010.2M737.2,1045.0L731.3,1044.1M737.2,1045.0L734.2,1050.2M733.2,1109.8L730.7,1104.4M733.2,1109.8L727.2,1110.2M677.2,1146.2L680.4,1141.2M677.2,1146.2L673.7,1141.3M611.3,1107.8L617.2,1108.6M611.3,1107.8L614.2,1102.5M615.2,1043.0L617.9,1048.3M615.2,1043.0L621.2,1042.4" stroke="#000" stroke-width="2.0" fill="none" stroke-linecap="round"/>
<path d="M871.1,1005.5L939.0,1040.0M939.0,1040.0L941.0,1105.0M941.0,1105.0L889.8,1144.2M889.8,1144.2L821.0,1112.8M821.0,1112.8L819.0,1047.9M819.0,1047.9L871.1,1005.5" stroke="#000" stroke-width="2.4" fill="none" stroke-dasharray="8.5,5"/><path d="M871.1,1005.5L889.8,1144.2M939.0,1040.0L821.0,1112.8M941.0,1105.0L819.0,1047.9" stroke="#000" stroke-width="3.1" fill="none" stroke-dasharray="9.5,4.5"/><path d="M871.1,1005.5L868.4,1010.9M871.1,1005.5L875.1,1009.9M939.0,1040.0L933.0,1039.7M939.0,1040.0L936.5,1045.5M941.0,1105.0L938.1,1099.8M941.0,1105.0L935.1,1105.8M889.8,1144.2L892.5,1138.9M889.8,1144.2L885.8,1139.7M821.0,1112.8L827.0,1113.1M821.0,1112.8L823.4,1107.3M819.0,1047.9L822.2,1053.0M819.0,1047.9L824.9,1046.8" stroke="#000" stroke-width="2.0" fill="none" stroke-linecap="round"/>
<text x="671.9" y="1282.5" font-family='"Liberation Sans", sans-serif' font-size="37.1">HB·H<tspan font-size="23.0" dy="8.2">2</tspan><tspan dy="-8.2">O ≈ 4-5</tspan></text>
</svg>
</body></html>
